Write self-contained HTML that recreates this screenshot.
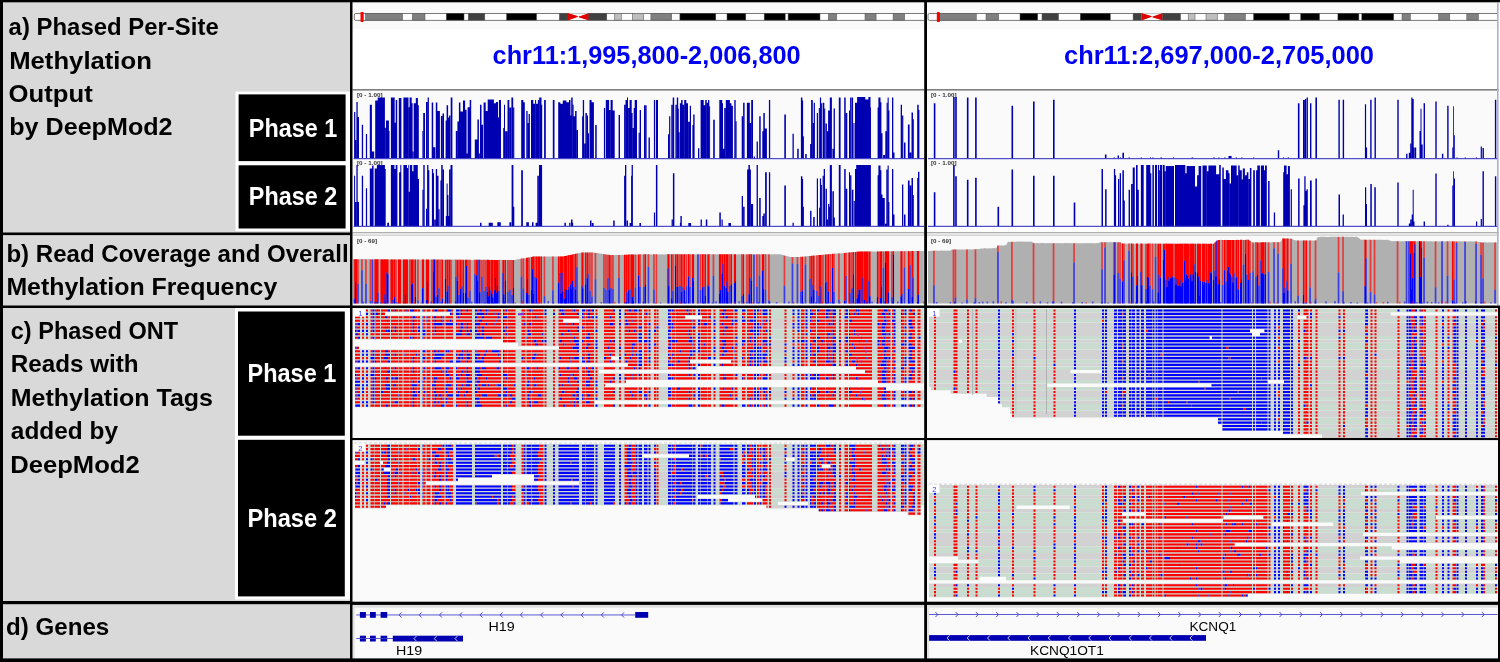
<!DOCTYPE html>
<html><head><meta charset="utf-8"><title>IGV phased methylation</title>
<style>html,body{margin:0;padding:0;background:#fff;}svg{display:block;will-change:transform}text{font-family:"Liberation Sans",sans-serif}</style></head>
<body><svg width="1500" height="662" viewBox="0 0 1500 662">
<defs>
<clipPath id="cpP1"><rect x="352.5" y="0" width="571.7" height="662"/></clipPath>
<clipPath id="cpP2"><rect x="927" y="0" width="571" height="662"/></clipPath>
<clipPath id="cp21"><rect x="927" y="308" width="573" height="130"/></clipPath>
</defs>
<rect x="0.00" y="0.00" width="1500.00" height="662.00" fill="#ffffff"/><rect x="0.00" y="0.00" width="351.00" height="662.00" fill="#d9d9d9"/><rect x="352.50" y="0.00" width="571.70" height="29.00" fill="#fafafa"/><rect x="352.50" y="29.00" width="571.70" height="60.00" fill="#ffffff"/><rect x="352.50" y="90.00" width="571.70" height="137.00" fill="#fafafa"/><rect x="352.50" y="227.00" width="571.70" height="5.50" fill="#ffffff"/><rect x="352.50" y="232.30" width="571.70" height="0.90" fill="#8c8c8c"/><rect x="352.50" y="233.20" width="571.70" height="2.30" fill="#e4e4e4"/><rect x="352.50" y="235.50" width="571.70" height="0.60" fill="#bdbdbd"/><rect x="352.50" y="236.00" width="571.70" height="70.00" fill="#fafafa"/><rect x="352.50" y="308.00" width="571.70" height="294.00" fill="#fafafa"/><rect x="352.50" y="604.00" width="571.70" height="56.00" fill="#fafafa"/><rect x="352.50" y="89.00" width="571.70" height="1.60" fill="#808080"/><rect x="927.00" y="0.00" width="571.60" height="29.00" fill="#fafafa"/><rect x="927.00" y="29.00" width="571.60" height="60.00" fill="#ffffff"/><rect x="927.00" y="90.00" width="571.60" height="137.00" fill="#fafafa"/><rect x="927.00" y="227.00" width="571.60" height="5.50" fill="#ffffff"/><rect x="927.00" y="232.30" width="571.60" height="0.90" fill="#8c8c8c"/><rect x="927.00" y="233.20" width="571.60" height="2.30" fill="#e4e4e4"/><rect x="927.00" y="235.50" width="571.60" height="0.60" fill="#bdbdbd"/><rect x="927.00" y="236.00" width="571.60" height="70.00" fill="#fafafa"/><rect x="927.00" y="308.00" width="571.60" height="294.00" fill="#fafafa"/><rect x="927.00" y="604.00" width="571.60" height="56.00" fill="#fafafa"/><rect x="927.00" y="89.00" width="571.60" height="1.60" fill="#808080"/><!--TRACKS--><path d="M354.1 158.6v-46.7h1.2v46.7zM355.3 158.6v-18.5h1v18.5zM356.4 158.6v-56.5h1.3v56.5zM357.7 158.6v-41.6h1.3v41.6zM361.8 158.6v-33.9h1.3v33.9zM365.9 158.6v-24.6h1.2v24.6zM369.8 158.6v-53.9h2.1v53.9zM371.9 158.6v-7.2h2.3v7.2zM375.2 158.6v-58h2.6v58zM377.7 158.6v-61.1h7.2v61.1zM384.9 158.6v-30.8h1v30.8zM386 158.6v-38h2.9v38zM388.8 158.6v-27.7h0.7v27.7zM390.9 158.6v-61.1h3.8v61.1zM394.7 158.6v-35.9h1v35.9zM395.7 158.6v-58.5h1.5v58.5zM398.8 158.6v-60.6h2.6v60.6zM403.4 158.6v-61.1h5.1v61.1zM408.6 158.6v-51.3h1v51.3zM409.6 158.6v-61.1h2.1v61.1zM411.6 158.6v-55.4h1v55.4zM412.7 158.6v-7.2h0.8v7.2zM413.7 158.6v-55.4h2.1v55.4zM415.8 158.6v-60.6h2.1v60.6zM417.8 158.6v-53.4h1v53.4zM422.4 158.6v-27.7h0.7v27.7zM423.2 158.6v-45.7h1.8v45.7zM426 158.6v-56.5h1.5v56.5zM427.6 158.6v-61.1h1.3v61.1zM431.7 158.6v-56h1.5v56zM433.2 158.6v-11.3h2.1v11.3zM435.8 158.6v-56h1.5v56zM437.3 158.6v-47.7h2.6v47.7zM440.9 158.6v-42.6h1.5v42.6zM442.5 158.6v-45.2h1.5v45.2zM445.6 158.6v-38h1v38zM446.6 158.6v-53.4h1.5v53.4zM448.1 158.6v-41.1h1v41.1zM449.1 158.6v-43.1h1.3v43.1zM450.7 158.6v-61.1h1.7v61.1zM455.8 158.6v-27.7h1.5v27.7zM457.4 158.6v-37h1.5v37zM458.9 158.6v-56h1.5v56zM460.4 158.6v-47.2h2.6v47.2zM463 158.6v-58h2.1v58zM465.1 158.6v-48.8h1.5v48.8zM466.6 158.6v-5.1h1v5.1zM467.6 158.6v-51.3h2.1v51.3zM469.7 158.6v-58.5h1.5v58.5zM474.8 158.6v-19h2.6v19zM477.4 158.6v-39h1.5v39zM478.9 158.6v-5.1h1v5.1zM480 158.6v-53.9h1.5v53.9zM481.5 158.6v-33.9h1.5v33.9zM483.6 158.6v-56h2.1v56zM485.6 158.6v-47.7h2.1v47.7zM487.7 158.6v-59h6.2v59zM493.8 158.6v-55.4h2.1v55.4zM495.9 158.6v-56.5h2.1v56.5zM498 158.6v-41.1h1v41.1zM499 158.6v-58.5h1v58.5zM495 158.6v-55.4h2.1v55.4zM497.1 158.6v-40.9h1.8v40.9zM498.9 158.6v-58.5h2.1v58.5zM503.2 158.6v-30.5h0.8v30.5zM504 158.6v-53.8h1v53.8zM505.1 158.6v-27.4h2.3v27.4zM507.5 158.6v-58.5h1.8v58.5zM509.4 158.6v-51.2h1.8v51.2zM511.4 158.6v-61.1h1.8v61.1zM513.3 158.6v-51.2h1v51.2zM521.2 158.6v-58.5h2.1v58.5zM523.3 158.6v-56.4h1.5v56.4zM526.3 158.6v-47.6h1.3v47.6zM527.7 158.6v-35.7h0.9v35.7zM528.6 158.6v-44.5h1.3v44.5zM531 158.6v-58.5h2.3v58.5zM533.2 158.6v-54.9h1.8v54.9zM535.1 158.6v-58.5h1v58.5zM536.1 158.6v-54.9h1.8v54.9zM537.9 158.6v-58.5h1.2v58.5zM539.2 158.6v-61.1h2.3v61.1zM541.4 158.6v-53.8h0.8v53.8zM544.1 158.6v-58.5h1.7v58.5zM552.8 158.6v-58.5h1.7v58.5zM558.2 158.6v-56.4h2.1v56.4zM560.2 158.6v-54.9h2.6v54.9zM562.8 158.6v-58h3.6v58zM566.4 158.6v-56.4h2.6v56.4zM569 158.6v-58.5h1.5v58.5zM570.5 158.6v-43h0.7v43zM571.2 158.6v-61.1h1.5v61.1zM572.8 158.6v-53.8h0.8v53.8zM573.6 158.6v-42.4h1.5v42.4zM575.1 158.6v-47.6h1.5v47.6zM576.7 158.6v-28.5h1.3v28.5zM582.1 158.6v-42.4h0.7v42.4zM582.8 158.6v-58.5h1.3v58.5zM584.2 158.6v-15h1.2v15zM585.4 158.6v-45.6h1.5v45.6zM587 158.6v-43h1v43zM588 158.6v-25.4h1v25.4zM589.5 158.6v-58.5h2.1v58.5zM591.6 158.6v-56.4h2.3v56.4zM595.2 158.6v-33.6h1.5v33.6zM603.9 158.6v-50.7h1.2v50.7zM605.8 158.6v-58.5h3.3v58.5zM609 158.6v-48.7h1.5v48.7zM610.6 158.6v-58.5h2.1v58.5zM612.6 158.6v-48.1h2.1v48.1zM618.6 158.6v-43.5h1.4v43.5zM624.1 158.6v-53.8h1.3v53.8zM625.5 158.6v-58.5h1.5v58.5zM627 158.6v-61.1h1v61.1zM628.1 158.6v-50.7h1.5v50.7zM629.6 158.6v-58.5h2.1v58.5zM631.6 158.6v-45.6h1v45.6zM632.7 158.6v-30.5h1v30.5zM633.7 158.6v-50.7h1v50.7zM634.7 158.6v-58.5h2.3v58.5zM638.6 158.6v-25.9h1v25.9zM639.7 158.6v-48.7h1.2v48.7zM644 158.6v-53.3h1v53.3zM640 158.6v-48.7h1v48.7zM645.1 158.6v-53.3h1.5v53.3zM648.5 158.6v-21.2h1.4v21.2zM653.9 158.6v-58.5h1.2v58.5zM655.9 158.6v-58.5h2.1v58.5zM668 158.6v-24.3h1v24.3zM669.1 158.6v-42.4h1.2v42.4zM671.3 158.6v-53.8h1.3v53.8zM672.7 158.6v-61.1h1.5v61.1zM675.4 158.6v-53.8h1.3v53.8zM676.8 158.6v-61.1h1.4v61.1zM678.2 158.6v-50.2h0.6v50.2zM678.8 158.6v-26.4h0.8v26.4zM679.9 158.6v-55.4h1.2v55.4zM681.1 158.6v-58.5h1.5v58.5zM682.6 158.6v-53.8h1.5v53.8zM684.2 158.6v-58.5h2.1v58.5zM686.2 158.6v-55.4h1.8v55.4zM688.1 158.6v-36.8h1.7v36.8zM689.8 158.6v-52.8h1.2v52.8zM692.4 158.6v-33.6h0.8v33.6zM693.2 158.6v-44h1.4v44zM698 158.6v-10.4h1.3v10.4zM700.6 158.6v-58.5h3.1v58.5zM703.7 158.6v-53.3h1.5v53.3zM705.2 158.6v-58.5h1.5v58.5zM706.8 158.6v-55.9h1.2v55.9zM708 158.6v-58.5h1.3v58.5zM709.4 158.6v-52.3h0.7v52.3zM713.2 158.6v-38.8h1.6v38.8zM719.3 158.6v-58.5h2.9v58.5zM722.2 158.6v-55.4h0.8v55.4zM723 158.6v-9.8h1.2v9.8zM724.2 158.6v-50.7h1.5v50.7zM725.8 158.6v-58.5h4.1v58.5zM729.9 158.6v-55.4h1.5v55.4zM731.4 158.6v-52.8h1.5v52.8zM734.3 158.6v-58.5h1.4v58.5zM735.8 158.6v-37.3h0.8v37.3zM741.7 158.6v-42.4h1.3v42.4zM743.1 158.6v-55.9h1.5v55.9zM746.9 158.6v-55.9h2.9v55.9zM749.7 158.6v-35.7h1.4v35.7zM751.2 158.6v-58.5h1.8v58.5zM753.8 158.6v-2.1h1.2v2.1zM756.6 158.6v-17.1h1.3v17.1zM759.2 158.6v-42.4h1.5v42.4zM762.3 158.6v-27.4h1v27.4zM763.3 158.6v-45.6h1.5v45.6zM764.8 158.6v-30h2.1v30zM768.9 158.6v-58.5h1.3v58.5zM784.4 158.6v-44h1.5v44zM784.3 158.6v-44h1.5v44zM792.5 158.6v-24.8h1.3v24.8zM797.2 158.6v-9.8h1.5v9.8zM800.9 158.6v-61.1h1.5v61.1zM802.4 158.6v-58h0.7v58zM803.1 158.6v-22.3h0.8v22.3zM805.2 158.6v-4.7h1.5v4.7zM810.1 158.6v-14.5h1v14.5zM811.1 158.6v-58.5h1.7v58.5zM812.9 158.6v-35.7h0.8v35.7zM813.7 158.6v-55.9h1.2v55.9zM816.8 158.6v-45.6h1.2v45.6zM818.8 158.6v-50.7h1v50.7zM819.9 158.6v-61.1h1.2v61.1zM821.1 158.6v-55.4h0.8v55.4zM822.6 158.6v-55.9h1.7v55.9zM824.4 158.6v-50.2h0.8v50.2zM825.5 158.6v-35.2h1.4v35.2zM827 158.6v-27.4h1.1v27.4zM828.1 158.6v-48.1h1.7v48.1zM829.8 158.6v-61.1h2.1v61.1zM832.4 158.6v-9.8h1.2v9.8zM833.6 158.6v-50.2h1.3v50.2zM838.8 158.6v-61.1h1.8v61.1zM844.2 158.6v-61.1h1.5v61.1zM845.8 158.6v-45.6h1.5v45.6zM849 158.6v-48.1h1v48.1zM850.1 158.6v-61.1h1.3v61.1zM851.7 158.6v-61.1h1.4v61.1zM853.5 158.6v-35.7h1v35.7zM855 158.6v-55.9h2.1v55.9zM857.1 158.6v-61.6h8.2v61.6zM865.3 158.6v-59h3.1v59zM868.4 158.6v-61.6h2.1v61.6zM870.4 158.6v-51.2h0.6v51.2zM877.6 158.6v-51.2h0.8v51.2zM878.4 158.6v-61.1h2.1v61.1zM880.5 158.6v-56.4h0.9v56.4zM881.4 158.6v-25.4h1.1v25.4zM883.1 158.6v-3.6h2v3.6zM885.3 158.6v-27.4h1.3v27.4zM886.6 158.6v-55.9h0.9v55.9zM887.6 158.6v-61.1h1.1v61.1zM888.7 158.6v-48.1h0.7v48.1zM892 158.6v-61.1h1.3v61.1zM893.3 158.6v-6.2h1.2v6.2zM900.7 158.6v-53.8h1.3v53.8zM902.1 158.6v-43h1.2v43zM904 158.6v-16h1.5v16zM907.9 158.6v-34.2h1.7v34.2zM909.7 158.6v-6.2h1.6v6.2zM911.5 158.6v-46.1h1.5v46.1zM913.1 158.6v-39.3h0.8v39.3zM917.2 158.6v-53.8h1.5v53.8zM918.7 158.6v-48.7h0.7v48.7z" fill="#0000b2"/><path d="M354.1 226.3v-50.5h1v50.5zM355.1 226.3v-24.2h1.2v24.2zM356.4 226.3v-61.3h1.3v61.3zM357.7 226.3v-24.2h1.3v24.2zM361.8 226.3v-50.5h1.3v50.5zM365.9 226.3v-38.1h1.2v38.1zM369.8 226.3v-57.7h2.3v57.7zM372.1 226.3v-60.8h1.5v60.8zM374.7 226.3v-57.7h2.3v57.7zM376.9 226.3v-61.3h8v61.3zM384.9 226.3v-57.2h0.8v57.2zM387.2 226.3v-3.6h1.8v3.6zM390.9 226.3v-61.3h3.5v61.3zM394.4 226.3v-57.2h1.3v57.2zM395.7 226.3v-61.3h1.7v61.3zM399.1 226.3v-54.1h1.2v54.1zM400.3 226.3v-61.3h1v61.3zM403.4 226.3v-61.3h3.6v61.3zM407 226.3v-58.2h1v58.2zM408 226.3v-61.3h0.7v61.3zM408.8 226.3v-34.5h1v34.5zM409.8 226.3v-61.3h2.4v61.3zM412.2 226.3v-55.1h1.3v55.1zM413.5 226.3v-61.3h4.3v61.3zM417.8 226.3v-47.4h1.2v47.4zM422.4 226.3v-36.6h0.8v36.6zM423.3 226.3v-61.3h1.4v61.3zM426 226.3v-17.5h1v17.5zM427.1 226.3v-61.3h1.3v61.3zM428.4 226.3v-56.1h0.9v56.1zM431.9 226.3v-57.2h1.3v57.2zM433.2 226.3v-53.1h0.8v53.1zM434.2 226.3v-6.7h1.5v6.7zM435.8 226.3v-57.2h1.3v57.2zM437.1 226.3v-50.5h1.4v50.5zM438.6 226.3v-17h1v17zM440.4 226.3v-45.8h0.8v45.8zM441.2 226.3v-61.3h1.5v61.3zM442.8 226.3v-56.7h1.2v56.7zM445.8 226.3v-10.3h0.8v10.3zM446.6 226.3v-42.8h1v42.8zM447.6 226.3v-31.4h0.8v31.4zM448.4 226.3v-10.3h0.7v10.3zM449.1 226.3v-56.7h1.3v56.7zM450.5 226.3v-61.3h2v61.3zM480 226.3v-3.6h1.5v3.6zM488.7 226.3v-3.6h4.1v3.6zM497.4 226.3v-4.1h2.6v4.1zM497.3 226.3v-4.1h1.3v4.1zM499.3 226.3v-4.1h1.5v4.1zM509.4 226.3v-4.1h1.8v4.1zM511.6 226.3v-61.3h1.8v61.3zM513.3 226.3v-19.6h1v19.6zM521.2 226.3v-56.1h1.7v56.1zM526.3 226.3v-4.1h2.6v4.1zM532 226.3v-4.1h1.5v4.1zM535.6 226.3v-3.6h1.7v3.6zM537.3 226.3v-50.5h1.6v50.5zM539 226.3v-61.3h3.1v61.3zM564.4 226.3v-3.6h1.5v3.6zM569.2 226.3v-3.6h1.3v3.6zM571 226.3v-6.7h1.5v6.7zM572.1 226.3v-3.6h1v3.6zM590 226.3v-5.7h1.5v5.7zM591.9 226.3v-3.4h1.7v3.4zM613.2 226.3v-5.7h1.5v5.7zM624.1 226.3v-50.5h1v50.5zM625 226.3v-61.3h1.3v61.3zM626.7 226.3v-5.7h1.3v5.7zM629.6 226.3v-3.4h1.5v3.4zM631.1 226.3v-50.5h0.8v50.5zM631.6 226.3v-61.3h1.3v61.3zM639.4 226.3v-3.4h1.5v3.4zM640 226.3v-3.4h1v3.4zM653.9 226.3v-13.9h1.2v13.9zM655.9 226.3v-61.3h1.5v61.3zM671.6 226.3v-6.7h1.2v6.7zM672.9 226.3v-53.1h1.5v53.1zM679.9 226.3v-3.6h0.7v3.6zM680.4 226.3v-10.3h1.4v10.3zM688.3 226.3v-3.4h2.8v3.4zM700.6 226.3v-6.7h1.3v6.7zM705.8 226.3v-6.7h1.5v6.7zM719.3 226.3v-13.9h1.5v13.9zM721.5 226.3v-6.7h1.2v6.7zM728.4 226.3v-3.4h2.6v3.4zM741.7 226.3v-30.4h1.3v30.4zM743.1 226.3v-19.6h1.5v19.6zM747.1 226.3v-56.7h1.3v56.7zM748.4 226.3v-61.3h1.5v61.3zM749.7 226.3v-56.7h1.2v56.7zM751 226.3v-22.2h2.1v22.2zM756.6 226.3v-61.3h1.3v61.3zM759.2 226.3v-28.3h1.5v28.3zM762.3 226.3v-10.3h1.3v10.3zM763.3 226.3v-12.9h1.5v12.9zM765.1 226.3v-54.1h1.7v54.1zM768.9 226.3v-54.1h1.3v54.1zM784.4 226.3v-40.7h1.5v40.7zM784.3 226.3v-40.7h1.5v40.7zM792.5 226.3v-3.6h1.3v3.6zM800.9 226.3v-50h1.5v50zM802.4 226.3v-47.4h0.7v47.4zM803.1 226.3v-19.6h0.8v19.6zM810.1 226.3v-15.5h1.4v15.5zM813.2 226.3v-9.3h1.5v9.3zM816.8 226.3v-47.9h1.2v47.9zM819 226.3v-18.5h0.8v18.5zM819.9 226.3v-47.9h1.2v47.9zM821.1 226.3v-41.2h0.8v41.2zM822.6 226.3v-50.5h1v50.5zM823.7 226.3v-57.2h1.3v57.2zM825.5 226.3v-37.6h1.4v37.6zM826.7 226.3v-6.7h1.3v6.7zM828.1 226.3v-22.2h1.2v22.2zM829.1 226.3v-19.6h0.7v19.6zM829.8 226.3v-61.3h2.1v61.3zM832.4 226.3v-35h1.5v35zM833.6 226.3v-8.8h1.3v8.8zM838.8 226.3v-61.3h1.8v61.3zM844.2 226.3v-57.2h1.5v57.2zM845.8 226.3v-37.6h1.5v37.6zM849 226.3v-54.1h1v54.1zM850.1 226.3v-51h1.3v51zM851.9 226.3v-36.6h1.5v36.6zM853.8 226.3v-25.2h1v25.2zM855 226.3v-57.2h1.2v57.2zM856.2 226.3v-61.3h14.7v61.3zM877.6 226.3v-51h0.8v51zM878.4 226.3v-60.8h2.1v60.8zM880.5 226.3v-56.1h0.9v56.1zM881.2 226.3v-31.9h1.3v31.9zM882.5 226.3v-28.3h2.3v28.3zM885 226.3v-2.6h1.3v2.6zM886.3 226.3v-56.7h1.2v56.7zM887.6 226.3v-60.8h1.1v60.8zM888.7 226.3v-24.2h0.7v24.2zM892 226.3v-57.2h1.3v57.2zM893 226.3v-11.8h1.5v11.8zM902 226.3v-41.7h1.3v41.7zM904 226.3v-11.8h1.5v11.8zM907.9 226.3v-45.8h1.7v45.8zM909.7 226.3v-40.7h1.6v40.7zM911.5 226.3v-48.4h1.5v48.4zM913.1 226.3v-31.4h0.8v31.4zM917.2 226.3v-48.4h1v48.4zM918 226.3v-54.6h1.4v54.6z" fill="#0000b2"/><path d="M933.8 158.6v-55.4h1.6v55.4zM953.1 158.6v-61.6h1.6v61.6zM955.2 158.6v-61.6h1.6v61.6zM966.9 158.6v-61h1.6v61zM975.1 158.6v-61h1.6v61zM1011.5 158.6v-52.9h1.6v52.9zM1033 158.6v-57.1h1.6v57.1zM1053 158.6v-58.9h1.6v58.9zM1104.9 158.6v-4.1h1.6v4.1zM1113.7 158.6v-1h1.2v1zM1117.6 158.6v-3.1h1.4v3.1zM1119.9 158.6v-1h1.2v1zM1122.4 158.6v-5.8h1.6v5.8zM1128.5 158.6v-1h1.4v1zM1140.7 158.6v-1h1.2v1zM1149.9 158.6v-1h1.2v1zM1152.4 158.6v-1h1.2v1zM1160.4 158.6v-1.2h1.6v1.2zM1172.9 158.6v-1h1.2v1zM1191.6 158.6v-1h1.6v1zM1213.1 158.6v-1h1.6v1zM1213.1 158.6v-1h1.4v1zM1218.2 158.6v-1h1.2v1zM1224.2 158.6v-1h1.2v1zM1228.5 158.6v-2.5h3.1v2.5zM1235.7 158.6v-1h1.2v1zM1241.2 158.6v-1h1.2v1zM1253.1 158.6v-1.2h1.2v1.2zM1277.8 158.6v-8.3h1.4v8.3zM1282.9 158.6v-1h1.2v1zM1287.8 158.6v-1h1.2v1zM1297.9 158.6v-55.4h1.6v55.4zM1303 158.6v-58.5h1.8v58.5zM1304.9 158.6v-59.5h1.2v59.5zM1306.5 158.6v-61h1.4v61zM1310 158.6v-55.4h1.4v55.4zM1315.4 158.6v-61h1.6v61zM1338.4 158.6v-58.9h1.4v58.9zM1342.7 158.6v-58.9h1.4v58.9zM1364.9 158.6v-54.4h1.2v54.4zM1366.1 158.6v-11h1v11zM1370.2 158.6v-58.9h1.4v58.9zM1374.5 158.6v-61h1.4v61zM1397.3 158.6v-58.9h1.4v58.9zM1406.1 158.6v-4.8h1.4v4.8zM1408.8 158.6v-5.8h1.4v5.8zM1410.2 158.6v-15.1h1v15.1zM1411.3 158.6v-61h1.2v61zM1412.5 158.6v-59.5h1.2v59.5zM1413.7 158.6v-11h1v11zM1415 158.6v-11h1.2v11zM1419.5 158.6v-27.5h1v27.5zM1420.5 158.6v-49.8h1v49.8zM1421.5 158.6v-14.1h1.2v14.1zM1423.6 158.6v-55.4h1.4v55.4zM1435.3 158.6v-57.1h1.4v57.1zM1441.9 158.6v-4.8h1.4v4.8zM1447.2 158.6v-52.9h1.4v52.9zM1452.3 158.6v-11h0.8v11zM1453.2 158.6v-52.3h0.8v52.3zM1454 158.6v-23.4h0.8v23.4zM1456.5 158.6v-1h1.2v1zM1464.7 158.6v-1h1.2v1zM1475.8 158.6v-1h1.2v1zM1480.7 158.6v-12h1.2v12zM1482.5 158.6v-10.5h1.4v10.5zM1494.9 158.6v-58.9h1.4v58.9z" fill="#0000b2"/><path d="M933.8 226.3v-34.1h1.6v34.1zM953.1 226.3v-61.3h1.6v61.3zM955.2 226.3v-50h1.6v50zM966.9 226.3v-46.5h1.6v46.5zM975.1 226.3v-48.5h1.6v48.5zM997.5 226.3v-19.5h1.6v19.5zM1011.5 226.3v-56.8h1.6v56.8zM1033 226.3v-50.6h1.6v50.6zM1053 226.3v-50.6h1.6v50.6zM1073.7 226.3v-23.9h1.6v23.9zM1101.5 226.3v-57.2h1.5v57.2zM1105.1 226.3v-37.1h1.5v37.1zM1113.9 226.3v-57.2h1.3v57.2zM1115.2 226.3v-51h0.9v51zM1118 226.3v-47.4h1.2v47.4zM1119.7 226.3v-53.1h1.3v53.1zM1122.4 226.3v-56.1h1.5v56.1zM1123.9 226.3v-25.8h0.9v25.8zM1128.6 226.3v-36.6h1.4v36.6zM1131.1 226.3v-42.2h1.5v42.2zM1132.7 226.3v-58.7h2.1v58.7zM1136 226.3v-61.3h1.6v61.3zM1137.6 226.3v-36.6h1.2v36.6zM1140.9 226.3v-61.3h2.8v61.3zM1146.2 226.3v-61.3h4.1v61.3zM1150.3 226.3v-53.1h1v53.1zM1152.4 226.3v-61.3h1.5v61.3zM1155 226.3v-61.3h2.1v61.3zM1158 226.3v-61.3h1v61.3zM1159.1 226.3v-56.1h0.8v56.1zM1159.9 226.3v-61.3h2.3v61.3zM1162.9 226.3v-61.3h1.8v61.3zM1164.7 226.3v-55.1h1v55.1zM1165.8 226.3v-60.3h8.2v60.3zM1175 226.3v-61.3h10.3v61.3zM1185.3 226.3v-53.1h1.3v53.1zM1186.6 226.3v-60.3h8.4v60.3zM1195 226.3v-39.7h2.1v39.7zM1197.1 226.3v-51h1.5v51zM1198.6 226.3v-60.3h2.6v60.3zM1202.5 226.3v-60.8h4.3v60.8zM1206.9 226.3v-55.1h1.5v55.1zM1208.4 226.3v-60.8h7.7v60.8zM1216.1 226.3v-52h3.1v52zM1219.2 226.3v-61.3h1.6v61.3zM1222.3 226.3v-58.7h1.5v58.7zM1223.8 226.3v-47.4h2.1v47.4zM1225.9 226.3v-56.1h2.6v56.1zM1228.4 226.3v-53.1h1.2v53.1zM1229.7 226.3v-42.8h1.3v42.8zM1231 226.3v-60.8h5.7v60.8zM1236.6 226.3v-51h1.5v51zM1238.2 226.3v-60.8h1.5v60.8zM1239.7 226.3v-56.1h2.1v56.1zM1241.8 226.3v-46.9h1v46.9zM1242.8 226.3v-57.7h2.1v57.7zM1244.9 226.3v-48.9h2.1v48.9zM1246.9 226.3v-54.1h1.5v54.1zM1248.5 226.3v-47.4h1.5v47.4zM1245 226.3v-51h1.8v51zM1246.8 226.3v-54.1h1.2v54.1zM1248.9 226.3v-47.4h1v47.4zM1249.9 226.3v-58.2h1.5v58.2zM1253.2 226.3v-56.1h1.7v56.1zM1256.1 226.3v-56.1h1.2v56.1zM1257.3 226.3v-60.8h2.6v60.8zM1260.9 226.3v-60.8h3.1v60.8zM1264 226.3v-56.1h1v56.1zM1265 226.3v-60.8h1.8v60.8zM1268.1 226.3v-45.3h1.5v45.3zM1273.8 226.3v-13.9h1.3v13.9zM1283.2 226.3v-54.1h0.8v54.1zM1284 226.3v-60.8h2.6v60.8zM1286.6 226.3v-52h1.3v52zM1287.9 226.3v-60.3h2v60.3zM1290.7 226.3v-37.1h1.2v37.1zM1298.1 226.3v-47.9h1.5v47.9zM1303.4 226.3v-21.1h0.9v21.1zM1304.3 226.3v-50h1.3v50zM1305.6 226.3v-35.5h1v35.5zM1306.6 226.3v-37.1h1.2v37.1zM1310 226.3v-45.8h1.7v45.8zM1315.4 226.3v-47.9h1.5v47.9zM1338.5 226.3v-31.9h1.5v31.9zM1342.6 226.3v-11.8h1.3v11.8zM1365 226.3v-39.1h1.2v39.1zM1366.2 226.3v-22.2h0.8v22.2zM1370.3 226.3v-42.2h1.5v42.2zM1374.3 226.3v-39.1h1.5v39.1zM1397.3 226.3v-43.8h1.4v43.8zM1408.8 226.3v-2.7h1.4v2.7zM1410.2 226.3v-6.8h1.4v6.8zM1411.7 226.3v-11.9h1v11.9zM1412.7 226.3v-36.6h1v36.6zM1413.7 226.3v-4.7h0.8v4.7zM1423.6 226.3v-4.7h1.4v4.7zM1435.3 226.3v-52.7h1.4v52.7zM1447.2 226.3v-1.6h1.4v1.6zM1452.3 226.3v-40.7h0.8v40.7zM1453.2 226.3v-55.1h0.8v55.1zM1454 226.3v-47.9h1v47.9zM1476 226.3v-4.7h1.2v4.7zM1480.7 226.3v-7.2h1.2v7.2zM1482.5 226.3v-55.1h1.4v55.1zM1494.9 226.3v-50h1.4v50z" fill="#0000b2"/><rect x="353.60" y="158.10" width="570.60" height="1.10" fill="#3b3bc8"/><rect x="353.60" y="225.80" width="570.60" height="1.10" fill="#3b3bc8"/><rect x="928.00" y="158.10" width="569.50" height="1.10" fill="#3b3bc8"/><rect x="928.00" y="225.80" width="569.50" height="1.10" fill="#3b3bc8"/><path d="M353.6 303.6L353.6 259.2L354.6 259.1L355.6 259.3L356.6 259.1L357.6 259.2L358.6 259.2L359.6 259.1L360.6 259.2L361.6 259.1L362.6 259.2L363.6 259.1L364.6 259.1L365.6 259.2L366.6 259.4L367.6 259.2L368.6 259.2L369.6 259.3L370.6 259.4L371.6 259.3L372.6 259.3L373.6 259.4L374.6 259.2L375.6 259.4L376.6 259.3L377.6 259.2L378.6 259.2L379.6 259.3L380.6 259.4L381.6 259.2L382.6 259.4L383.6 259.4L384.6 259.3L385.6 259.4L386.6 259.2L387.6 259.2L388.6 259.3L389.6 259.4L390.6 259.4L391.6 259.3L392.6 259.4L393.6 259.4L394.6 259.3L395.6 259.5L396.6 259.5L397.6 259.3L398.6 259.4L399.6 259.4L400.6 259.5L401.6 259.5L402.6 259.4L403.6 259.6L404.6 259.3L405.6 259.4L406.6 259.5L407.6 259.4L408.6 259.5L409.6 259.3L410.6 259.5L411.6 259.6L412.6 259.5L413.6 259.6L414.6 259.5L415.6 259.6L416.6 259.5L417.6 259.5L418.6 259.5L419.6 259.6L420.6 259.7L421.6 259.5L422.6 259.6L423.6 259.4L424.6 259.6L425.6 259.6L426.6 259.7L427.6 259.7L428.6 259.5L429.6 259.5L430.6 259.6L431.6 259.4L432.6 259.6L433.6 259.5L434.6 259.5L435.6 259.5L436.6 259.7L437.6 259.5L438.6 259.5L439.6 259.6L440.6 259.7L441.6 259.5L442.6 259.6L443.6 259.7L444.6 259.8L445.6 259.8L446.6 259.8L447.6 259.6L448.6 259.6L449.6 259.6L450.6 259.8L451.6 259.8L452.6 259.6L453.6 259.6L454.6 259.6L455.6 259.6L456.6 259.7L457.6 259.7L458.6 259.7L459.6 259.6L460.6 259.7L461.6 259.7L462.6 259.8L463.6 259.9L464.6 259.8L465.6 259.8L466.6 259.8L467.6 259.8L468.6 259.6L469.6 259.9L470.6 259.9L471.6 259.9L472.6 259.9L473.6 259.8L474.6 259.8L475.6 259.7L476.6 259.9L477.6 259.7L478.6 259.7L479.6 259.7L480.6 259.7L481.6 259.8L482.6 259.7L483.6 259.7L484.6 259.7L485.6 259.7L486.6 259.8L487.6 259.7L488.6 260L489.6 259.9L490.6 259.8L491.6 259.8L492.6 259.8L493.6 259.9L494.6 259.8L495.6 260L496.6 260.1L497.6 259.9L498.6 259.9L499.6 259.8L500.6 259.8L501.6 259.9L502.6 259.9L503.6 260L504.6 259.9L505.6 259.8L506.6 260.1L507.6 260L508.6 259.9L509.6 260L510.6 259.8L511.6 260L512.6 260.1L513.6 260.1L514.6 260L515.6 259.7L516.6 259.5L517.6 259.3L518.6 259.3L519.6 259.1L520.6 259L521.6 258.7L522.6 258.5L523.6 258.5L524.6 258.4L525.6 258.2L526.6 258L527.6 257.8L528.6 257.6L529.6 257.3L530.6 257.2L531.6 257L532.6 256.8L533.6 256.6L534.6 256.5L535.6 256.4L536.6 256.6L537.6 256.6L538.6 256.5L539.6 256.6L540.6 256.6L541.6 256.6L542.6 256.5L543.6 256.4L544.6 256.4L545.6 256.4L546.6 256.4L547.6 256.5L548.6 256.6L549.6 256.6L550.6 256.5L551.6 256.5L552.6 256.6L553.6 256.4L554.6 256.5L555.6 256.6L556.6 256.6L557.6 256.6L558.6 256.5L559.6 256.4L560.6 256.6L561.6 256.4L562.6 256.6L563.6 256.5L564.6 256.1L565.6 255.9L566.6 255.9L567.6 255.6L568.6 255.3L569.6 255L570.6 254.8L571.6 254.9L572.6 254.6L573.6 254.2L574.6 254.2L575.6 254.1L576.6 253.8L577.6 253.5L578.6 253.3L579.6 253L580.6 252.7L581.6 252.8L582.6 252.6L583.6 252.6L584.6 252.7L585.6 252.6L586.6 252.7L587.6 252.7L588.6 252.5L589.6 252.5L590.6 252.5L591.6 252.5L592.6 252.6L593.6 252.5L594.6 252.7L595.6 252.7L596.6 253.1L597.6 253.1L598.6 253.3L599.6 253.5L600.6 253.7L601.6 253.7L602.6 254L603.6 254.1L604.6 254.2L605.6 254.4L606.6 254.4L607.6 254.7L608.6 254.7L609.6 254.8L610.6 255.2L611.6 255.1L612.6 255.1L613.6 255.2L614.6 255.1L615.6 255L616.6 255L617.6 255L618.6 255L619.6 254.8L620.6 254.9L621.6 254.8L622.6 254.8L623.6 254.9L624.6 254.8L625.6 254.8L626.6 254.8L627.6 254.8L628.6 254.6L629.6 254.7L630.6 254.6L631.6 254.6L632.6 254.6L633.6 254.5L634.6 254.5L635.6 254.4L636.6 254.5L637.6 254.4L638.6 254.5L639.6 254.4L640.6 254.2L641.6 254.3L642.6 254.4L643.6 254.4L644.6 254.2L645.6 254.2L646.6 254.3L647.6 254.2L648.6 254.2L649.6 254.2L650.6 254.4L651.6 254.4L652.6 254.4L653.6 254.2L654.6 254.4L655.6 254.3L656.6 254.2L657.6 254.4L658.6 254.4L659.6 254.2L660.6 254.4L661.6 254.3L662.6 254.3L663.6 254.4L664.6 254.4L665.6 254.2L666.6 254.3L667.6 254.3L668.6 254.3L669.6 254.2L670.6 254.2L671.6 254.4L672.6 254.2L673.6 254.3L674.6 254.3L675.6 254.2L676.6 254.2L677.6 254.3L678.6 254.3L679.6 254.2L680.6 254.4L681.6 254.4L682.6 254.4L683.6 254.2L684.6 254.2L685.6 254.2L686.6 254.4L687.6 254.2L688.6 254.2L689.6 254.3L690.6 254.4L691.6 254.4L692.6 254.2L693.6 254.2L694.6 254.4L695.6 254.3L696.6 254.4L697.6 254.2L698.6 254.2L699.6 254.4L700.6 254.3L701.6 254.2L702.6 254.4L703.6 254.3L704.6 254.4L705.6 254.2L706.6 254.4L707.6 254.2L708.6 254.4L709.6 254.3L710.6 254.3L711.6 254.3L712.6 254.4L713.6 254.2L714.6 254.2L715.6 254.3L716.6 254.2L717.6 254.2L718.6 254.2L719.6 254.2L720.6 254.2L721.6 254.2L722.6 254.2L723.6 254.4L724.6 254.2L725.6 254.3L726.6 254.2L727.6 254.3L728.6 254.2L729.6 254.2L730.6 254.2L731.6 254.4L732.6 254.3L733.6 254.2L734.6 254.3L735.6 254.4L736.6 254.2L737.6 254.4L738.6 254.3L739.6 254.3L740.6 254.4L741.6 254.3L742.6 254.3L743.6 254.4L744.6 254.4L745.6 254.3L746.6 254.4L747.6 254.4L748.6 254.3L749.6 254.3L750.6 254.3L751.6 254.2L752.6 254.2L753.6 254.2L754.6 254.4L755.6 254.2L756.6 254.2L757.6 254.2L758.6 254.4L759.6 254.4L760.6 254.4L761.6 254.2L762.6 254.2L763.6 254.2L764.6 254.3L765.6 254.2L766.6 254.3L767.6 254.2L768.6 254.4L769.6 254.4L770.6 254.3L771.6 254.2L772.6 254.4L773.6 254.2L774.6 254.3L775.6 254.2L776.6 254.3L777.6 254.3L778.6 254.3L779.6 254.2L780.6 254.5L781.6 254.6L782.6 254.9L783.6 255.1L784.6 255.5L785.6 255.7L786.6 255.9L787.6 256.3L788.6 256.5L789.6 256.9L790.6 257L791.6 257.1L792.6 257L793.6 257.1L794.6 257.1L795.6 257L796.6 256.9L797.6 257.1L798.6 256.9L799.6 257.1L800.6 257L801.6 256.7L802.6 256.8L803.6 256.8L804.6 256.6L805.6 256.5L806.6 256.4L807.6 256.1L808.6 256.1L809.6 256L810.6 256L811.6 255.9L812.6 255.8L813.6 255.7L814.6 255.7L815.6 255.5L816.6 255.4L817.6 255.2L818.6 255L819.6 254.9L820.6 254.9L821.6 254.7L822.6 254.9L823.6 254.7L824.6 254.6L825.6 254.6L826.6 254.5L827.6 254.4L828.6 254.1L829.6 254.3L830.6 254.2L831.6 254L832.6 253.9L833.6 253.9L834.6 253.6L835.6 253.7L836.6 253.5L837.6 253.4L838.6 253.3L839.6 253.4L840.6 253.2L841.6 253.2L842.6 253.2L843.6 253L844.6 252.9L845.6 252.8L846.6 252.8L847.6 252.7L848.6 252.6L849.6 252.5L850.6 252.3L851.6 252.2L852.6 252.2L853.6 252.2L854.6 252L855.6 252L856.6 251.7L857.6 251.7L858.6 251.6L859.6 251.7L860.6 251.7L861.6 251.6L862.6 251.5L863.6 251.6L864.6 251.5L865.6 251.5L866.6 251.4L867.6 251.6L868.6 251.4L869.6 251.7L870.6 251.6L871.6 251.3L872.6 251.5L873.6 251.6L874.6 251.6L875.6 251.4L876.6 251.4L877.6 251.3L878.6 251.6L879.6 251.3L880.6 251.4L881.6 251.3L882.6 251.4L883.6 251.5L884.6 251.3L885.6 251.5L886.6 251.4L887.6 251.5L888.6 251.4L889.6 251.2L890.6 251.4L891.6 251.3L892.6 251.2L893.6 251.1L894.6 251.3L895.6 251.3L896.6 251.2L897.6 251.1L898.6 251.2L899.6 251.2L900.6 251.3L901.6 251.1L902.6 251.3L903.6 251.3L904.6 251.1L905.6 251.3L906.6 251.2L907.6 251.3L908.6 251.1L909.6 251.1L910.6 251.1L911.6 251.3L912.6 251.1L913.6 251.1L914.6 251.1L915.6 251L916.6 250.9L917.6 250.9L918.6 251.2L919.6 251L920.6 251.2L921.6 250.9L922.6 250.9L923.6 251L923.8 251L923.8 303.6z" fill="#b0b0b0"/><path d="M353.6 298.8v-39.6h1.15v39.6zM354.9 282.2v-23h1.15v23zM355.9 303.6v-44.4h1.15v44.4zM357.4 284.1v-24.9h1.15v24.9zM374.4 303.6v-44.3h1.15v44.3zM375.4 303.6v-44.3h1.15v44.3zM376.4 301.9v-42.6h1.15v42.6zM377.4 292.6v-33.3h1.15v33.3zM380.4 301.9v-42.5h1.15v42.5zM381.4 303.6v-44.3h1.15v44.3zM382.4 303.6v-44.2h1.15v44.2zM383.4 303.6v-44.2h1.15v44.2zM384.4 294.8v-35.5h1.15v35.5zM385.4 303.6v-44.2h1.15v44.2zM386.4 272.6v-13.2h1.15v13.2zM387.4 274.3v-14.9h1.15v14.9zM390.4 303.2v-43.8h1.15v43.8zM391.4 303.6v-44.2h1.15v44.2zM392.4 300v-40.6h1.15v40.6zM393.9 297.2v-37.8h1.15v37.8zM395.4 302.1v-42.7h1.15v42.7zM397.9 303.4v-44h1.15v44zM398.9 303.6v-44.2h1.15v44.2zM399.9 303.6v-44.2h1.15v44.2zM402.9 303.6v-44.1h1.15v44.1zM403.9 303.6v-44.1h1.15v44.1zM404.9 294.2v-34.7h1.15v34.7zM405.9 303.6v-44.1h1.15v44.1zM406.9 303.6v-44.1h1.15v44.1zM409.4 303.6v-44.1h1.15v44.1zM410.9 285v-25.5h1.15v25.5zM411.9 283.5v-24h1.15v24zM413.4 303.6v-44.1h1.15v44.1zM414.9 296.4v-36.9h1.15v36.9zM421.9 288.2v-28.7h1.15v28.7zM422.9 303.6v-44h1.15v44zM425.9 300v-40.5h1.15v40.5zM426.9 281.7v-22.1h1.15v22.1zM427.9 303.6v-44h1.15v44zM431.4 303.6v-44h1.15v44zM432.9 271.3v-11.7h1.15v11.7zM435.4 296.8v-37.2h1.15v37.2zM436.9 294.4v-34.7h1.15v34.7zM438.4 288.2v-28.6h1.15v28.6zM440.4 301.6v-42h1.15v42zM441.9 298.4v-38.7h1.15v38.7zM444.9 279.1v-19.4h1.15v19.4zM446.4 291.6v-31.9h1.15v31.9zM447.4 285.8v-26.1h1.15v26.1zM448.9 303.6v-43.9h1.15v43.9zM450.4 303.6v-43.9h1.15v43.9zM455.4 276.6v-16.8h1.15v16.8zM456.9 280.4v-20.7h1.15v20.7zM458.4 295.1v-35.4h1.15v35.4zM459.9 289v-29.3h1.15v29.3zM461.4 286.3v-26.5h1.15v26.5zM462.9 292.4v-32.7h1.15v32.7zM464.9 292.9v-33.1h1.15v33.1zM465.9 265.9v-6.1h1.15v6.1zM467.4 297.4v-37.6h1.15v37.6zM474.4 274v-14.2h1.15v14.2zM475.9 275.6v-15.8h1.15v15.8zM476.9 280.3v-20.5h1.15v20.5zM479.4 292.3v-32.5h1.15v32.5zM485.4 287.1v-27.2h1.15v27.2zM486.9 291.9v-32.1h1.15v32.1zM487.9 296.2v-36.4h1.15v36.4zM488.9 287.2v-27.3h1.15v27.3zM490.4 290.3v-30.4h1.15v30.4zM491.4 293.7v-33.8h1.15v33.8zM492.4 297.2v-37.3h1.15v37.3zM493.9 290.3v-30.4h1.15v30.4zM494.9 277.7v-17.8h1.15v17.8zM495.9 292.7v-32.8h1.15v32.8zM496.9 285.9v-26h1.15v26zM498.4 290.9v-30.9h1.15v30.9zM502.4 273v-13.1h1.15v13.1zM503.4 294.2v-34.2h1.15v34.2zM504.9 280.2v-20.2h1.15v20.2zM511.4 295.1v-35.1h1.15v35.1zM512.9 287.9v-27.9h1.15v27.9zM525.9 292.9v-35.1h1.15v35.1zM526.9 278.8v-21.1h1.15v21.1zM528.4 294.8v-37.4h1.15v37.4zM530.9 289.8v-32.8h1.15v32.8zM531.9 269.3v-12.5h1.15v12.5zM532.9 294.1v-37.5h1.15v37.5zM534.4 276.9v-20.4h1.15v20.4zM535.9 278.2v-21.7h1.15v21.7zM537.4 302.5v-46h1.15v46zM538.4 303.4v-46.9h1.15v46.9zM539.4 303.6v-47.1h1.15v47.1zM540.9 303.6v-47.1h1.15v47.1zM557.9 282.7v-26.2h1.15v26.2zM559.4 273.1v-16.6h1.15v16.6zM560.4 293.4v-36.9h1.15v36.9zM561.4 272.9v-16.4h1.15v16.4zM562.4 291.6v-35.2h1.15v35.2zM563.9 298.8v-42.7h1.15v42.7zM564.9 288.8v-32.9h1.15v32.9zM565.9 289.9v-34.2h1.15v34.2zM567.4 290.1v-34.7h1.15v34.7zM568.4 286.9v-31.8h1.15v31.8zM569.9 284.5v-29.6h1.15v29.6zM570.9 288.4v-33.7h1.15v33.7zM571.9 281.1v-26.6h1.15v26.6zM573.4 286.9v-32.8h1.15v32.8zM574.9 289.2v-35.4h1.15v35.4zM576.4 267.3v-13.8h1.15v13.8zM581.4 285.4v-32.8h1.15v32.8zM582.4 288.3v-35.7h1.15v35.7zM584.9 284.3v-31.7h1.15v31.7zM586.4 278.2v-25.6h1.15v25.6zM587.4 274.1v-21.5h1.15v21.5zM607.4 278.1v-23.3h1.15v23.3zM608.9 290v-34.9h1.15v34.9zM610.4 288v-32.8h1.15v32.8zM623.9 303.3v-48.6h1.15v48.6zM625.4 302v-47.3h1.15v47.3zM626.4 292.3v-37.6h1.15v37.6zM627.9 290.3v-35.7h1.15v35.7zM629.4 289.5v-34.9h1.15v34.9zM630.9 303.6v-49.1h1.15v49.1zM631.9 296.9v-42.4h1.15v42.4zM632.9 300.7v-46.2h1.15v46.2zM637.9 275.5v-21.1h1.15v21.1zM639.4 286.9v-32.6h1.15v32.6zM643.4 287.1v-32.8h1.15v32.8zM644.9 285v-30.7h1.15v30.7zM667.4 268.3v-14h1.15v14zM668.4 286.1v-31.8h1.15v31.8zM670.9 298.3v-44h1.15v44zM672.4 290.7v-36.4h1.15v36.4zM674.9 265.4v-11.1h1.15v11.1zM676.4 286.9v-32.6h1.15v32.6zM677.4 286.7v-32.4h1.15v32.4zM679.4 286.1v-31.8h1.15v31.8zM680.9 291.9v-37.6h1.15v37.6zM682.4 287.2v-32.9h1.15v32.9zM683.9 290.3v-36h1.15v36zM687.9 276.4v-22.1h1.15v22.1zM689.4 287v-32.7h1.15v32.7zM691.9 277.9v-23.6h1.15v23.6zM692.9 280.6v-26.3h1.15v26.3zM701.9 287.2v-32.9h1.15v32.9zM703.4 286.4v-32.1h1.15v32.1zM704.9 295.6v-41.3h1.15v41.3zM707.4 285.2v-30.9h1.15v30.9zM708.4 286.5v-32.2h1.15v32.2zM718.9 293.8v-39.5h1.15v39.5zM719.9 290v-35.7h1.15v35.7zM721.4 273.8v-19.5h1.15v19.5zM722.4 263.4v-9.1h1.15v9.1zM723.9 286v-31.7h1.15v31.7zM725.4 287.9v-33.6h1.15v33.6zM726.4 281.6v-27.3h1.15v27.3zM727.4 291.7v-37.4h1.15v37.4zM729.4 285.6v-31.3h1.15v31.3zM730.9 284.3v-30h1.15v30zM733.9 282.9v-28.6h1.15v28.6zM734.9 280.9v-26.6h1.15v26.6zM741.4 296v-41.7h1.15v41.7zM742.9 293.7v-39.4h1.15v39.4zM748.4 294.3v-40h1.15v40zM749.4 278.1v-23.8h1.15v23.8zM750.9 280.9v-26.6h1.15v26.6zM761.9 270.8v-16.5h1.15v16.5zM762.9 288.6v-34.3h1.15v34.3zM800.4 291.9v-35.1h1.15v35.1zM801.9 290.6v-33.9h1.15v33.9zM809.4 279.1v-23.1h1.15v23.1zM810.9 296.3v-40.5h1.15v40.5zM812.4 284.9v-29.2h1.15v29.2zM813.4 290v-34.5h1.15v34.5zM818.4 296v-40.9h1.15v40.9zM819.4 303.6v-48.6h1.15v48.6zM820.4 286.5v-31.6h1.15v31.6zM824.9 283v-28.5h1.15v28.5zM826.4 281.7v-27.4h1.15v27.4zM827.9 291.7v-37.5h1.15v37.5zM831.9 268.1v-14.3h1.15v14.3zM833.4 292.1v-38.4h1.15v38.4zM843.9 300.7v-47.8h1.15v47.8zM845.4 276v-23.3h1.15v23.3zM848.4 303.6v-51.1h1.15v51.1zM849.4 293v-40.6h1.15v40.6zM851.4 288.3v-36.1h1.15v36.1zM852.9 274.3v-22.2h1.15v22.2zM854.9 302.2v-50.2h1.15v50.2zM856.4 298.5v-46.7h1.15v46.7zM857.4 294.6v-42.9h1.15v42.9zM858.4 289.7v-38.1h1.15v38.1zM859.4 289.4v-37.8h1.15v37.8zM860.4 303.6v-52h1.15v52zM861.4 303.6v-52h1.15v52zM862.4 277.4v-25.8h1.15v25.8zM863.9 299.9v-48.3h1.15v48.3zM864.9 303.6v-52.1h1.15v52.1zM865.9 303.6v-52.1h1.15v52.1zM866.9 303.6v-52.1h1.15v52.1zM868.4 281.1v-29.5h1.15v29.5zM869.4 296.3v-44.8h1.15v44.8zM876.9 296.5v-45h1.15v45zM878.4 303.6v-52.2h1.15v52.2zM879.9 298.1v-46.7h1.15v46.7zM880.9 286.4v-35.1h1.15v35.1zM884.9 262.6v-11.3h1.15v11.3zM885.9 303.6v-52.3h1.15v52.3zM886.9 303.6v-52.3h1.15v52.3zM887.9 292.4v-41.1h1.15v41.1zM891.4 297.3v-46h1.15v46zM892.9 254.5v-3.2h1.15v3.2zM900.4 296.5v-45.2h1.15v45.2zM901.4 293.9v-42.7h1.15v42.7zM907.9 289.1v-37.9h1.15v37.9zM909.4 265.2v-14h1.15v14zM911.4 297.1v-46h1.15v46zM912.4 277.4v-26.3h1.15v26.3zM916.9 301.9v-50.9h1.15v50.9zM917.9 294.8v-43.8h1.15v43.8z" fill="#ff0000"/><path d="M353.6 303.6v-4.8h1.15v4.8zM354.9 303.6v-21.4h1.15v21.4zM357.4 303.6v-19.5h1.15v19.5zM376.4 303.6v-1.7h1.15v1.7zM377.4 303.6v-11h1.15v11zM380.4 303.6v-1.7h1.15v1.7zM384.4 303.6v-8.8h1.15v8.8zM386.4 303.6v-31h1.15v31zM387.4 303.6v-29.3h1.15v29.3zM390.4 303.6v-0.4h1.15v0.4zM392.4 303.6v-3.6h1.15v3.6zM393.9 303.6v-6.4h1.15v6.4zM395.4 303.6v-1.5h1.15v1.5zM404.9 303.6v-9.4h1.15v9.4zM410.9 303.6v-18.6h1.15v18.6zM411.9 303.6v-20.1h1.15v20.1zM414.9 303.6v-7.2h1.15v7.2zM421.9 303.6v-15.4h1.15v15.4zM425.9 303.6v-3.6h1.15v3.6zM426.9 303.6v-21.9h1.15v21.9zM432.9 303.6v-32.3h1.15v32.3zM433.9 303.6v-44h1.15v44zM435.4 303.6v-6.8h1.15v6.8zM436.9 303.6v-9.2h1.15v9.2zM438.4 303.6v-15.4h1.15v15.4zM440.4 303.6v-2h1.15v2zM441.9 303.6v-5.2h1.15v5.2zM444.9 303.6v-24.5h1.15v24.5zM446.4 303.6v-12h1.15v12zM447.4 303.6v-17.8h1.15v17.8zM455.4 303.6v-27h1.15v27zM456.9 303.6v-23.2h1.15v23.2zM458.4 303.6v-8.5h1.15v8.5zM459.9 303.6v-14.6h1.15v14.6zM461.4 303.6v-17.3h1.15v17.3zM462.9 303.6v-11.2h1.15v11.2zM464.9 303.6v-10.7h1.15v10.7zM465.9 303.6v-37.7h1.15v37.7zM467.4 303.6v-6.2h1.15v6.2zM474.4 303.6v-29.6h1.15v29.6zM475.9 303.6v-28h1.15v28zM476.9 303.6v-23.3h1.15v23.3zM478.4 303.6v-43.8h1.15v43.8zM479.4 303.6v-11.3h1.15v11.3zM485.4 303.6v-16.5h1.15v16.5zM486.9 303.6v-11.7h1.15v11.7zM487.9 303.6v-7.4h1.15v7.4zM488.9 303.6v-16.4h1.15v16.4zM490.4 303.6v-13.3h1.15v13.3zM491.4 303.6v-9.9h1.15v9.9zM492.4 303.6v-6.4h1.15v6.4zM493.9 303.6v-13.3h1.15v13.3zM494.9 303.6v-25.9h1.15v25.9zM495.9 303.6v-10.9h1.15v10.9zM496.9 303.6v-17.7h1.15v17.7zM498.4 303.6v-12.7h1.15v12.7zM502.4 303.6v-30.6h1.15v30.6zM503.4 303.6v-9.4h1.15v9.4zM504.9 303.6v-23.4h1.15v23.4zM511.4 303.6v-8.5h1.15v8.5zM512.9 303.6v-15.7h1.15v15.7zM525.9 303.6v-10.7h1.15v10.7zM526.9 303.6v-24.8h1.15v24.8zM528.4 303.6v-8.8h1.15v8.8zM530.9 303.6v-13.8h1.15v13.8zM531.9 303.6v-34.3h1.15v34.3zM532.9 303.6v-9.5h1.15v9.5zM534.4 303.6v-26.7h1.15v26.7zM535.9 303.6v-25.4h1.15v25.4zM537.4 303.6v-1.1h1.15v1.1zM557.9 303.6v-20.9h1.15v20.9zM559.4 303.6v-30.5h1.15v30.5zM560.4 303.6v-10.2h1.15v10.2zM561.4 303.6v-30.7h1.15v30.7zM562.4 303.6v-12h1.15v12zM563.9 303.6v-4.8h1.15v4.8zM564.9 303.6v-14.8h1.15v14.8zM565.9 303.6v-13.7h1.15v13.7zM567.4 303.6v-13.5h1.15v13.5zM568.4 303.6v-16.7h1.15v16.7zM569.9 303.6v-19.1h1.15v19.1zM570.9 303.6v-15.2h1.15v15.2zM571.9 303.6v-22.5h1.15v22.5zM573.4 303.6v-16.7h1.15v16.7zM574.9 303.6v-14.4h1.15v14.4zM576.4 303.6v-36.3h1.15v36.3zM581.4 303.6v-18.2h1.15v18.2zM582.4 303.6v-15.3h1.15v15.3zM584.9 303.6v-19.3h1.15v19.3zM586.4 303.6v-25.4h1.15v25.4zM587.4 303.6v-29.5h1.15v29.5zM607.4 303.6v-25.5h1.15v25.5zM608.9 303.6v-13.6h1.15v13.6zM610.4 303.6v-15.6h1.15v15.6zM625.4 303.6v-1.6h1.15v1.6zM626.4 303.6v-11.3h1.15v11.3zM627.9 303.6v-13.3h1.15v13.3zM629.4 303.6v-14.1h1.15v14.1zM631.9 303.6v-6.7h1.15v6.7zM632.9 303.6v-2.9h1.15v2.9zM637.9 303.6v-28.1h1.15v28.1zM639.4 303.6v-16.7h1.15v16.7zM643.4 303.6v-16.5h1.15v16.5zM644.9 303.6v-18.6h1.15v18.6zM667.4 303.6v-35.3h1.15v35.3zM668.4 303.6v-17.5h1.15v17.5zM670.9 303.6v-5.3h1.15v5.3zM672.4 303.6v-12.9h1.15v12.9zM674.9 303.6v-38.2h1.15v38.2zM676.4 303.6v-16.7h1.15v16.7zM677.4 303.6v-16.9h1.15v16.9zM679.4 303.6v-17.5h1.15v17.5zM680.9 303.6v-11.7h1.15v11.7zM682.4 303.6v-16.4h1.15v16.4zM683.9 303.6v-13.3h1.15v13.3zM687.9 303.6v-27.2h1.15v27.2zM689.4 303.6v-16.6h1.15v16.6zM691.9 303.6v-25.7h1.15v25.7zM692.9 303.6v-23h1.15v23zM701.9 303.6v-16.4h1.15v16.4zM703.4 303.6v-17.2h1.15v17.2zM704.9 303.6v-8h1.15v8zM707.4 303.6v-18.4h1.15v18.4zM708.4 303.6v-17.1h1.15v17.1zM718.9 303.6v-9.8h1.15v9.8zM719.9 303.6v-13.6h1.15v13.6zM721.4 303.6v-29.8h1.15v29.8zM722.4 303.6v-40.2h1.15v40.2zM723.9 303.6v-17.6h1.15v17.6zM725.4 303.6v-15.7h1.15v15.7zM726.4 303.6v-22h1.15v22zM727.4 303.6v-11.9h1.15v11.9zM729.4 303.6v-18h1.15v18zM730.9 303.6v-19.3h1.15v19.3zM733.9 303.6v-20.7h1.15v20.7zM734.9 303.6v-22.7h1.15v22.7zM741.4 303.6v-7.6h1.15v7.6zM742.9 303.6v-9.9h1.15v9.9zM748.4 303.6v-9.3h1.15v9.3zM749.4 303.6v-25.5h1.15v25.5zM750.9 303.6v-22.7h1.15v22.7zM761.9 303.6v-32.8h1.15v32.8zM762.9 303.6v-15h1.15v15zM800.4 303.6v-11.7h1.15v11.7zM801.9 303.6v-13h1.15v13zM809.4 303.6v-24.5h1.15v24.5zM810.9 303.6v-7.3h1.15v7.3zM812.4 303.6v-18.7h1.15v18.7zM813.4 303.6v-13.6h1.15v13.6zM818.4 303.6v-7.6h1.15v7.6zM820.4 303.6v-17.1h1.15v17.1zM824.9 303.6v-20.6h1.15v20.6zM826.4 303.6v-21.9h1.15v21.9zM827.9 303.6v-11.9h1.15v11.9zM831.9 303.6v-35.5h1.15v35.5zM833.4 303.6v-11.5h1.15v11.5zM843.9 303.6v-2.9h1.15v2.9zM845.4 303.6v-27.6h1.15v27.6zM849.4 303.6v-10.6h1.15v10.6zM851.4 303.6v-15.3h1.15v15.3zM852.9 303.6v-29.3h1.15v29.3zM854.9 303.6v-1.4h1.15v1.4zM856.4 303.6v-5.1h1.15v5.1zM857.4 303.6v-9h1.15v9zM858.4 303.6v-13.9h1.15v13.9zM859.4 303.6v-14.2h1.15v14.2zM862.4 303.6v-26.2h1.15v26.2zM863.9 303.6v-3.7h1.15v3.7zM868.4 303.6v-22.5h1.15v22.5zM869.4 303.6v-7.3h1.15v7.3zM876.9 303.6v-7.1h1.15v7.1zM879.9 303.6v-5.5h1.15v5.5zM880.9 303.6v-17.2h1.15v17.2zM884.9 303.6v-41h1.15v41zM887.9 303.6v-11.2h1.15v11.2zM891.4 303.6v-6.3h1.15v6.3zM892.9 303.6v-49.1h1.15v49.1zM900.4 303.6v-7.1h1.15v7.1zM901.4 303.6v-9.7h1.15v9.7zM907.9 303.6v-14.5h1.15v14.5zM909.4 303.6v-38.4h1.15v38.4zM911.4 303.6v-6.5h1.15v6.5zM912.4 303.6v-26.2h1.15v26.2zM916.9 303.6v-1.7h1.15v1.7zM917.9 303.6v-8.8h1.15v8.8z" fill="#0000ff"/><path d="M361.1 270.3v-11.1h1.7v11.1zM365.1 283.8v-24.5h1.7v24.5zM369.6 301.1v-41.8h1.7v41.8zM417.1 300.7v-41.2h1.7v41.2zM469.1 290.7v-30.9h1.7v30.9zM481.1 277.1v-17.2h1.7v17.2zM483.1 291v-31.2h1.7v31.2zM507.1 291.8v-31.8h1.7v31.8zM509.1 289.8v-29.8h1.7v29.8zM520.6 276.4v-17.8h1.7v17.8zM522.6 288.7v-30.4h1.7v30.4zM543.6 296.3v-39.8h1.7v39.8zM552.1 290.2v-33.7h1.7v33.7zM589.1 290.8v-38.2h1.7v38.2zM591.1 296.5v-43.9h1.7v43.9zM594.6 279.3v-26.4h1.7v26.4zM603.1 288v-33.8h1.7v33.8zM605.1 289.8v-35.3h1.7v35.3zM612.1 288.9v-33.8h1.7v33.8zM618.1 278.1v-23.1h1.7v23.1zM634.6 287.6v-33.2h1.7v33.2zM647.6 267.1v-12.8h1.7v12.8zM653.1 289.4v-35.1h1.7v35.1zM655.6 303.6v-49.3h1.7v49.3zM685.6 286.2v-31.9h1.7v31.9zM699.6 289.9v-35.6h1.7v35.6zM712.6 275.8v-21.5h1.7v21.5zM746.1 301.8v-47.5h1.7v47.5zM756.1 286.9v-32.6h1.7v32.6zM758.6 275.4v-21.1h1.7v21.1zM764.6 290.1v-35.8h1.7v35.8zM768.1 300.5v-46.2h1.7v46.2zM783.6 285.7v-30h1.7v30zM791.6 263.4v-6.4h1.7v6.4zM796.6 264v-7h1.7v7zM804.6 264.5v-8.1h1.7v8.1zM816.1 291.1v-35.8h1.7v35.8zM822.1 303.6v-48.9h1.7v48.9zM829.6 302v-48h1.7v48zM838.1 299.7v-46.3h1.7v46.3zM882.6 268v-16.6h1.7v16.6zM903.6 267.6v-16.4h1.7v16.4z" fill="#ff0000" fill-opacity="0.66"/><path d="M361.1 303.6v-33.3h1.7v33.3zM365.1 303.6v-19.8h1.7v19.8zM369.6 303.6v-2.5h1.7v2.5zM371.6 303.6v-44.2h1.7v44.2zM417.1 303.6v-2.9h1.7v2.9zM469.1 303.6v-12.9h1.7v12.9zM481.1 303.6v-26.5h1.7v26.5zM483.1 303.6v-12.6h1.7v12.6zM507.1 303.6v-11.8h1.7v11.8zM509.1 303.6v-13.8h1.7v13.8zM520.6 303.6v-27.2h1.7v27.2zM522.6 303.6v-14.9h1.7v14.9zM543.6 303.6v-7.3h1.7v7.3zM552.1 303.6v-13.4h1.7v13.4zM589.1 303.6v-12.8h1.7v12.8zM591.1 303.6v-7.1h1.7v7.1zM594.6 303.6v-24.3h1.7v24.3zM603.1 303.6v-15.6h1.7v15.6zM605.1 303.6v-13.8h1.7v13.8zM612.1 303.6v-14.7h1.7v14.7zM618.1 303.6v-25.5h1.7v25.5zM634.6 303.6v-16h1.7v16zM647.6 303.6v-36.5h1.7v36.5zM653.1 303.6v-14.2h1.7v14.2zM685.6 303.6v-17.4h1.7v17.4zM697.1 303.6v-49.3h1.7v49.3zM699.6 303.6v-13.7h1.7v13.7zM712.6 303.6v-27.8h1.7v27.8zM746.1 303.6v-1.8h1.7v1.8zM753.1 303.6v-49.1h1.7v49.1zM756.1 303.6v-16.7h1.7v16.7zM758.6 303.6v-28.2h1.7v28.2zM764.6 303.6v-13.5h1.7v13.5zM768.1 303.6v-3.1h1.7v3.1zM783.6 303.6v-17.9h1.7v17.9zM791.6 303.6v-40.2h1.7v40.2zM796.6 303.6v-39.6h1.7v39.6zM804.6 303.6v-39.1h1.7v39.1zM816.1 303.6v-12.5h1.7v12.5zM829.6 303.6v-1.6h1.7v1.6zM838.1 303.6v-3.9h1.7v3.9zM882.6 303.6v-35.6h1.7v35.6zM903.6 303.6v-36h1.7v36z" fill="#0000ff" fill-opacity="0.66"/><path d="M362.5 303.6v-1.9h1.6v1.9zM374.2 303.6v-1.8h1.6v1.8zM384.3 303.6v-2.5h1.6v2.5zM396.9 303.6v-1h1.6v1zM430.3 303.6v-2.1h1.6v2.1zM454.7 303.6v-2.4h1.6v2.4zM465.7 303.6v-1.9h1.6v1.9zM471 303.6v-2h1.6v2zM484.1 303.6v-1.2h1.6v1.2zM488.2 303.6v-2.5h1.6v2.5zM492.8 303.6v-1h1.6v1zM503.4 303.6v-2h1.6v2zM514.5 303.6v-1.1h1.6v1.1zM547.4 303.6v-2.5h1.6v2.5zM552.6 303.6v-1.2h1.6v1.2zM565 303.6v-2.3h1.6v2.3zM577 303.6v-2h1.6v2zM586.4 303.6v-1.5h1.6v1.5zM589.6 303.6v-1.4h1.6v1.4zM600.5 303.6v-1.6h1.6v1.6zM623.9 303.6v-1h1.6v1zM631.7 303.6v-2.2h1.6v2.2zM642.5 303.6v-1.9h1.6v1.9zM659.8 303.6v-1h1.6v1zM671.2 303.6v-2.6h1.6v2.6zM684.6 303.6v-1.8h1.6v1.8zM702.9 303.6v-1.3h1.6v1.3zM711.4 303.6v-1.2h1.6v1.2zM715.3 303.6v-2.3h1.6v2.3zM726.9 303.6v-2h1.6v2zM738.3 303.6v-2.4h1.6v2.4zM757.6 303.6v-1.7h1.6v1.7zM768.9 303.6v-2.2h1.6v2.2zM775.8 303.6v-1.5h1.6v1.5zM788 303.6v-2.1h1.6v2.1zM802.3 303.6v-1.2h1.6v1.2zM815 303.6v-1.4h1.6v1.4zM826 303.6v-1.2h1.6v1.2zM832.6 303.6v-1.8h1.6v1.8zM866.1 303.6v-2.2h1.6v2.2zM871.3 303.6v-2h1.6v2zM876.5 303.6v-1.6h1.6v1.6zM883.9 303.6v-2.3h1.6v2.3zM892.4 303.6v-2h1.6v2zM897 303.6v-2h1.6v2zM908.1 303.6v-2.5h1.6v2.5zM917.5 303.6v-2.2h1.6v2.2z" fill="#0000ff" fill-opacity="0.55"/><path d="M402.5 303.6v-2.2h1.6v2.2zM413.7 303.6v-1.5h1.6v1.5zM420.4 303.6v-1.4h1.6v1.4zM444.1 303.6v-1.8h1.6v1.8zM521.5 303.6v-2.3h1.6v2.3zM534.3 303.6v-1.1h1.6v1.1zM581.1 303.6v-1.2h1.6v1.2zM614.1 303.6v-1.8h1.6v1.8zM654.9 303.6v-1.1h1.6v1.1zM679.6 303.6v-1.8h1.6v1.8zM696.8 303.6v-1.4h1.6v1.4zM734.3 303.6v-1.6h1.6v1.6zM743.6 303.6v-1.4h1.6v1.4zM752.1 303.6v-1.6h1.6v1.6zM792.9 303.6v-1.7h1.6v1.7zM821.3 303.6v-2.1h1.6v2.1zM839.2 303.6v-1.3h1.6v1.3zM850.3 303.6v-1.2h1.6v1.2zM854.4 303.6v-1.6h1.6v1.6zM923 303.6v-2.2h1.6v2.2z" fill="#ff0000" fill-opacity="0.55"/><path d="M928 303.6L928 250.9L929 250.9L930 250.9L931 250.8L932 250.8L933 250.7L934 250.7L935 250.8L936 250.6L937 250.7L938 250.8L939 250.8L940 250.7L941 250.6L942 250.6L943 250.7L944 250.7L945 250.6L946 250.7L947 250.8L948 250.5L949 250.7L950 250.7L951 250.1L952 249.6L953 249.7L954 249.4L955 249.6L956 249.4L957 249.6L958 249.6L959 249.5L960 249.4L961 249.5L962 249.5L963 249.5L964 249.4L965 249.4L966 249.5L967 249.4L968 249.3L969 249.5L970 249.2L971 249.4L972 249.3L973 249.4L974 249.2L975 249.4L976 249.2L977 249.1L978 249.1L979 249.2L980 248.7L981 248.4L982 248.4L983 248.4L984 248.3L985 248.3L986 248.3L987 248.4L988 248.4L989 248.3L990 248.2L991 248.4L992 248.2L993 248.2L994 248.1L995 248.3L996 248.3L997 246.9L998 245.6L999 245.6L1000 245.4L1001 245.6L1002 245.4L1003 245.4L1004 245.4L1005 245.3L1006 245.2L1007 243.4L1008 241.8L1009 241.7L1010 241.9L1011 241.7L1012 241.9L1013 241.7L1014 241.7L1015 241.7L1016 241.7L1017 241.6L1018 241.6L1019 241.8L1020 241.6L1021 241.6L1022 241.6L1023 241.7L1024 241.6L1025 241.7L1026 241.7L1027 241.6L1028 241.8L1029 241.7L1030 241.5L1031 241.7L1032 241.7L1033 242.5L1034 243.1L1035 243.3L1036 243.2L1037 243.1L1038 243.1L1039 243.3L1040 243.2L1041 243.1L1042 243.1L1043 243.1L1044 243.1L1045 243.3L1046 243.2L1047 243.1L1048 243.3L1049 243.3L1050 243.1L1051 243.3L1052 243.2L1053 243.3L1054 243.3L1055 243.3L1056 243.3L1057 243.3L1058 243.1L1059 243.3L1060 243.2L1061 243.3L1062 243.2L1063 243.3L1064 243.2L1065 243.1L1066 243.1L1067 243.1L1068 243.2L1069 243.1L1070 243.2L1071 243.1L1072 243.2L1073 243.2L1074 243.2L1075 243.3L1076 243.1L1077 243.3L1078 243.2L1079 243.2L1080 243.2L1081 243.3L1082 243.2L1083 243.2L1084 243.3L1085 243.1L1086 243.2L1087 243.2L1088 243.1L1089 243.2L1090 243.3L1091 243.3L1092 243.1L1093 243.3L1094 243.2L1095 243.2L1096 243.3L1097 243.1L1098 243.3L1099 242.7L1100 242.2L1101 242.3L1102 242.2L1103 242.2L1104 242.2L1105 242.3L1106 242.1L1107 242.2L1108 242.2L1109 242.2L1110 242.3L1111 242.1L1112 242.3L1113 242.2L1114 242.2L1115 242.1L1116 242.2L1117 242.3L1118 242.2L1119 242.3L1120 242.1L1121 242.8L1122 243.5L1123 243.6L1124 243.6L1125 243.7L1126 243.5L1127 243.7L1128 243.7L1129 243.6L1130 243.5L1131 243.6L1132 243.5L1133 243.5L1134 243.8L1135 243.7L1136 243.7L1137 243.7L1138 243.8L1139 243.7L1140 243.7L1141 243.7L1142 243.7L1143 243.7L1144 243.7L1145 243.6L1146 243.7L1147 243.6L1148 243.7L1149 243.5L1150 243.6L1151 243.5L1152 243.7L1153 243.8L1154 243.7L1155 243.6L1156 243.8L1157 243.8L1158 243.7L1159 243.6L1160 243.6L1161 243.7L1162 243.6L1163 243.7L1164 243.7L1165 243.8L1166 243.6L1167 243.7L1168 243.6L1169 243.6L1170 243.8L1171 243.7L1172 243.8L1173 243.7L1174 243.6L1175 243.7L1176 243.7L1177 243.9L1178 243.9L1179 243.7L1180 243.7L1181 243.6L1182 243.8L1183 243.6L1184 243.6L1185 243.6L1186 243.6L1187 243.8L1188 243.6L1189 243.9L1190 243.6L1191 243.9L1192 243.6L1193 243.6L1194 243.8L1195 243.7L1196 243.8L1197 243.7L1198 243.6L1199 243.8L1200 243.8L1201 243.9L1202 243.8L1203 243.7L1204 243.8L1205 243.8L1206 243.8L1207 243.9L1208 243.7L1209 243.9L1210 243.9L1211 243.6L1212 243.7L1213 243.8L1214 243.9L1215 242.7L1216 241.8L1217 241L1218 239.9L1219 240.1L1220 240L1221 239.8L1222 239.9L1223 240L1224 239.9L1225 240L1226 239.8L1227 240L1228 239.9L1229 240L1230 240L1231 239.9L1232 239.9L1233 240L1234 240L1235 240L1236 239.9L1237 239.8L1238 239.7L1239 240L1240 239.9L1241 239.9L1242 239.8L1243 239.9L1244 240L1245 239.9L1246 239.8L1247 239.8L1248 239.8L1249 239.9L1250 240.6L1251 241.6L1252 242.4L1253 242.5L1254 242.5L1255 242.3L1256 242.2L1257 242.3L1258 242.3L1259 242.4L1260 242.4L1261 242.5L1262 242.2L1263 242.4L1264 242.4L1265 242.4L1266 242.3L1267 242.2L1268 242.4L1269 242.4L1270 242.3L1271 242.4L1272 242.2L1273 242.1L1274 242.3L1275 242.3L1276 242.1L1277 242.3L1278 242.3L1279 242.1L1280 242.2L1281 241.1L1282 239.8L1283 238.5L1284 238.5L1285 238.7L1286 238.7L1287 238.6L1288 238.5L1289 238.7L1290 238.7L1291 238.5L1292 239L1293 239.5L1294 239.9L1295 240.1L1296 240.5L1297 240.5L1298 240.4L1299 240.4L1300 240.4L1301 240.6L1302 240.5L1303 240.5L1304 240.5L1305 240.5L1306 240.4L1307 240.4L1308 240.6L1309 240.5L1310 240.4L1311 240.5L1312 240.6L1313 240.4L1314 240.5L1315 240.5L1316 240.5L1317 238.5L1318 236.7L1319 236.9L1320 236.9L1321 236.8L1322 236.8L1323 236.7L1324 236.9L1325 236.8L1326 236.9L1327 236.9L1328 236.9L1329 236.9L1330 236.7L1331 236.7L1332 236.7L1333 236.7L1334 236.7L1335 236.7L1336 236.8L1337 236.9L1338 236.8L1339 236.9L1340 236.9L1341 236.7L1342 236.8L1343 236.8L1344 236.7L1345 236.9L1346 236.7L1347 236.8L1348 236.8L1349 236.9L1350 236.9L1351 236.8L1352 236.8L1353 236.7L1354 236.9L1355 236.9L1356 236.7L1357 236.7L1358 237.5L1359 238.2L1360 239.1L1361 239.8L1362 239.8L1363 239.6L1364 239.8L1365 239.8L1366 239.8L1367 239.9L1368 239.6L1369 239.7L1370 239.8L1371 239.9L1372 239.8L1373 239.7L1374 239.8L1375 239.9L1376 239.7L1377 239.8L1378 239.8L1379 239.7L1380 239.8L1381 239.7L1382 239.8L1383 239.8L1384 239.9L1385 239.7L1386 240L1387 239.8L1388 239.8L1389 240.4L1390 240.5L1391 241L1392 241.3L1393 241.3L1394 241.1L1395 241.2L1396 241.1L1397 241.3L1398 241.3L1399 241.3L1400 241.2L1401 241.2L1402 241.3L1403 241.2L1404 241.3L1405 241.1L1406 241.1L1407 241.1L1408 241.3L1409 241.3L1410 241.1L1411 241.4L1412 241.2L1413 241.2L1414 241.1L1415 241.2L1416 241.4L1417 241.2L1418 241.2L1419 241.3L1420 241.2L1421 241.4L1422 241.2L1423 241.4L1424 241.1L1425 241.4L1426 241.3L1427 241.2L1428 241.3L1429 241.2L1430 241.2L1431 241.2L1432 241.3L1433 241.4L1434 241.4L1435 241.4L1436 241.2L1437 241.2L1438 241.4L1439 241.2L1440 241.4L1441 241.3L1442 241.5L1443 241.2L1444 241.4L1445 241.3L1446 241.2L1447 241.2L1448 241.4L1449 241.3L1450 241.2L1451 241.3L1452 241.5L1453 241.3L1454 241.4L1455 241.2L1456 241.3L1457 241.4L1458 241.4L1459 241.3L1460 241.2L1461 241.2L1462 241.4L1463 241.4L1464 241.3L1465 241.3L1466 241.4L1467 241.4L1468 241.5L1469 241.4L1470 241.3L1471 241.3L1472 241.5L1473 241.4L1474 241.5L1475 241.3L1476 241.5L1477 241.4L1478 241.8L1479 242L1480 242.1L1481 242.3L1482 242.5L1483 242.4L1484 242.5L1485 242.3L1486 242.3L1487 242.5L1488 242.4L1489 242.3L1490 242.4L1491 242.4L1492 242.3L1493 242.4L1494 242.4L1495 242.4L1496 242.3L1497 242.5L1497 242.4L1497 303.6z" fill="#b0b0b0"/><path d="M1113.4 274.8v-32.6h1.15v32.6zM1121.9 281.4v-37.8h1.15v37.8zM1123.4 260.2v-16.6h1.15v16.6zM1130.9 272.3v-28.7h1.15v28.7zM1132.4 276.8v-33.1h1.15v33.1zM1135.9 285.5v-41.9h1.15v41.9zM1136.9 275.8v-32.2h1.15v32.2zM1140.4 271.8v-28.2h1.15v28.2zM1141.4 285.3v-41.7h1.15v41.7zM1145.4 289.1v-45.4h1.15v45.4zM1146.9 277v-33.3h1.15v33.3zM1147.9 277.4v-33.8h1.15v33.8zM1149.4 285.8v-42.2h1.15v42.2zM1157.4 292.5v-48.8h1.15v48.8zM1158.4 274.5v-30.8h1.15v30.8zM1159.9 277.5v-33.8h1.15v33.8zM1162.9 259.8v-16.1h1.15v16.1zM1163.9 249.8v-6.1h1.15v6.1zM1165.4 279.8v-36.2h1.15v36.2zM1166.4 286.9v-43.2h1.15v43.2zM1167.4 276.9v-33.2h1.15v33.2zM1168.4 281v-37.2h1.15v37.2zM1169.4 278.9v-35.2h1.15v35.2zM1170.4 278v-34.3h1.15v34.3zM1171.4 276v-32.3h1.15v32.3zM1172.4 277.4v-33.7h1.15v33.7zM1174.4 277.6v-33.9h1.15v33.9zM1175.4 284.6v-40.9h1.15v40.9zM1176.4 279v-35.3h1.15v35.3zM1177.4 285.7v-41.9h1.15v41.9zM1178.4 285.4v-41.6h1.15v41.6zM1179.4 279.7v-36h1.15v36zM1180.4 286.4v-42.7h1.15v42.7zM1181.4 282.4v-38.7h1.15v38.7zM1182.4 282.4v-38.7h1.15v38.7zM1183.9 260.7v-16.9h1.15v16.9zM1184.9 280.2v-36.4h1.15v36.4zM1185.9 274.5v-30.8h1.15v30.8zM1186.9 275.4v-31.7h1.15v31.7zM1187.9 278.4v-34.7h1.15v34.7zM1189.4 274.1v-30.4h1.15v30.4zM1190.4 275.3v-31.6h1.15v31.6zM1191.4 281.3v-37.6h1.15v37.6zM1192.4 274.6v-30.9h1.15v30.9zM1193.4 264.2v-20.4h1.15v20.4zM1194.9 271.6v-27.8h1.15v27.8zM1196.9 272.2v-28.4h1.15v28.4zM1197.9 276.4v-32.7h1.15v32.7zM1198.9 295.5v-51.7h1.15v51.7zM1199.9 281v-37.2h1.15v37.2zM1201.9 281.8v-38.1h1.15v38.1zM1202.9 285.1v-41.3h1.15v41.3zM1203.9 282.2v-38.4h1.15v38.4zM1205.4 283.1v-39.4h1.15v39.4zM1206.4 279.8v-36h1.15v36zM1207.9 282.9v-39.1h1.15v39.1zM1208.9 284.2v-40.4h1.15v40.4zM1209.9 272.4v-28.6h1.15v28.6zM1210.9 273.2v-29.4h1.15v29.4zM1212.9 280.1v-36.3h1.15v36.3zM1214.4 270.6v-28.2h1.15v28.2zM1215.4 276.6v-35.1h1.15v35.1zM1217.9 284.3v-44.3h1.15v44.3zM1218.9 279.2v-39.2h1.15v39.2zM1223.9 270.2v-30.2h1.15v30.2zM1225.4 281.7v-41.7h1.15v41.7zM1226.9 270.6v-30.7h1.15v30.7zM1227.9 267v-27.1h1.15v27.1zM1228.9 272.5v-32.6h1.15v32.6zM1229.9 274.6v-34.7h1.15v34.7zM1231.4 276.7v-36.8h1.15v36.8zM1232.4 282.6v-42.7h1.15v42.7zM1233.4 273.2v-33.3h1.15v33.3zM1235.4 278.1v-38.2h1.15v38.2zM1236.4 276.4v-36.5h1.15v36.5zM1237.9 289.6v-49.7h1.15v49.7zM1239.9 282.9v-43.1h1.15v43.1zM1240.9 279.2v-39.4h1.15v39.4zM1244.9 253.7v-13.8h1.15v13.8zM1246.4 274.6v-34.8h1.15v34.8zM1247.9 280v-40.2h1.15v40.2zM1249.4 273.1v-32h1.15v32zM1255.4 276.5v-34.2h1.15v34.2zM1256.9 275v-32.6h1.15v32.6zM1258.4 285.4v-43h1.15v43zM1260.4 260.5v-18.2h1.15v18.2zM1261.4 273.6v-31.2h1.15v31.2zM1262.4 272.9v-30.6h1.15v30.6zM1263.4 274.5v-32.2h1.15v32.2zM1264.9 273.7v-31.4h1.15v31.4zM1282.4 268.3v-29.7h1.15v29.7zM1283.4 292.9v-54.3h1.15v54.3zM1284.4 287.7v-49.1h1.15v49.1zM1286.4 281.3v-42.7h1.15v42.7zM1287.4 290.6v-52h1.15v52zM1302.9 294.4v-53.9h1.15v53.9zM1304.4 302.8v-62.3h1.15v62.3zM1305.9 302.7v-62.2h1.15v62.2zM1364.4 286.2v-46.5h1.15v46.5zM1365.4 258.2v-18.5h1.15v18.5zM1409.9 253.8v-12.5h1.15v12.5zM1410.9 288.4v-47.1h1.15v47.1zM1411.9 278.3v-37h1.15v37zM1413.4 253v-11.7h1.15v11.7zM1414.4 244.2v-2.9h1.15v2.9zM1419.9 277.1v-35.8h1.15v35.8zM1420.9 247.6v-6.4h1.15v6.4zM1451.9 300.5v-59.2h1.15v59.2zM1453.4 279.6v-38.2h1.15v38.2z" fill="#ff0000"/><path d="M1113.4 303.6v-28.8h1.15v28.8zM1114.4 303.6v-61.4h1.15v61.4zM1121.9 303.6v-22.2h1.15v22.2zM1123.4 303.6v-43.4h1.15v43.4zM1130.9 303.6v-31.3h1.15v31.3zM1132.4 303.6v-26.8h1.15v26.8zM1135.9 303.6v-18.1h1.15v18.1zM1136.9 303.6v-27.8h1.15v27.8zM1140.4 303.6v-31.8h1.15v31.8zM1141.4 303.6v-18.3h1.15v18.3zM1145.4 303.6v-14.5h1.15v14.5zM1146.9 303.6v-26.6h1.15v26.6zM1147.9 303.6v-26.2h1.15v26.2zM1149.4 303.6v-17.8h1.15v17.8zM1157.4 303.6v-11.1h1.15v11.1zM1158.4 303.6v-29.1h1.15v29.1zM1159.9 303.6v-26.1h1.15v26.1zM1162.9 303.6v-43.8h1.15v43.8zM1163.9 303.6v-53.8h1.15v53.8zM1165.4 303.6v-23.8h1.15v23.8zM1166.4 303.6v-16.7h1.15v16.7zM1167.4 303.6v-26.7h1.15v26.7zM1168.4 303.6v-22.6h1.15v22.6zM1169.4 303.6v-24.7h1.15v24.7zM1170.4 303.6v-25.6h1.15v25.6zM1171.4 303.6v-27.6h1.15v27.6zM1172.4 303.6v-26.2h1.15v26.2zM1174.4 303.6v-26h1.15v26zM1175.4 303.6v-19h1.15v19zM1176.4 303.6v-24.6h1.15v24.6zM1177.4 303.6v-17.9h1.15v17.9zM1178.4 303.6v-18.2h1.15v18.2zM1179.4 303.6v-23.9h1.15v23.9zM1180.4 303.6v-17.2h1.15v17.2zM1181.4 303.6v-21.2h1.15v21.2zM1182.4 303.6v-21.2h1.15v21.2zM1183.9 303.6v-42.9h1.15v42.9zM1184.9 303.6v-23.4h1.15v23.4zM1185.9 303.6v-29.1h1.15v29.1zM1186.9 303.6v-28.2h1.15v28.2zM1187.9 303.6v-25.2h1.15v25.2zM1189.4 303.6v-29.5h1.15v29.5zM1190.4 303.6v-28.3h1.15v28.3zM1191.4 303.6v-22.3h1.15v22.3zM1192.4 303.6v-29h1.15v29zM1193.4 303.6v-39.4h1.15v39.4zM1194.9 303.6v-32h1.15v32zM1196.9 303.6v-31.4h1.15v31.4zM1197.9 303.6v-27.2h1.15v27.2zM1198.9 303.6v-8.1h1.15v8.1zM1199.9 303.6v-22.6h1.15v22.6zM1201.9 303.6v-21.8h1.15v21.8zM1202.9 303.6v-18.5h1.15v18.5zM1203.9 303.6v-21.4h1.15v21.4zM1205.4 303.6v-20.5h1.15v20.5zM1206.4 303.6v-23.8h1.15v23.8zM1207.9 303.6v-20.7h1.15v20.7zM1208.9 303.6v-19.4h1.15v19.4zM1209.9 303.6v-31.2h1.15v31.2zM1210.9 303.6v-30.4h1.15v30.4zM1212.9 303.6v-23.5h1.15v23.5zM1214.4 303.6v-33h1.15v33zM1215.4 303.6v-27h1.15v27zM1216.4 303.6v-63.1h1.15v63.1zM1217.9 303.6v-19.3h1.15v19.3zM1218.9 303.6v-24.4h1.15v24.4zM1223.9 303.6v-33.4h1.15v33.4zM1225.4 303.6v-21.9h1.15v21.9zM1226.9 303.6v-33h1.15v33zM1227.9 303.6v-36.6h1.15v36.6zM1228.9 303.6v-31.1h1.15v31.1zM1229.9 303.6v-29h1.15v29zM1231.4 303.6v-26.9h1.15v26.9zM1232.4 303.6v-21h1.15v21zM1233.4 303.6v-30.4h1.15v30.4zM1235.4 303.6v-25.5h1.15v25.5zM1236.4 303.6v-27.2h1.15v27.2zM1237.9 303.6v-14h1.15v14zM1239.9 303.6v-20.7h1.15v20.7zM1240.9 303.6v-24.4h1.15v24.4zM1244.9 303.6v-49.9h1.15v49.9zM1246.4 303.6v-29h1.15v29zM1247.9 303.6v-23.6h1.15v23.6zM1249.4 303.6v-30.5h1.15v30.5zM1255.4 303.6v-27.1h1.15v27.1zM1256.9 303.6v-28.6h1.15v28.6zM1258.4 303.6v-18.2h1.15v18.2zM1260.4 303.6v-43.1h1.15v43.1zM1261.4 303.6v-30h1.15v30zM1262.4 303.6v-30.7h1.15v30.7zM1263.4 303.6v-29.1h1.15v29.1zM1264.9 303.6v-29.9h1.15v29.9zM1282.4 303.6v-35.3h1.15v35.3zM1283.4 303.6v-10.7h1.15v10.7zM1284.4 303.6v-15.9h1.15v15.9zM1286.4 303.6v-22.3h1.15v22.3zM1287.4 303.6v-13h1.15v13zM1302.9 303.6v-9.2h1.15v9.2zM1304.4 303.6v-0.8h1.15v0.8zM1305.9 303.6v-0.9h1.15v0.9zM1364.4 303.6v-17.4h1.15v17.4zM1365.4 303.6v-45.4h1.15v45.4zM1408.4 303.6v-62.4h1.15v62.4zM1409.9 303.6v-49.8h1.15v49.8zM1410.9 303.6v-15.2h1.15v15.2zM1411.9 303.6v-25.3h1.15v25.3zM1413.4 303.6v-50.6h1.15v50.6zM1414.4 303.6v-59.4h1.15v59.4zM1418.9 303.6v-62.3h1.15v62.3zM1419.9 303.6v-26.5h1.15v26.5zM1420.9 303.6v-56h1.15v56zM1451.9 303.6v-3.1h1.15v3.1zM1453.4 303.6v-24h1.15v24z" fill="#0000ff"/><path d="M933.1 285.3v-34.5h1.7v34.5zM952.6 303.6v-54h1.7v54zM954.6 297.4v-47.9h1.7v47.9zM966.1 299.5v-50.1h1.7v50.1zM974.6 298.3v-49.1h1.7v49.1zM997.1 252.1v-6.5h1.7v6.5zM1011.1 299.8v-58.1h1.7v58.1zM1032.7 303.6v-60.4h1.7v60.4zM1052.7 301.5v-58.3h1.7v58.3zM1073.2 262.5v-19.3h1.7v19.3zM1101.2 269.2v-27h1.7v27zM1104.2 247.6v-5.4h1.7v5.4zM1117.2 272.9v-30.7h1.7v30.7zM1119.2 279v-36.4h1.7v36.4zM1128.2 250.8v-7.2h1.7v7.2zM1151.7 289.3v-45.7h1.7v45.7zM1154.7 256.9v-13.3h1.7v13.3zM1221.7 284.9v-44.9h1.7v44.9zM1242.7 264.7v-24.8h1.7v24.8zM1252.2 271.3v-28.9h1.7v28.9zM1267.7 271.9v-29.6h1.7v29.6zM1273.2 248.2v-6h1.7v6zM1277.2 253.7v-11.5h1.7v11.5zM1290.2 263.8v-25h1.7v25zM1297.2 295.7v-55.2h1.7v55.2zM1309.2 287.4v-46.9h1.7v46.9zM1314.7 298.9v-58.4h1.7v58.4zM1337.7 272.6v-35.8h1.7v35.8zM1342.2 291.2v-54.4h1.7v54.4zM1369.7 292.2v-52.4h1.7v52.4zM1373.7 294.6v-54.8h1.7v54.8zM1396.7 303.6v-62.4h1.7v62.4zM1423.2 257.7v-16.4h1.7v16.4zM1434.7 287.3v-46h1.7v46zM1446.7 275.8v-34.5h1.7v34.5zM1455.7 242.9v-1.5h1.7v1.5zM1464.2 242v-0.6h1.7v0.6zM1475.2 243.9v-2.5h1.7v2.5zM1480.2 254.8v-12.4h1.7v12.4zM1482.2 278.2v-35.8h1.7v35.8zM1494.2 289.7v-47.3h1.7v47.3z" fill="#ff0000" fill-opacity="0.66"/><path d="M933.1 303.6v-18.3h1.7v18.3zM954.6 303.6v-6.2h1.7v6.2zM966.1 303.6v-4.1h1.7v4.1zM974.6 303.6v-5.3h1.7v5.3zM997.1 303.6v-51.5h1.7v51.5zM1011.1 303.6v-3.8h1.7v3.8zM1052.7 303.6v-2.1h1.7v2.1zM1073.2 303.6v-41.1h1.7v41.1zM1101.2 303.6v-34.4h1.7v34.4zM1104.2 303.6v-56h1.7v56zM1117.2 303.6v-30.7h1.7v30.7zM1119.2 303.6v-24.6h1.7v24.6zM1128.2 303.6v-52.8h1.7v52.8zM1151.7 303.6v-14.3h1.7v14.3zM1154.7 303.6v-46.7h1.7v46.7zM1221.7 303.6v-18.7h1.7v18.7zM1242.7 303.6v-38.9h1.7v38.9zM1252.2 303.6v-32.3h1.7v32.3zM1267.7 303.6v-31.7h1.7v31.7zM1273.2 303.6v-55.4h1.7v55.4zM1277.2 303.6v-49.9h1.7v49.9zM1290.2 303.6v-39.8h1.7v39.8zM1297.2 303.6v-7.9h1.7v7.9zM1309.2 303.6v-16.2h1.7v16.2zM1314.7 303.6v-4.7h1.7v4.7zM1337.7 303.6v-31h1.7v31zM1342.2 303.6v-12.4h1.7v12.4zM1369.7 303.6v-11.4h1.7v11.4zM1373.7 303.6v-9h1.7v9zM1405.7 303.6v-62.4h1.7v62.4zM1423.2 303.6v-45.9h1.7v45.9zM1434.7 303.6v-16.3h1.7v16.3zM1441.2 303.6v-62.3h1.7v62.3zM1446.7 303.6v-27.8h1.7v27.8zM1455.7 303.6v-60.7h1.7v60.7zM1464.2 303.6v-61.6h1.7v61.6zM1475.2 303.6v-59.7h1.7v59.7zM1480.2 303.6v-48.8h1.7v48.8zM1482.2 303.6v-25.4h1.7v25.4zM1494.2 303.6v-13.9h1.7v13.9z" fill="#0000ff" fill-opacity="0.66"/><path d="M935.9 303.6v-1.6h1.6v1.6zM949.6 303.6v-1.5h1.6v1.5zM953.9 303.6v-1.9h1.6v1.9zM961.3 303.6v-1.1h1.6v1.1zM973.4 303.6v-1.6h1.6v1.6zM978.5 303.6v-1.5h1.6v1.5zM981.9 303.6v-2.1h1.6v2.1zM986.6 303.6v-2.1h1.6v2.1zM992.5 303.6v-2.3h1.6v2.3zM1005.2 303.6v-1.6h1.6v1.6zM1012.3 303.6v-2.5h1.6v2.5zM1025.8 303.6v-1.8h1.6v1.8zM1033.8 303.6v-1.2h1.6v1.2zM1039.6 303.6v-2.4h1.6v2.4zM1046.7 303.6v-1.4h1.6v1.4zM1052 303.6v-2.4h1.6v2.4zM1060.7 303.6v-1.9h1.6v1.9zM1072.1 303.6v-1.6h1.6v1.6zM1081.4 303.6v-1.5h1.6v1.5zM1091.9 303.6v-2.1h1.6v2.1zM1101.1 303.6v-1.6h1.6v1.6zM1107.3 303.6v-1.1h1.6v1.1zM1112.8 303.6v-1.2h1.6v1.2zM1134.9 303.6v-1.4h1.6v1.4zM1145.4 303.6v-2.1h1.6v2.1zM1152.9 303.6v-2.1h1.6v2.1zM1158.6 303.6v-2.4h1.6v2.4zM1168.6 303.6v-1.3h1.6v1.3zM1181.6 303.6v-2.2h1.6v2.2zM1185 303.6v-1.1h1.6v1.1zM1190.2 303.6v-1.5h1.6v1.5zM1193.7 303.6v-1.5h1.6v1.5zM1198.6 303.6v-2.3h1.6v2.3zM1209.5 303.6v-1.4h1.6v1.4zM1220 303.6v-1.6h1.6v1.6zM1232.2 303.6v-2.2h1.6v2.2zM1235.7 303.6v-2.4h1.6v2.4zM1239.2 303.6v-1.4h1.6v1.4zM1262.2 303.6v-1.1h1.6v1.1zM1283.2 303.6v-2.5h1.6v2.5zM1294.4 303.6v-2.3h1.6v2.3zM1302.4 303.6v-1.1h1.6v1.1zM1314.5 303.6v-2.2h1.6v2.2zM1325.2 303.6v-2.3h1.6v2.3zM1334.2 303.6v-2.6h1.6v2.6zM1343.2 303.6v-1.4h1.6v1.4zM1350.1 303.6v-1.7h1.6v1.7zM1356.5 303.6v-1.2h1.6v1.2zM1366.9 303.6v-1.4h1.6v1.4zM1387 303.6v-1.9h1.6v1.9zM1403.8 303.6v-2.1h1.6v2.1zM1416.2 303.6v-1.5h1.6v1.5zM1421.4 303.6v-1.1h1.6v1.1zM1426.6 303.6v-2.1h1.6v2.1zM1430.9 303.6v-1.5h1.6v1.5zM1437.9 303.6v-1.3h1.6v1.3zM1454.1 303.6v-1.2h1.6v1.2zM1461.9 303.6v-1.3h1.6v1.3zM1465 303.6v-2.5h1.6v2.5zM1474.9 303.6v-2.5h1.6v2.5zM1480.6 303.6v-1.4h1.6v1.4zM1490.2 303.6v-1.3h1.6v1.3zM1502.5 303.6v-2.5h1.6v2.5z" fill="#0000ff" fill-opacity="0.55"/><path d="M1000.4 303.6v-2.3h1.6v2.3zM1085.3 303.6v-1.3h1.6v1.3zM1118.9 303.6v-1.6h1.6v1.6zM1130.4 303.6v-2.4h1.6v2.4zM1250.9 303.6v-1.3h1.6v1.3zM1269.5 303.6v-2.2h1.6v2.2zM1275.6 303.6v-1.1h1.6v1.1zM1310.1 303.6v-1.8h1.6v1.8zM1375.6 303.6v-1.7h1.6v1.7zM1382.5 303.6v-1.5h1.6v1.5zM1399 303.6v-1.9h1.6v1.9zM1411.9 303.6v-2.2h1.6v2.2zM1441 303.6v-2.6h1.6v2.6zM1444.9 303.6v-2.1h1.6v2.1zM1483.9 303.6v-2.2h1.6v2.2z" fill="#ff0000" fill-opacity="0.55"/><!--ROWC--><path d="M355 319h208v3.4h-208zM579 319h344.6v3.4h-344.6zM355 322.4h568.6v3.4h-568.6zM355 325.8h568.6v3.4h-568.6zM503 339.4h420.6v3.4h-420.6zM518 342.8h405.6v3.4h-405.6zM355 346.2h4v3.4h-4zM559 346.2h364.6v3.4h-364.6zM355 349.6h568.6v3.4h-568.6zM355 359.8h335v3.4h-335zM731 359.8h192.6v3.4h-192.6zM355 366.6h342v3.4h-342zM856 366.6h67.6v3.4h-67.6zM355 373.3h568.6v3.4h-568.6zM355 376.7h568.6v3.4h-568.6zM355 380.1h271v3.4h-271zM878 380.1h45.6v3.4h-45.6zM355 390.3h568.6v3.4h-568.6zM355 393.7h568.6v3.4h-568.6zM355 400.5h240v3.4h-240z" fill="#d2d2d2"/><path d="M355 308.8h568.6v3.4h-568.6zM355 312.2h30v3.4h-30zM450 312.2h473.6v3.4h-473.6zM355 315.6h330v3.4h-330zM702 315.6h221.6v3.4h-221.6zM355 329.2h568.6v3.4h-568.6zM355 332.6h568.6v3.4h-568.6zM355 336h568.6v3.4h-568.6zM355 353h568.6v3.4h-568.6zM355 356.4h256v3.4h-256zM619 356.4h304.6v3.4h-304.6zM628 363.2h295.6v3.4h-295.6zM355 369.9h244v3.4h-244zM865 369.9h58.6v3.4h-58.6zM355 383.5h250v3.4h-250zM355 386.9h531v3.4h-531zM355 397.1h568.6v3.4h-568.6zM355 403.9h568.6v3.4h-568.6z" fill="#c9dccf"/><path d="M355 310.5h0.5M366 310.5h2M370.5 310.5h2M375 310.5h2M378 310.5h2M381 310.5h7M391 310.5h3.5M396 310.5h2M398.5 310.5h4M403.5 310.5h2M406.5 310.5h3M414 310.5h3.5M418 310.5h2M423.5 310.5h2M426.5 310.5h4M432 310.5h2.5M437.5 310.5h7M445.5 310.5h1.5M451 310.5h2M459 310.5h1.5M462 310.5h4.5M468 310.5h4M477.5 310.5h2.5M482 310.5h4M487.5 310.5h1M489.5 310.5h11.5M504 310.5h1.5M508 310.5h7.5M521.5 310.5h4M526.5 310.5h2.5M532.5 310.5h11M553 310.5h2M558.5 310.5h1.5M561 310.5h1M563 310.5h1.5M565.5 310.5h6M572.5 310.5h1.5M575.5 310.5h3.5M585.5 310.5h2.5M590 310.5h2M595.5 310.5h2M604 310.5h9M624.5 310.5h4M631.5 310.5h2M640 310.5h2M644 310.5h3.5M648.5 310.5h2M654 310.5h2M656.5 310.5h2M673 310.5h2M675.5 310.5h11M688.5 310.5h3.5M692.5 310.5h3M700.5 310.5h7M708 310.5h3M713.5 310.5h2M719.5 310.5h3.5M726 310.5h7.5M747 310.5h6.5M759.5 310.5h2M769 310.5h2M784.5 310.5h2M801 310.5h3.5M811.5 310.5h4.5M819 310.5h6M830.5 310.5h2M839 310.5h2M844.5 310.5h1.5M849 310.5h6.5M857 310.5h1M859 310.5h10M870 310.5h2M877.5 310.5h6M887.5 310.5h3M892 310.5h1.5M901 310.5h3M908.5 310.5h1.5M912 310.5h3M917.5 310.5h3M355 313.9h0.5M356.5 313.9h1.5M362 313.9h2M370.5 313.9h2M375 313.9h1M378 313.9h2M381 313.9h4M451 313.9h2M459 313.9h1.5M462 313.9h10M475 313.9h1.5M484 313.9h2M487.5 313.9h7M495.5 313.9h2M499 313.9h2M504 313.9h3.5M508 313.9h7.5M523.5 313.9h2M526.5 313.9h4.5M531.5 313.9h12M558.5 313.9h2.5M564.5 313.9h12.5M583 313.9h2M585.5 313.9h2.5M590 313.9h4M595.5 313.9h2M604 313.9h11M626 313.9h11.5M638.5 313.9h3.5M644 313.9h1.5M648.5 313.9h2M654 313.9h2M656.5 313.9h2M669 313.9h2M671.5 313.9h3.5M675.5 313.9h1.5M678 313.9h10.5M690 313.9h2M692.5 313.9h3M700.5 313.9h7M708 313.9h3M713.5 313.9h2M719.5 313.9h2.5M724.5 313.9h9M734.5 313.9h3M742 313.9h3.5M747 313.9h6.5M757 313.9h2M759.5 313.9h2M769 313.9h2M784.5 313.9h2M801 313.9h3.5M813 313.9h3M817 313.9h8M828.5 313.9h4M839 313.9h2M844.5 313.9h1.5M850 313.9h3.5M855.5 313.9h2.5M859 313.9h13M877.5 313.9h4M885.5 313.9h3M892 313.9h1.5M902 313.9h2M908.5 313.9h4.5M917.5 313.9h3M355 317.3h5M362 317.3h2M366 317.3h2M370.5 317.3h2M375 317.3h2M378 317.3h2M381 317.3h4M387 317.3h3M391 317.3h7M398.5 317.3h4M403.5 317.3h6M410 317.3h2.5M415.5 317.3h2M418 317.3h2M423.5 317.3h2M427.5 317.3h3M432 317.3h1.5M436 317.3h5M442.5 317.3h2M445.5 317.3h7.5M456 317.3h1.5M459 317.3h13M477.5 317.3h4.5M484 317.3h13.5M499 317.3h2M508 317.3h7.5M521.5 317.3h4M526.5 317.3h4.5M531.5 317.3h3.5M536.5 317.3h7M544.5 317.3h2M553 317.3h2M558.5 317.3h20.5M583 317.3h2M585.5 317.3h2.5M590 317.3h2M604 317.3h5.5M611 317.3h4M624.5 317.3h13M638.5 317.3h3.5M644 317.3h3.5M648.5 317.3h2M654 317.3h2M656.5 317.3h2M671.5 317.3h3.5M675.5 317.3h9.5M702 317.3h5.5M708 317.3h1M713.5 317.3h2M719.5 317.3h3.5M724.5 317.3h1.5M728 317.3h5.5M734.5 317.3h3M743.5 317.3h2M747 317.3h6.5M757 317.3h2M759.5 317.3h2M762.5 317.3h5M769 317.3h2M784.5 317.3h2M792.5 317.3h2M801 317.3h3.5M811.5 317.3h4.5M817 317.3h8M828.5 317.3h4M834 317.3h2M839 317.3h2M849 317.3h23M877.5 317.3h6M885.5 317.3h5M892 317.3h1.5M901 317.3h3M904.5 317.3h2M908.5 317.3h6.5M917.5 317.3h3M355 320.7h5M362 320.7h2M366 320.7h2M370.5 320.7h2M375 320.7h5M381 320.7h6M388 320.7h2M391 320.7h7M398.5 320.7h4M403.5 320.7h6M410 320.7h2.5M414 320.7h3.5M418 320.7h2M423.5 320.7h2M427.5 320.7h3M432 320.7h2.5M436 320.7h5M442.5 320.7h2M445.5 320.7h4M451 320.7h2M456 320.7h16M476.5 320.7h2.5M482 320.7h13.5M496.5 320.7h4.5M504 320.7h3.5M508 320.7h7.5M521.5 320.7h4M526.5 320.7h4.5M531.5 320.7h12M544.5 320.7h2M553 320.7h2M558.5 320.7h4.5M582 320.7h3M585.5 320.7h8.5M595.5 320.7h2M604 320.7h11M619 320.7h2M624.5 320.7h1.5M627 320.7h4.5M632.5 320.7h5M638.5 320.7h3.5M644 320.7h3.5M648.5 320.7h2M654 320.7h2M656.5 320.7h2M671.5 320.7h3.5M675.5 320.7h16.5M693.5 320.7h2M700.5 320.7h7M708 320.7h3M719.5 320.7h12M747 320.7h3M757 320.7h2M759.5 320.7h2M763.5 320.7h2M769 320.7h2M784.5 320.7h2M792.5 320.7h2M801 320.7h3.5M811.5 320.7h4.5M819 320.7h6M825.5 320.7h7M834 320.7h2M839 320.7h2M844.5 320.7h3.5M849 320.7h1M852 320.7h20M877.5 320.7h6M886.5 320.7h4M902 320.7h2M904.5 320.7h2M912 320.7h3M917.5 320.7h3M355 324.1h0.5M356.5 324.1h1.5M362 324.1h2M370.5 324.1h2M375 324.1h5M381 324.1h9M391 324.1h7M398.5 324.1h4M403.5 324.1h6M410 324.1h2.5M414 324.1h3.5M418 324.1h2M423.5 324.1h2M426.5 324.1h4M432 324.1h1.5M442.5 324.1h2M457.5 324.1h3M463.5 324.1h3M468 324.1h4M480 324.1h6M487.5 324.1h7M495.5 324.1h5.5M504 324.1h3.5M508 324.1h7.5M521.5 324.1h2M526.5 324.1h2.5M531.5 324.1h12M544.5 324.1h2M553 324.1h2M558.5 324.1h7M566.5 324.1h6M574 324.1h5M582 324.1h3M585.5 324.1h1.5M588 324.1h6M595.5 324.1h2M604 324.1h5.5M613 324.1h2M624.5 324.1h1.5M628.5 324.1h9M638.5 324.1h3.5M644 324.1h3.5M654 324.1h2M656.5 324.1h2M673 324.1h2M675.5 324.1h16.5M692.5 324.1h3M700.5 324.1h3.5M708 324.1h3M719.5 324.1h2.5M723 324.1h8.5M734.5 324.1h3M742 324.1h3.5M747 324.1h6.5M759.5 324.1h2M763.5 324.1h4M769 324.1h2M784.5 324.1h2M801 324.1h3.5M810 324.1h3M814 324.1h2M817 324.1h8M825.5 324.1h3M830.5 324.1h2M834 324.1h2M839 324.1h2M844.5 324.1h3.5M849 324.1h23M879 324.1h2.5M886.5 324.1h4M892 324.1h1.5M901 324.1h3M904.5 324.1h2M912 324.1h3M917.5 324.1h3M355 327.5h0.5M356.5 327.5h3.5M362 327.5h2M366 327.5h2M370.5 327.5h2M375 327.5h5M381 327.5h4M386 327.5h1M388 327.5h2M391 327.5h3.5M396 327.5h2M398.5 327.5h4M403.5 327.5h6M410 327.5h2.5M414 327.5h3.5M423.5 327.5h2M426.5 327.5h4M432 327.5h2.5M436 327.5h8.5M445.5 327.5h7.5M456 327.5h4.5M463.5 327.5h3M468 327.5h4M476.5 327.5h2.5M480 327.5h2M484 327.5h17M504 327.5h1.5M508 327.5h7.5M521.5 327.5h4M526.5 327.5h4.5M531.5 327.5h12M544.5 327.5h2M553 327.5h2M558.5 327.5h18.5M583 327.5h2M585.5 327.5h8.5M595.5 327.5h2M604 327.5h11M619 327.5h2M624.5 327.5h13M644 327.5h3.5M648.5 327.5h2M654 327.5h2M668 327.5h1M673 327.5h2M675.5 327.5h16.5M698 327.5h2M700.5 327.5h7M708 327.5h3M713.5 327.5h2M719.5 327.5h5M728 327.5h5.5M734.5 327.5h3M742 327.5h3.5M747 327.5h6.5M762.5 327.5h5M769 327.5h2M784.5 327.5h2M801 327.5h3.5M810 327.5h6M817 327.5h8M825.5 327.5h10.5M839 327.5h2M844.5 327.5h3.5M849 327.5h23M877.5 327.5h4M885.5 327.5h5M892 327.5h1.5M901 327.5h3M908.5 327.5h1.5M913 327.5h2M917.5 327.5h3M356.5 330.9h1.5M370.5 330.9h2M375 330.9h5M381 330.9h5M387 330.9h1M392 330.9h2.5M396 330.9h2M398.5 330.9h4M403.5 330.9h6M410 330.9h2.5M414 330.9h3.5M426.5 330.9h4M432 330.9h2.5M436 330.9h8.5M445.5 330.9h7.5M456 330.9h3M462 330.9h4.5M468 330.9h2M477.5 330.9h4.5M484 330.9h17M505.5 330.9h2M508 330.9h7.5M521.5 330.9h4M526.5 330.9h1M529 330.9h2M531.5 330.9h12M544.5 330.9h2M553 330.9h2M558.5 330.9h9.5M569 330.9h8M582 330.9h3M585.5 330.9h8.5M604 330.9h11M619 330.9h2M624.5 330.9h4M630 330.9h3.5M635.5 330.9h2M638.5 330.9h3.5M644 330.9h3.5M656.5 330.9h2M671.5 330.9h3.5M675.5 330.9h13M690 330.9h2M692.5 330.9h3M698 330.9h2M700.5 330.9h7M708 330.9h3M719.5 330.9h3.5M724.5 330.9h9M734.5 330.9h3M742 330.9h3.5M747 330.9h3M759.5 330.9h2M762.5 330.9h3M769 330.9h2M784.5 330.9h2M792.5 330.9h2M801 330.9h3.5M805.5 330.9h2M811.5 330.9h4.5M817 330.9h8M825.5 330.9h7M834 330.9h2M839 330.9h2M844.5 330.9h3.5M849 330.9h4.5M855.5 330.9h16.5M877.5 330.9h4M885.5 330.9h5M892 330.9h1.5M901 330.9h3M904.5 330.9h2M908.5 330.9h6.5M917.5 330.9h3M355 334.3h0.5M358 334.3h2M362 334.3h2M370.5 334.3h4M375 334.3h5M381 334.3h9M391 334.3h7M398.5 334.3h4M403.5 334.3h6M410 334.3h7.5M418 334.3h2M426.5 334.3h4M432 334.3h1.5M434.5 334.3h10M445.5 334.3h7.5M462 334.3h4.5M470 334.3h2M475 334.3h1.5M480 334.3h2M484 334.3h17M503 334.3h2.5M508 334.3h7.5M521.5 334.3h4M526.5 334.3h1M531.5 334.3h10M544.5 334.3h2M553 334.3h2M558.5 334.3h2.5M563 334.3h7.5M571.5 334.3h7.5M582 334.3h3M585.5 334.3h2.5M590 334.3h4M595.5 334.3h2M604 334.3h11M619 334.3h2M624.5 334.3h13M644 334.3h3.5M654 334.3h2M656.5 334.3h2M669 334.3h2M671.5 334.3h3.5M675.5 334.3h13M690 334.3h2M692.5 334.3h3M700.5 334.3h7M708 334.3h3M713.5 334.3h2M719.5 334.3h3.5M724.5 334.3h9M734.5 334.3h3M742 334.3h3.5M747 334.3h6.5M759.5 334.3h2M762.5 334.3h5M769 334.3h2M784.5 334.3h2M792.5 334.3h2M797.5 334.3h2M801 334.3h3.5M810 334.3h6M817 334.3h8M825.5 334.3h1.5M830.5 334.3h2M834 334.3h2M839 334.3h2M844.5 334.3h3.5M850 334.3h3.5M855.5 334.3h16.5M877.5 334.3h4M886.5 334.3h2M892 334.3h1.5M901 334.3h3M908.5 334.3h1.5M912 334.3h3M917.5 334.3h3M355 337.7h3M362 337.7h2M366 337.7h2M370.5 337.7h2M375 337.7h5M381 337.7h9M391 337.7h7M398.5 337.7h4M403.5 337.7h6M411.5 337.7h1M414 337.7h3.5M418 337.7h2M423.5 337.7h2M426.5 337.7h4M432 337.7h12.5M445.5 337.7h7.5M456 337.7h16M484 337.7h2M492 337.7h9M504 337.7h3.5M508 337.7h7.5M521.5 337.7h4M527.5 337.7h3.5M531.5 337.7h12M544.5 337.7h2M553 337.7h2M558.5 337.7h15.5M575.5 337.7h3.5M582 337.7h3M590 337.7h4M595.5 337.7h2M604 337.7h11M619 337.7h2M624.5 337.7h13M644 337.7h3.5M654 337.7h2M656.5 337.7h2M671.5 337.7h3.5M675.5 337.7h14.5M692.5 337.7h3M700.5 337.7h7M708 337.7h3M719.5 337.7h14M734.5 337.7h1M742 337.7h3.5M747 337.7h3M751.5 337.7h2M757 337.7h2M759.5 337.7h2M762.5 337.7h5M784.5 337.7h2M792.5 337.7h2M797.5 337.7h2M801 337.7h3.5M805.5 337.7h2M810 337.7h3M814 337.7h2M820 337.7h5M825.5 337.7h1.5M828.5 337.7h4M839 337.7h2M844.5 337.7h1.5M850 337.7h11M862 337.7h10M877.5 337.7h6M885.5 337.7h5M892 337.7h1.5M901 337.7h3M904.5 337.7h2M912 337.7h3M917.5 337.7h1M503 341.1h4.5M508 341.1h7.5M521.5 341.1h4M526.5 341.1h4.5M531.5 341.1h2M536.5 341.1h5M553 341.1h2M558.5 341.1h1.5M562 341.1h8.5M571.5 341.1h2.5M583 341.1h2M585.5 341.1h8.5M604 341.1h5.5M611 341.1h2M619 341.1h2M624.5 341.1h13M654 341.1h2M656.5 341.1h2M668 341.1h1M677 341.1h11.5M693.5 341.1h2M700.5 341.1h7M708 341.1h3M713.5 341.1h2M719.5 341.1h2.5M726 341.1h7.5M734.5 341.1h3M747 341.1h3M751.5 341.1h2M757 341.1h2M759.5 341.1h2M769 341.1h2M784.5 341.1h2M810 341.1h3M817 341.1h4M823 341.1h2M825.5 341.1h7M834 341.1h2M844.5 341.1h1.5M849 341.1h10M860 341.1h6.5M867.5 341.1h4.5M879 341.1h2.5M885.5 341.1h2M888.5 341.1h2M892 341.1h1.5M901 341.1h3M908.5 341.1h6.5M917.5 341.1h3M521.5 344.5h4M526.5 344.5h4.5M531.5 344.5h3.5M538 344.5h5.5M544.5 344.5h2M553 344.5h2M558.5 344.5h4.5M564.5 344.5h11M582 344.5h3M585.5 344.5h1.5M590 344.5h4M604 344.5h11M619 344.5h2M624.5 344.5h7M635.5 344.5h2M638.5 344.5h3.5M644 344.5h3.5M656.5 344.5h2M668 344.5h1M671.5 344.5h3.5M675.5 344.5h16.5M693.5 344.5h2M700.5 344.5h3.5M705.5 344.5h2M708 344.5h3M713.5 344.5h2M719.5 344.5h3.5M726 344.5h7.5M734.5 344.5h1M743.5 344.5h2M747 344.5h6.5M757 344.5h2M759.5 344.5h2M763.5 344.5h2M792.5 344.5h2M797.5 344.5h2M801 344.5h3.5M811.5 344.5h4.5M817 344.5h8M825.5 344.5h1.5M828.5 344.5h4M839 344.5h2M844.5 344.5h3.5M850 344.5h2M853.5 344.5h18.5M879 344.5h2.5M885.5 344.5h5M892 344.5h1.5M912 344.5h3M917.5 344.5h3M355 347.9h0.5M356.5 347.9h2.5M559 347.9h13.5M582 347.9h3M588 347.9h6M604 347.9h4M609.5 347.9h5.5M624.5 347.9h7M633.5 347.9h4M638.5 347.9h3.5M644 347.9h3.5M654 347.9h2M656.5 347.9h2M671.5 347.9h3.5M675.5 347.9h16.5M692.5 347.9h3M700.5 347.9h7M708 347.9h3M719.5 347.9h2.5M724.5 347.9h7M734.5 347.9h3M742 347.9h3.5M747 347.9h6.5M762.5 347.9h5M769 347.9h2M784.5 347.9h2M797.5 347.9h2M801 347.9h3.5M811.5 347.9h4.5M819 347.9h6M825.5 347.9h1.5M830.5 347.9h2M839 347.9h2M844.5 347.9h3.5M849 347.9h4.5M855.5 347.9h16.5M877.5 347.9h6M888.5 347.9h2M892 347.9h3.5M901 347.9h3M904.5 347.9h2M917.5 347.9h3M355 351.3h5M370.5 351.3h2M375 351.3h5M381 351.3h4M388 351.3h2M391 351.3h7M398.5 351.3h4M403.5 351.3h6M410 351.3h7.5M418 351.3h2M426.5 351.3h4M432 351.3h1.5M436 351.3h1.5M439 351.3h5.5M447 351.3h1M449.5 351.3h3.5M456 351.3h6M463.5 351.3h3M468 351.3h4M475 351.3h1.5M477.5 351.3h8.5M487.5 351.3h4.5M499 351.3h2M504 351.3h3.5M508 351.3h7.5M521.5 351.3h4M526.5 351.3h4.5M531.5 351.3h12M544.5 351.3h2M553 351.3h2M558.5 351.3h18.5M582 351.3h3M585.5 351.3h8.5M595.5 351.3h2M604 351.3h11M619 351.3h2M624.5 351.3h7M632.5 351.3h5M644 351.3h3.5M654 351.3h2M656.5 351.3h2M668 351.3h3M671.5 351.3h3.5M675.5 351.3h4.5M681.5 351.3h8.5M700.5 351.3h7M708 351.3h3M719.5 351.3h3.5M727 351.3h6.5M735.5 351.3h2M742 351.3h3.5M747 351.3h3M762.5 351.3h3M769 351.3h2M801 351.3h3.5M811.5 351.3h1.5M814 351.3h2M819 351.3h6M825.5 351.3h1.5M828.5 351.3h4M839 351.3h2M844.5 351.3h1.5M849 351.3h23M877.5 351.3h6M886.5 351.3h4M892 351.3h1.5M901 351.3h3M904.5 351.3h2M908.5 351.3h1.5M912 351.3h3M917.5 351.3h3M355 354.7h5M370.5 354.7h2M375 354.7h2M378 354.7h2M381 354.7h4M391 354.7h3.5M396 354.7h2M398.5 354.7h4M403.5 354.7h1M405.5 354.7h4M410 354.7h5.5M418 354.7h2M423.5 354.7h2M426.5 354.7h4M432 354.7h2.5M445.5 354.7h7.5M457.5 354.7h1.5M463.5 354.7h3M470 354.7h2M480 354.7h4M486 354.7h11.5M499 354.7h2M504 354.7h3.5M508 354.7h7.5M521.5 354.7h4M526.5 354.7h4.5M531.5 354.7h2M536.5 354.7h7M544.5 354.7h2M553 354.7h2M558.5 354.7h20.5M582 354.7h3M585.5 354.7h2.5M590 354.7h4M595.5 354.7h2M604 354.7h5.5M611 354.7h4M619 354.7h2M626 354.7h5.5M633.5 354.7h2M644 354.7h3.5M648.5 354.7h2M654 354.7h2M656.5 354.7h2M669 354.7h2M673 354.7h2M675.5 354.7h14.5M693.5 354.7h2M698 354.7h2M700.5 354.7h7M708 354.7h3M713.5 354.7h2M719.5 354.7h2.5M724.5 354.7h9M734.5 354.7h3M742 354.7h3.5M747 354.7h3M751.5 354.7h2M769 354.7h2M784.5 354.7h2M801 354.7h3.5M811.5 354.7h1.5M817 354.7h8M825.5 354.7h1.5M828.5 354.7h4M834 354.7h2M839 354.7h2M844.5 354.7h3.5M852 354.7h20M877.5 354.7h6M885.5 354.7h5M892 354.7h3.5M901 354.7h3M904.5 354.7h2M908.5 354.7h1.5M912 354.7h3M917.5 354.7h3M355.5 358.1h4.5M362 358.1h2M366 358.1h2M375 358.1h5M381 358.1h3M388 358.1h2M391 358.1h7M398.5 358.1h4M403.5 358.1h6M410 358.1h2.5M414 358.1h3.5M418 358.1h2M426.5 358.1h4M432 358.1h1.5M441 358.1h3.5M445.5 358.1h7.5M456 358.1h1.5M460.5 358.1h1.5M463.5 358.1h3M470 358.1h2M477.5 358.1h1.5M480 358.1h2M484 358.1h17M504 358.1h3.5M508 358.1h7.5M523.5 358.1h2M526.5 358.1h4.5M535 358.1h8.5M544.5 358.1h2M553 358.1h2M558.5 358.1h1.5M561 358.1h8M570.5 358.1h3.5M583 358.1h2M585.5 358.1h2.5M590 358.1h4M595.5 358.1h2M606 358.1h5M624.5 358.1h5.5M631.5 358.1h6M644 358.1h3.5M654 358.1h2M656.5 358.1h2M668 358.1h1M671.5 358.1h3.5M675.5 358.1h13M690 358.1h2M692.5 358.1h3M698 358.1h2M700.5 358.1h7M719.5 358.1h14M735.5 358.1h2M743.5 358.1h2M747 358.1h3M765.5 358.1h2M769 358.1h2M801 358.1h3.5M810 358.1h6M817 358.1h2M820 358.1h5M825.5 358.1h1.5M828.5 358.1h4M834 358.1h2M839 358.1h2M844.5 358.1h3.5M849 358.1h17.5M867.5 358.1h4.5M877.5 358.1h6M887.5 358.1h1M892 358.1h3.5M901 358.1h3M912 358.1h3M917.5 358.1h3M355 361.5h0.5M356.5 361.5h1.5M370.5 361.5h2M376 361.5h4M381 361.5h7M391 361.5h7M398.5 361.5h4M403.5 361.5h6M410 361.5h2.5M414 361.5h3.5M418 361.5h2M423.5 361.5h2M426.5 361.5h4M432 361.5h2.5M436 361.5h8.5M445.5 361.5h4M460.5 361.5h6M468 361.5h4M484 361.5h15M503 361.5h4.5M508 361.5h7.5M521.5 361.5h4M526.5 361.5h4.5M531.5 361.5h12M544.5 361.5h2M553 361.5h2M558.5 361.5h12M571.5 361.5h7.5M585.5 361.5h1.5M590 361.5h4M595.5 361.5h2M604 361.5h5.5M611 361.5h4M619 361.5h2M624.5 361.5h1.5M627 361.5h10.5M644 361.5h3.5M654 361.5h2M656.5 361.5h2M669 361.5h2M671.5 361.5h3.5M675.5 361.5h2.5M680 361.5h8.5M731 361.5h2.5M734.5 361.5h3M742 361.5h3.5M747 361.5h3M751.5 361.5h2M762.5 361.5h1M769 361.5h2M792.5 361.5h2M801 361.5h3.5M805.5 361.5h2M810 361.5h3M817 361.5h8M830.5 361.5h2M834 361.5h2M839 361.5h2M844.5 361.5h1.5M849 361.5h3M855.5 361.5h1.5M858 361.5h14M877.5 361.5h4M886.5 361.5h4M892 361.5h1.5M901 361.5h3M908.5 361.5h1.5M917.5 361.5h3M628 364.9h9.5M644 364.9h3.5M648.5 364.9h2M654 364.9h2M656.5 364.9h2M673 364.9h2M675.5 364.9h13M690 364.9h2M692.5 364.9h3M700.5 364.9h7M708 364.9h3M719.5 364.9h2.5M723 364.9h10.5M734.5 364.9h3M742 364.9h3.5M747 364.9h3M751.5 364.9h2M759.5 364.9h2M762.5 364.9h5M769 364.9h2M784.5 364.9h2M801 364.9h3.5M805.5 364.9h2M810 364.9h6M817 364.9h2M820 364.9h5M825.5 364.9h7M839 364.9h2M844.5 364.9h1.5M849 364.9h6.5M857 364.9h15M877.5 364.9h3M886.5 364.9h4M892 364.9h3.5M901 364.9h3M908.5 364.9h6.5M917.5 364.9h3M355 368.2h0.5M356.5 368.2h1.5M362 368.2h2M370.5 368.2h2M375 368.2h5M381 368.2h4M386 368.2h4M391 368.2h3.5M396 368.2h2M398.5 368.2h4M403.5 368.2h6M410 368.2h2.5M414 368.2h3.5M418 368.2h2M422.5 368.2h1M426.5 368.2h4M432 368.2h2.5M441 368.2h3.5M449.5 368.2h3.5M457.5 368.2h9M468 368.2h4M480 368.2h2M486 368.2h10.5M499 368.2h2M503 368.2h4.5M508 368.2h7.5M521.5 368.2h4M529 368.2h2M531.5 368.2h5M538 368.2h5.5M544.5 368.2h2M553 368.2h2M560 368.2h6.5M569 368.2h8M582 368.2h3M587 368.2h5M595.5 368.2h2M604 368.2h11M619 368.2h2M624.5 368.2h9M635.5 368.2h2M640 368.2h2M644 368.2h3.5M648.5 368.2h2M654 368.2h2M656.5 368.2h2M668 368.2h3M671.5 368.2h3.5M675.5 368.2h13M690 368.2h2M856 368.2h16M877.5 368.2h6M886.5 368.2h4M892 368.2h1.5M904.5 368.2h2M908.5 368.2h1.5M917.5 368.2h3M355 371.6h5M362 371.6h2M366 371.6h2M370.5 371.6h2M375 371.6h5M381 371.6h6M391 371.6h7M398.5 371.6h4M403.5 371.6h6M410 371.6h2.5M414 371.6h3.5M418 371.6h2M423.5 371.6h2M426.5 371.6h4M432 371.6h9M442.5 371.6h2M447 371.6h6M456 371.6h6M463.5 371.6h3M468 371.6h4M480 371.6h21M504 371.6h3.5M508 371.6h7.5M521.5 371.6h4M526.5 371.6h4.5M531.5 371.6h12M544.5 371.6h2M553 371.6h2M558.5 371.6h20.5M582 371.6h3M585.5 371.6h2.5M590 371.6h4M595.5 371.6h2M865 371.6h7M877.5 371.6h4M886.5 371.6h4M892 371.6h3.5M901 371.6h3M904.5 371.6h2M908.5 371.6h3.5M913 371.6h2M917.5 371.6h3M356.5 375h3.5M362 375h2M375 375h5M381 375h9M391 375h7M398.5 375h4M403.5 375h6M410 375h7.5M418 375h2M422.5 375h3M426.5 375h4M432 375h12.5M449.5 375h3.5M457.5 375h3M462 375h3.5M470 375h2M475 375h1.5M482 375h19M508 375h7.5M521.5 375h4M527.5 375h3.5M531.5 375h12M544.5 375h2M553 375h2M558.5 375h1.5M561 375h9.5M571.5 375h1M574 375h5M582 375h3M585.5 375h2.5M590 375h4M595.5 375h2M604 375h11M624.5 375h8M633.5 375h4M640 375h2M644 375h3.5M648.5 375h2M654 375h2M656.5 375h2M669 375h2M671.5 375h3.5M675.5 375h13M690 375h2M692.5 375h1M700.5 375h7M708 375h3M713.5 375h2M719.5 375h3.5M724.5 375h9M734.5 375h1M742 375h3.5M747 375h6.5M759.5 375h2M762.5 375h3M769 375h2M784.5 375h2M792.5 375h2M801 375h3.5M811.5 375h1.5M819 375h6M825.5 375h7M834 375h2M839 375h2M844.5 375h3.5M849 375h23M877.5 375h4M885.5 375h5M892 375h1.5M901 375h3M904.5 375h2M908.5 375h1.5M912 375h3M917.5 375h3M355 378.4h0.5M356.5 378.4h3.5M366 378.4h2M370.5 378.4h2M376 378.4h4M381 378.4h5M388 378.4h2M391 378.4h1M393 378.4h1.5M398.5 378.4h4M403.5 378.4h6M410 378.4h7.5M418 378.4h2M422.5 378.4h1M426.5 378.4h4M432 378.4h1.5M437.5 378.4h7M445.5 378.4h4M451 378.4h2M459 378.4h7.5M468 378.4h4M477.5 378.4h1.5M480 378.4h6M487.5 378.4h13.5M503 378.4h2.5M508 378.4h7.5M521.5 378.4h4M526.5 378.4h4.5M531.5 378.4h2M535 378.4h8.5M544.5 378.4h2M553 378.4h2M558.5 378.4h9.5M569 378.4h5M577 378.4h2M582 378.4h3M585.5 378.4h4.5M592 378.4h2M595.5 378.4h2M604 378.4h9M626 378.4h6.5M633.5 378.4h4M638.5 378.4h3.5M644 378.4h3.5M648.5 378.4h2M654 378.4h2M656.5 378.4h2M673 378.4h2M675.5 378.4h16.5M692.5 378.4h3M700.5 378.4h7M708 378.4h3M713.5 378.4h2M719.5 378.4h3.5M726 378.4h7.5M734.5 378.4h3M743.5 378.4h2M747 378.4h6.5M757 378.4h2M759.5 378.4h2M769 378.4h2M784.5 378.4h2M792.5 378.4h2M801 378.4h3.5M819 378.4h6M828.5 378.4h4M834 378.4h2M839 378.4h2M844.5 378.4h3.5M849 378.4h6.5M858 378.4h14M877.5 378.4h4M886.5 378.4h4M892 378.4h1.5M901 378.4h3M912 378.4h3M917.5 378.4h3M362 381.8h2M370.5 381.8h2M375 381.8h5M381 381.8h6M388 381.8h2M391 381.8h7M398.5 381.8h4M403.5 381.8h6M410 381.8h2.5M414 381.8h3.5M423.5 381.8h2M426.5 381.8h4M432 381.8h1.5M436 381.8h8.5M445.5 381.8h1.5M448 381.8h5M456 381.8h10.5M475 381.8h1.5M480 381.8h21M504 381.8h3.5M508 381.8h7.5M521.5 381.8h4M526.5 381.8h1M529 381.8h2M531.5 381.8h12M544.5 381.8h2M553 381.8h2M558.5 381.8h9.5M569 381.8h8M582 381.8h3M590 381.8h4M604 381.8h5.5M611 381.8h4M619 381.8h2M624.5 381.8h1.5M878 381.8h3.5M886.5 381.8h4M892 381.8h1.5M901 381.8h3M908.5 381.8h6.5M917.5 381.8h3M370.5 385.2h2M375 385.2h5M381 385.2h4M391 385.2h2M396 385.2h2M398.5 385.2h4M403.5 385.2h6M410 385.2h1.5M418 385.2h2M423.5 385.2h2M426.5 385.2h4M436 385.2h8.5M451 385.2h2M457.5 385.2h4.5M463.5 385.2h2M470 385.2h2M477.5 385.2h1.5M480 385.2h2M486 385.2h1.5M489.5 385.2h6M496.5 385.2h1M504 385.2h3.5M508 385.2h5.5M521.5 385.2h4M529 385.2h2M531.5 385.2h2M536.5 385.2h7M544.5 385.2h2M553 385.2h2M560 385.2h2M563 385.2h7.5M571.5 385.2h7.5M582 385.2h3M590 385.2h4M604 385.2h1M355 388.6h0.5M356.5 388.6h3.5M366 388.6h2M370.5 388.6h2M375 388.6h5M381 388.6h5M391 388.6h7M398.5 388.6h4M403.5 388.6h6M410 388.6h2.5M414 388.6h3.5M418 388.6h2M423.5 388.6h2M426.5 388.6h4M432 388.6h2.5M436 388.6h8.5M447 388.6h6M457.5 388.6h3M462 388.6h10M476.5 388.6h1M480 388.6h21M508 388.6h7.5M521.5 388.6h4M526.5 388.6h4.5M531.5 388.6h12M544.5 388.6h2M553 388.6h2M558.5 388.6h18.5M582 388.6h3M585.5 388.6h8.5M595.5 388.6h2M604 388.6h11M619 388.6h2M624.5 388.6h13M638.5 388.6h3.5M644 388.6h3.5M648.5 388.6h2M654 388.6h2M656.5 388.6h2M671.5 388.6h3.5M675.5 388.6h1.5M680 388.6h12M692.5 388.6h3M700.5 388.6h7M708 388.6h3M719.5 388.6h3.5M724.5 388.6h7M734.5 388.6h3M742 388.6h3.5M747 388.6h6.5M757 388.6h2M769 388.6h2M784.5 388.6h2M801 388.6h3.5M811.5 388.6h1.5M814 388.6h2M817 388.6h8M825.5 388.6h10.5M839 388.6h2M844.5 388.6h3.5M850 388.6h22M877.5 388.6h6M355 392h0.5M356.5 392h3.5M366 392h2M370.5 392h2M375 392h2M378 392h2M383 392h2M386 392h1M388 392h2M391 392h7M398.5 392h4M403.5 392h6M410 392h2.5M415.5 392h2M422.5 392h1M426.5 392h4M432 392h1.5M436 392h8.5M447 392h6M456 392h1.5M459 392h6.5M468 392h4M477.5 392h23.5M503 392h2.5M508 392h7.5M521.5 392h4M526.5 392h2.5M532.5 392h11M544.5 392h2M553 392h2M558.5 392h3.5M564.5 392h11M582 392h3M585.5 392h8.5M604 392h9M619 392h2M624.5 392h5.5M631.5 392h6M644 392h3.5M654 392h2M656.5 392h2M671.5 392h3.5M675.5 392h13M690 392h2M692.5 392h3M700.5 392h7M708 392h3M713.5 392h2M719.5 392h14M734.5 392h3M742 392h3.5M747 392h6.5M759.5 392h2M762.5 392h1M765.5 392h2M792.5 392h2M801 392h3.5M810 392h3M814 392h2M820 392h5M828.5 392h5.5M839 392h2M844.5 392h3.5M852 392h20M877.5 392h6M886.5 392h4M892 392h1.5M901 392h3M912 392h1M917.5 392h3M355 395.4h0.5M356.5 395.4h1.5M362 395.4h2M366 395.4h2M370.5 395.4h2M375 395.4h5M381 395.4h9M391 395.4h7M399.5 395.4h3M403.5 395.4h6M410 395.4h2.5M418 395.4h2M422.5 395.4h3M427.5 395.4h3M432 395.4h2.5M437.5 395.4h1.5M441 395.4h3.5M445.5 395.4h1.5M459 395.4h4.5M465.5 395.4h6.5M475 395.4h4M480 395.4h2M487.5 395.4h10M508 395.4h2M512 395.4h3.5M521.5 395.4h4M526.5 395.4h1M529 395.4h2M531.5 395.4h6.5M541.5 395.4h2M544.5 395.4h2M553 395.4h2M558.5 395.4h2.5M562 395.4h10.5M575.5 395.4h1.5M583 395.4h2M585.5 395.4h1.5M590 395.4h4M595.5 395.4h2M604 395.4h11M619 395.4h2M624.5 395.4h7M633.5 395.4h4M638.5 395.4h3.5M648.5 395.4h2M654 395.4h2M656.5 395.4h2M671.5 395.4h3.5M675.5 395.4h16.5M692.5 395.4h1M700.5 395.4h7M708 395.4h3M713.5 395.4h2M719.5 395.4h10.5M731.5 395.4h2M734.5 395.4h3M742 395.4h3.5M747 395.4h6.5M759.5 395.4h2M762.5 395.4h3M769 395.4h2M784.5 395.4h2M792.5 395.4h2M801 395.4h3.5M811.5 395.4h1.5M817 395.4h8M825.5 395.4h7M834 395.4h2M839 395.4h2M844.5 395.4h3.5M849 395.4h6.5M857 395.4h15M877.5 395.4h4M885.5 395.4h5M892 395.4h1.5M901 395.4h3M904.5 395.4h2M908.5 395.4h6.5M917.5 395.4h3M355 398.8h0.5M356.5 398.8h3.5M362 398.8h2M366 398.8h2M370.5 398.8h2M375 398.8h5M381 398.8h9M391 398.8h7M398.5 398.8h4M403.5 398.8h6M410 398.8h2.5M414 398.8h3.5M418 398.8h2M423.5 398.8h2M426.5 398.8h4M432 398.8h2.5M436 398.8h5M442.5 398.8h2M447 398.8h6M456 398.8h16M479 398.8h22M503 398.8h4.5M508 398.8h4M521.5 398.8h4M526.5 398.8h1M529 398.8h2M531.5 398.8h12M544.5 398.8h2M553 398.8h2M558.5 398.8h1.5M562 398.8h13.5M583 398.8h2M585.5 398.8h8.5M604 398.8h11M619 398.8h2M624.5 398.8h13M638.5 398.8h3.5M644 398.8h1.5M648.5 398.8h2M654 398.8h2M656.5 398.8h2M668 398.8h3M671.5 398.8h3.5M675.5 398.8h13M690 398.8h2M692.5 398.8h3M700.5 398.8h7M708 398.8h3M713.5 398.8h2M719.5 398.8h14M734.5 398.8h1M742 398.8h3.5M747 398.8h3M751.5 398.8h2M759.5 398.8h2M762.5 398.8h3M769 398.8h2M801 398.8h3.5M813 398.8h1M817 398.8h2M820 398.8h5M825.5 398.8h10.5M839 398.8h2M844.5 398.8h3.5M849 398.8h13M863 398.8h9M877.5 398.8h4M886.5 398.8h4M892 398.8h1.5M901 398.8h1M908.5 398.8h1.5M912 398.8h1M917.5 398.8h3M355 402.2h5M370.5 402.2h2M375 402.2h5M381 402.2h9M391 402.2h3.5M398.5 402.2h4M403.5 402.2h6M410 402.2h2.5M414 402.2h3.5M418 402.2h2M423.5 402.2h2M426.5 402.2h4M432 402.2h1.5M436 402.2h1.5M439 402.2h5.5M447 402.2h6M456 402.2h10.5M468 402.2h4M475 402.2h1.5M480 402.2h21M504 402.2h3.5M508 402.2h2M512 402.2h3.5M521.5 402.2h4M526.5 402.2h2.5M531.5 402.2h2M538 402.2h5.5M544.5 402.2h2M553 402.2h2M558.5 402.2h12M571.5 402.2h2.5M575.5 402.2h1.5M582 402.2h3M590 402.2h4M355 405.6h0.5M362 405.6h2M370.5 405.6h4M375 405.6h5M381 405.6h5M388 405.6h2M391 405.6h7M398.5 405.6h4M403.5 405.6h6M410 405.6h2.5M414 405.6h3.5M418 405.6h2M422.5 405.6h3M426.5 405.6h4M432 405.6h1.5M434.5 405.6h6.5M445.5 405.6h7.5M457.5 405.6h9M468 405.6h4M482 405.6h19M503 405.6h2.5M508 405.6h7.5M521.5 405.6h4M526.5 405.6h2.5M531.5 405.6h12M544.5 405.6h2M553 405.6h2M558.5 405.6h4.5M565.5 405.6h8.5M575.5 405.6h3.5M582 405.6h3M585.5 405.6h8.5M604 405.6h9M619 405.6h2M624.5 405.6h13M638.5 405.6h3.5M644 405.6h3.5M654 405.6h2M656.5 405.6h2M671.5 405.6h3.5M675.5 405.6h13M693.5 405.6h2M700.5 405.6h7M708 405.6h3M713.5 405.6h2M719.5 405.6h2.5M724.5 405.6h9M734.5 405.6h3M747 405.6h3M751.5 405.6h2M759.5 405.6h2M763.5 405.6h2M769 405.6h2M784.5 405.6h2M801 405.6h3.5M810 405.6h6M819 405.6h6M825.5 405.6h3M834 405.6h2M839 405.6h2M844.5 405.6h3.5M849 405.6h23M877.5 405.6h6M886.5 405.6h4M892 405.6h1.5M901 405.6h1M908.5 405.6h1.5M912 405.6h1M917.5 405.6h3" stroke="#ff0000" stroke-width="2.1" fill="none"/><path d="M355.5 310.5h4.5M362 310.5h2M372.5 310.5h2M377 310.5h1M388 310.5h2M394.5 310.5h1.5M405.5 310.5h1M410 310.5h4M422.5 310.5h1M434.5 310.5h3M447 310.5h4M456 310.5h3M460.5 310.5h1.5M466.5 310.5h1.5M475 310.5h2.5M480 310.5h2M486 310.5h1.5M488.5 310.5h1M503 310.5h1M505.5 310.5h2M529 310.5h2M531.5 310.5h1M544.5 310.5h2M560 310.5h1M562 310.5h1M564.5 310.5h1M571.5 310.5h1M574 310.5h1.5M582 310.5h3M588 310.5h2M592 310.5h2M613 310.5h2M619 310.5h2M628.5 310.5h3M633.5 310.5h4M638.5 310.5h1.5M668 310.5h3M671.5 310.5h1.5M686.5 310.5h2M698 310.5h2M723 310.5h3M734.5 310.5h3M742 310.5h3.5M754 310.5h2M757 310.5h2M762.5 310.5h5M792.5 310.5h2M797.5 310.5h2M805.5 310.5h2M810 310.5h1.5M817 310.5h2M825.5 310.5h5M832.5 310.5h3.5M846 310.5h2M855.5 310.5h1.5M858 310.5h1M869 310.5h1M883.5 310.5h4M893.5 310.5h2M904.5 310.5h2M910 310.5h2M355.5 313.9h1M358 313.9h2M366 313.9h2M372.5 313.9h2M376 313.9h2M450 313.9h1M456 313.9h3M460.5 313.9h1.5M476.5 313.9h7.5M486 313.9h1.5M494.5 313.9h1M497.5 313.9h1.5M503 313.9h1M521.5 313.9h2M544.5 313.9h2M553 313.9h2M561 313.9h3.5M577 313.9h2M582 313.9h1M588 313.9h2M619 313.9h2M624.5 313.9h1.5M645.5 313.9h2M668 313.9h1M677 313.9h1M688.5 313.9h1.5M698 313.9h2M722 313.9h2.5M754 313.9h2M762.5 313.9h5M792.5 313.9h2M797.5 313.9h2M805.5 313.9h2M810 313.9h3M825.5 313.9h3M832.5 313.9h3.5M846 313.9h2M849 313.9h1M853.5 313.9h2M858 313.9h1M881.5 313.9h4M888.5 313.9h2M893.5 313.9h2M901 313.9h1M904.5 313.9h2M913 313.9h2M372.5 317.3h2M377 317.3h1M385 317.3h2M412.5 317.3h3M422.5 317.3h1M426.5 317.3h1M433.5 317.3h2.5M441 317.3h1.5M457.5 317.3h1.5M475 317.3h2.5M482 317.3h2M497.5 317.3h1.5M503 317.3h4.5M535 317.3h1.5M582 317.3h1M588 317.3h2M592 317.3h2M595.5 317.3h2M609.5 317.3h1.5M619 317.3h2M668 317.3h3M709 317.3h2M723 317.3h1.5M726 317.3h2M742 317.3h1.5M754 317.3h2M797.5 317.3h2M805.5 317.3h2M810 317.3h1.5M825.5 317.3h3M832.5 317.3h1.5M844.5 317.3h3.5M883.5 317.3h2M893.5 317.3h2M372.5 320.7h2M387 320.7h1M412.5 320.7h1.5M422.5 320.7h1M426.5 320.7h1M434.5 320.7h1.5M441 320.7h1.5M449.5 320.7h1.5M475 320.7h1.5M479 320.7h3M495.5 320.7h1M503 320.7h1M626 320.7h1M631.5 320.7h1M668 320.7h3M692.5 320.7h1M698 320.7h2M713.5 320.7h2M731.5 320.7h2M734.5 320.7h3M742 320.7h3.5M750 320.7h3.5M754 320.7h2M762.5 320.7h1M765.5 320.7h2M797.5 320.7h2M805.5 320.7h2M810 320.7h1.5M817 320.7h2M832.5 320.7h1.5M850 320.7h2M883.5 320.7h3M892 320.7h3.5M901 320.7h1M908.5 320.7h3.5M355.5 324.1h1M358 324.1h2M366 324.1h2M372.5 324.1h2M412.5 324.1h1.5M422.5 324.1h1M433.5 324.1h9M445.5 324.1h7.5M456 324.1h1.5M460.5 324.1h3M466.5 324.1h1.5M475 324.1h5M486 324.1h1.5M494.5 324.1h1M503 324.1h1M523.5 324.1h2M529 324.1h2M565.5 324.1h1M572.5 324.1h1.5M587 324.1h1M609.5 324.1h3.5M619 324.1h2M626 324.1h2.5M648.5 324.1h2M668 324.1h3M671.5 324.1h1.5M698 324.1h2M704 324.1h3.5M713.5 324.1h2M722 324.1h1M731.5 324.1h2M754 324.1h2M757 324.1h2M762.5 324.1h1M792.5 324.1h2M797.5 324.1h2M805.5 324.1h2M813 324.1h1M828.5 324.1h2M832.5 324.1h1.5M877.5 324.1h1.5M881.5 324.1h5M893.5 324.1h2M908.5 324.1h3.5M355.5 327.5h1M372.5 327.5h2M385 327.5h1M387 327.5h1M394.5 327.5h1.5M412.5 327.5h1.5M418 327.5h2M422.5 327.5h1M434.5 327.5h1.5M460.5 327.5h3M466.5 327.5h1.5M475 327.5h1.5M479 327.5h1M482 327.5h2M503 327.5h1M505.5 327.5h2M577 327.5h2M582 327.5h1M638.5 327.5h3.5M656.5 327.5h2M669 327.5h2M671.5 327.5h1.5M692.5 327.5h3M724.5 327.5h3.5M754 327.5h2M757 327.5h2M759.5 327.5h2M792.5 327.5h2M797.5 327.5h2M805.5 327.5h2M881.5 327.5h4M893.5 327.5h2M904.5 327.5h2M910 327.5h3M355 330.9h1.5M358 330.9h2M362 330.9h2M366 330.9h2M372.5 330.9h2M386 330.9h1M388 330.9h2M391 330.9h1M394.5 330.9h1.5M412.5 330.9h1.5M418 330.9h2M422.5 330.9h3M434.5 330.9h1.5M459 330.9h3M466.5 330.9h1.5M470 330.9h2M475 330.9h2.5M482 330.9h2M503 330.9h2.5M527.5 330.9h1.5M568 330.9h1M577 330.9h2M595.5 330.9h2M628.5 330.9h1.5M633.5 330.9h2M648.5 330.9h2M654 330.9h2M668 330.9h3M688.5 330.9h1.5M713.5 330.9h2M723 330.9h1.5M750 330.9h3.5M754 330.9h2M757 330.9h2M765.5 330.9h2M797.5 330.9h2M810 330.9h1.5M832.5 330.9h1.5M853.5 330.9h2M881.5 330.9h4M893.5 330.9h2M355.5 334.3h2.5M366 334.3h2M422.5 334.3h3M433.5 334.3h1M456 334.3h6M466.5 334.3h3.5M476.5 334.3h3.5M482 334.3h2M505.5 334.3h2M527.5 334.3h3.5M541.5 334.3h2M561 334.3h2M570.5 334.3h1M588 334.3h2M638.5 334.3h3.5M648.5 334.3h2M668 334.3h1M688.5 334.3h1.5M698 334.3h2M723 334.3h1.5M754 334.3h2M757 334.3h2M805.5 334.3h2M827 334.3h3.5M832.5 334.3h1.5M849 334.3h1M853.5 334.3h2M881.5 334.3h5M888.5 334.3h2M893.5 334.3h2M904.5 334.3h2M910 334.3h2M358 337.7h2M372.5 337.7h2M410 337.7h1.5M412.5 337.7h1.5M422.5 337.7h1M475 337.7h9M486 337.7h6M503 337.7h1M526.5 337.7h1M574 337.7h1.5M585.5 337.7h4.5M638.5 337.7h3.5M648.5 337.7h2M668 337.7h3M690 337.7h2M698 337.7h2M713.5 337.7h2M735.5 337.7h2M750 337.7h1.5M754 337.7h2M769 337.7h2M813 337.7h1M817 337.7h3M827 337.7h1.5M832.5 337.7h3.5M846 337.7h2M849 337.7h1M861 337.7h1M883.5 337.7h2M893.5 337.7h2M908.5 337.7h3.5M918.5 337.7h2M533.5 341.1h3M541.5 341.1h2M544.5 341.1h2M560 341.1h2M570.5 341.1h1M574 341.1h5M582 341.1h1M595.5 341.1h2M609.5 341.1h1.5M613 341.1h2M638.5 341.1h3.5M644 341.1h3.5M648.5 341.1h2M669 341.1h2M671.5 341.1h3.5M675.5 341.1h1.5M688.5 341.1h3.5M692.5 341.1h1M698 341.1h2M722 341.1h4M742 341.1h3.5M750 341.1h1.5M754 341.1h2M762.5 341.1h5M792.5 341.1h2M797.5 341.1h2M801 341.1h3.5M805.5 341.1h2M813 341.1h3M821 341.1h2M832.5 341.1h1.5M839 341.1h2M846 341.1h2M859 341.1h1M866.5 341.1h1M877.5 341.1h1.5M881.5 341.1h4M887.5 341.1h1M893.5 341.1h2M904.5 341.1h2M535 344.5h3M563 344.5h1.5M575.5 344.5h3.5M587 344.5h3M595.5 344.5h2M631.5 344.5h4M648.5 344.5h2M654 344.5h2M669 344.5h2M692.5 344.5h1M698 344.5h2M704 344.5h1.5M723 344.5h3M735.5 344.5h2M742 344.5h1.5M754 344.5h2M762.5 344.5h1M765.5 344.5h2M769 344.5h2M784.5 344.5h2M805.5 344.5h2M810 344.5h1.5M827 344.5h1.5M832.5 344.5h3.5M849 344.5h1M852 344.5h1.5M877.5 344.5h1.5M881.5 344.5h4M893.5 344.5h2M901 344.5h3M904.5 344.5h2M908.5 344.5h3.5M355.5 347.9h1M572.5 347.9h6.5M585.5 347.9h2.5M595.5 347.9h2M608 347.9h1.5M619 347.9h2M631.5 347.9h2M648.5 347.9h2M668 347.9h3M698 347.9h2M713.5 347.9h2M722 347.9h2.5M731.5 347.9h2M754 347.9h2M757 347.9h2M759.5 347.9h2M792.5 347.9h2M805.5 347.9h2M810 347.9h1.5M817 347.9h2M827 347.9h3.5M832.5 347.9h3.5M853.5 347.9h2M883.5 347.9h5M908.5 347.9h6.5M362 351.3h2M366 351.3h2M372.5 351.3h2M385 351.3h3M422.5 351.3h3M433.5 351.3h2.5M437.5 351.3h1.5M445.5 351.3h1.5M448 351.3h1.5M462 351.3h1.5M466.5 351.3h1.5M476.5 351.3h1M486 351.3h1.5M492 351.3h7M503 351.3h1M577 351.3h2M631.5 351.3h1M638.5 351.3h3.5M648.5 351.3h2M680 351.3h1.5M690 351.3h2M692.5 351.3h3M698 351.3h2M713.5 351.3h2M723 351.3h4M734.5 351.3h1M750 351.3h3.5M754 351.3h2M757 351.3h2M759.5 351.3h2M765.5 351.3h2M784.5 351.3h2M792.5 351.3h2M797.5 351.3h2M805.5 351.3h2M810 351.3h1.5M813 351.3h1M817 351.3h2M827 351.3h1.5M832.5 351.3h3.5M846 351.3h2M883.5 351.3h3M893.5 351.3h2M910 351.3h2M362 354.7h2M366 354.7h2M372.5 354.7h2M377 354.7h1M385 354.7h5M394.5 354.7h1.5M404.5 354.7h1M415.5 354.7h2M422.5 354.7h1M434.5 354.7h10M456 354.7h1.5M459 354.7h4.5M466.5 354.7h3.5M475 354.7h5M484 354.7h2M497.5 354.7h1.5M503 354.7h1M533.5 354.7h3M588 354.7h2M609.5 354.7h1.5M624.5 354.7h1.5M631.5 354.7h2M635.5 354.7h2M638.5 354.7h3.5M668 354.7h1M671.5 354.7h1.5M690 354.7h2M692.5 354.7h1M722 354.7h2.5M750 354.7h1.5M754 354.7h2M757 354.7h2M759.5 354.7h2M762.5 354.7h5M792.5 354.7h2M797.5 354.7h2M805.5 354.7h2M810 354.7h1.5M813 354.7h3M827 354.7h1.5M832.5 354.7h1.5M849 354.7h3M883.5 354.7h2M910 354.7h2M355 358.1h0.5M370.5 358.1h4M384 358.1h4M412.5 358.1h1.5M422.5 358.1h3M433.5 358.1h7.5M457.5 358.1h3M462 358.1h1.5M466.5 358.1h3.5M475 358.1h2.5M479 358.1h1M482 358.1h2M503 358.1h1M521.5 358.1h2M531.5 358.1h3.5M560 358.1h1M569 358.1h1.5M574 358.1h5M582 358.1h1M588 358.1h2M604 358.1h2M619 358.1h2M630 358.1h1.5M638.5 358.1h3.5M648.5 358.1h2M669 358.1h2M688.5 358.1h1.5M708 358.1h3M713.5 358.1h2M734.5 358.1h1M742 358.1h1.5M750 358.1h3.5M754 358.1h2M757 358.1h2M759.5 358.1h2M762.5 358.1h3M784.5 358.1h2M792.5 358.1h2M797.5 358.1h2M805.5 358.1h2M819 358.1h1M827 358.1h1.5M832.5 358.1h1.5M866.5 358.1h1M883.5 358.1h4M888.5 358.1h2M904.5 358.1h2M908.5 358.1h3.5M355.5 361.5h1M358 361.5h2M362 361.5h2M366 361.5h2M372.5 361.5h2M375 361.5h1M388 361.5h2M412.5 361.5h1.5M422.5 361.5h1M434.5 361.5h1.5M449.5 361.5h3.5M456 361.5h4.5M466.5 361.5h1.5M475 361.5h9M499 361.5h2M570.5 361.5h1M582 361.5h3M587 361.5h3M609.5 361.5h1.5M626 361.5h1M638.5 361.5h3.5M648.5 361.5h2M668 361.5h1M678 361.5h2M688.5 361.5h1.5M750 361.5h1.5M754 361.5h2M757 361.5h2M759.5 361.5h2M763.5 361.5h4M784.5 361.5h2M797.5 361.5h2M813 361.5h3M825.5 361.5h5M832.5 361.5h1.5M846 361.5h2M852 361.5h3.5M857 361.5h1M881.5 361.5h5M893.5 361.5h2M904.5 361.5h2M910 361.5h5M638.5 364.9h3.5M668 364.9h3M671.5 364.9h1.5M688.5 364.9h1.5M698 364.9h2M713.5 364.9h2M722 364.9h1M750 364.9h1.5M754 364.9h2M757 364.9h2M792.5 364.9h2M797.5 364.9h2M819 364.9h1M832.5 364.9h3.5M846 364.9h2M855.5 364.9h1.5M880.5 364.9h6M904.5 364.9h2M355.5 368.2h1M358 368.2h2M366 368.2h2M372.5 368.2h2M385 368.2h1M394.5 368.2h1.5M412.5 368.2h1.5M423.5 368.2h2M434.5 368.2h6.5M445.5 368.2h4M456 368.2h1.5M466.5 368.2h1.5M475 368.2h5M482 368.2h4M496.5 368.2h2.5M526.5 368.2h2.5M536.5 368.2h1.5M558.5 368.2h1.5M566.5 368.2h2.5M577 368.2h2M585.5 368.2h1.5M592 368.2h2M633.5 368.2h2M638.5 368.2h1.5M688.5 368.2h1.5M692.5 368.2h3M883.5 368.2h3M893.5 368.2h2M901 368.2h3M910 368.2h5M372.5 371.6h2M387 371.6h3M412.5 371.6h1.5M422.5 371.6h1M441 371.6h1.5M445.5 371.6h1.5M462 371.6h1.5M466.5 371.6h1.5M475 371.6h5M503 371.6h1M588 371.6h2M881.5 371.6h5M912 371.6h1M355 375h1.5M366 375h2M370.5 375h4M445.5 375h4M456 375h1.5M460.5 375h1.5M465.5 375h4.5M476.5 375h5.5M503 375h4.5M526.5 375h1M560 375h1M570.5 375h1M572.5 375h1.5M588 375h2M619 375h2M632.5 375h1M638.5 375h1.5M668 375h1M688.5 375h1.5M693.5 375h2M698 375h2M723 375h1.5M735.5 375h2M754 375h2M757 375h2M765.5 375h2M797.5 375h2M805.5 375h2M810 375h1.5M813 375h3M817 375h2M832.5 375h1.5M881.5 375h4M893.5 375h2M910 375h2M355.5 378.4h1M362 378.4h2M372.5 378.4h2M375 378.4h1M386 378.4h2M392 378.4h1M394.5 378.4h3.5M423.5 378.4h2M433.5 378.4h4M449.5 378.4h1.5M456 378.4h3M466.5 378.4h1.5M475 378.4h2.5M479 378.4h1M486 378.4h1.5M505.5 378.4h2M533.5 378.4h1.5M568 378.4h1M574 378.4h3M590 378.4h2M613 378.4h2M619 378.4h2M624.5 378.4h1.5M632.5 378.4h1M668 378.4h3M671.5 378.4h1.5M698 378.4h2M723 378.4h3M742 378.4h1.5M754 378.4h2M762.5 378.4h5M797.5 378.4h2M805.5 378.4h2M810 378.4h6M817 378.4h2M825.5 378.4h3M832.5 378.4h1.5M855.5 378.4h2.5M881.5 378.4h5M893.5 378.4h2M904.5 378.4h2M908.5 378.4h3.5M355 381.8h5M366 381.8h2M372.5 381.8h2M387 381.8h1M412.5 381.8h1.5M418 381.8h2M422.5 381.8h1M433.5 381.8h2.5M447 381.8h1M466.5 381.8h5.5M476.5 381.8h3.5M503 381.8h1M527.5 381.8h1.5M568 381.8h1M577 381.8h2M585.5 381.8h4.5M595.5 381.8h2M609.5 381.8h1.5M881.5 381.8h5M893.5 381.8h2M904.5 381.8h2M355 385.2h5M362 385.2h2M366 385.2h2M372.5 385.2h2M385 385.2h5M393 385.2h3M411.5 385.2h6M422.5 385.2h1M432 385.2h4M445.5 385.2h5.5M456 385.2h1.5M462 385.2h1.5M465.5 385.2h4.5M475 385.2h2.5M479 385.2h1M482 385.2h4M487.5 385.2h2M495.5 385.2h1M497.5 385.2h3.5M503 385.2h1M513.5 385.2h2M526.5 385.2h2.5M533.5 385.2h3M558.5 385.2h1.5M562 385.2h1M570.5 385.2h1M585.5 385.2h4.5M595.5 385.2h2M355.5 388.6h1M362 388.6h2M372.5 388.6h2M386 388.6h4M412.5 388.6h1.5M422.5 388.6h1M434.5 388.6h1.5M445.5 388.6h1.5M456 388.6h1.5M460.5 388.6h1.5M475 388.6h1.5M477.5 388.6h2.5M503 388.6h4.5M577 388.6h2M668 388.6h3M677 388.6h3M698 388.6h2M713.5 388.6h2M723 388.6h1.5M731.5 388.6h2M754 388.6h2M759.5 388.6h2M762.5 388.6h5M792.5 388.6h2M797.5 388.6h2M805.5 388.6h2M810 388.6h1.5M813 388.6h1M849 388.6h1M883.5 388.6h2.5M355.5 392h1M362 392h2M372.5 392h2M377 392h1M381 392h2M385 392h1M387 392h1M412.5 392h3M418 392h2M423.5 392h2M433.5 392h2.5M445.5 392h1.5M457.5 392h1.5M465.5 392h2.5M475 392h2.5M505.5 392h2M529 392h2M531.5 392h1M562 392h2.5M575.5 392h3.5M595.5 392h2M613 392h2M630 392h1.5M638.5 392h3.5M648.5 392h2M668 392h3M688.5 392h1.5M698 392h2M754 392h2M757 392h2M763.5 392h2M769 392h2M784.5 392h2M797.5 392h2M805.5 392h2M813 392h1M817 392h3M825.5 392h3M834 392h2M849 392h3M883.5 392h3M893.5 392h2M904.5 392h2M908.5 392h3.5M913 392h2M355.5 395.4h1M358 395.4h2M372.5 395.4h2M398.5 395.4h1M412.5 395.4h5M426.5 395.4h1M434.5 395.4h3M439 395.4h2M447 395.4h6M456 395.4h3M463.5 395.4h2M479 395.4h1M482 395.4h5.5M497.5 395.4h3.5M503 395.4h4.5M510 395.4h2M527.5 395.4h1.5M538 395.4h3.5M561 395.4h1M572.5 395.4h3M577 395.4h2M582 395.4h1M587 395.4h3M631.5 395.4h2M644 395.4h3.5M668 395.4h3M693.5 395.4h2M698 395.4h2M730 395.4h1.5M754 395.4h2M757 395.4h2M765.5 395.4h2M797.5 395.4h2M805.5 395.4h2M810 395.4h1.5M813 395.4h3M832.5 395.4h1.5M855.5 395.4h1.5M881.5 395.4h4M893.5 395.4h2M355.5 398.8h1M372.5 398.8h2M412.5 398.8h1.5M422.5 398.8h1M434.5 398.8h1.5M441 398.8h1.5M445.5 398.8h1.5M475 398.8h4M512 398.8h3.5M527.5 398.8h1.5M560 398.8h2M575.5 398.8h3.5M582 398.8h1M595.5 398.8h2M645.5 398.8h2M688.5 398.8h1.5M698 398.8h2M735.5 398.8h2M750 398.8h1.5M754 398.8h2M757 398.8h2M765.5 398.8h2M784.5 398.8h2M792.5 398.8h2M797.5 398.8h2M805.5 398.8h2M810 398.8h3M814 398.8h2M819 398.8h1M862 398.8h1M881.5 398.8h5M893.5 398.8h2M902 398.8h2M904.5 398.8h2M910 398.8h2M913 398.8h2M362 402.2h2M366 402.2h2M372.5 402.2h2M394.5 402.2h3.5M412.5 402.2h1.5M422.5 402.2h1M433.5 402.2h2.5M437.5 402.2h1.5M445.5 402.2h1.5M466.5 402.2h1.5M476.5 402.2h3.5M503 402.2h1M510 402.2h2M529 402.2h2M533.5 402.2h4.5M570.5 402.2h1M574 402.2h1.5M577 402.2h2M585.5 402.2h4.5M355.5 405.6h4.5M366 405.6h2M386 405.6h2M412.5 405.6h1.5M433.5 405.6h1M441 405.6h3.5M456 405.6h1.5M466.5 405.6h1.5M475 405.6h7M505.5 405.6h2M529 405.6h2M563 405.6h2.5M574 405.6h1.5M595.5 405.6h2M613 405.6h2M648.5 405.6h2M668 405.6h3M688.5 405.6h3.5M692.5 405.6h1M698 405.6h2M722 405.6h2.5M742 405.6h3.5M750 405.6h1.5M754 405.6h2M757 405.6h2M762.5 405.6h1M765.5 405.6h2M792.5 405.6h2M797.5 405.6h2M805.5 405.6h2M817 405.6h2M828.5 405.6h5.5M883.5 405.6h3M893.5 405.6h2M902 405.6h2M904.5 405.6h2M910 405.6h2M913 405.6h2" stroke="#0000ff" stroke-width="2.1" fill="none"/><path d="M355 450.8h568.6v3.4h-568.6zM355 454.2h287v3.4h-287zM689 454.2h234.6v3.4h-234.6zM355 464.4h466.6v3.4h-466.6zM830.3 464.4h93.3v3.4h-93.3zM355 471.2h568.6v3.4h-568.6zM355 474.6h137v3.4h-137zM534 474.6h389.6v3.4h-389.6zM355 478h103v3.4h-103zM534 478h389.6v3.4h-389.6zM355 481.4h71v3.4h-71zM579 481.4h344.6v3.4h-344.6zM355 484.8h568.6v3.4h-568.6zM355 495h342v3.4h-342zM755 495h168.6v3.4h-168.6zM355 505.1h31v3.4h-31zM766.5 505.1h154.5v3.4h-154.5zM818.7 508.5h102.3v3.4h-102.3zM907.6 511.9h13.4v3.4h-13.4z" fill="#d2d2d2"/><path d="M355 444h568.6v3.4h-568.6zM355 447.4h568.6v3.4h-568.6zM355 457.6h431v3.4h-431zM794.5 457.6h129.1v3.4h-129.1zM364.5 461h15.5v3.4h-15.5zM383 461h540.6v3.4h-540.6zM355 467.8h29v3.4h-29zM390.6 467.8h533v3.4h-533zM355 488.2h568.6v3.4h-568.6zM355 491.6h568.6v3.4h-568.6zM355 498.4h373v3.4h-373zM762.6 498.4h161v3.4h-161zM355 501.8h423v3.4h-423zM808 501.8h115.6v3.4h-115.6z" fill="#c9dccf"/><path d="M355 445.7h3M362 445.7h2M366 445.7h2M370.5 445.7h4M375 445.7h5M381 445.7h6M391 445.7h7M398.5 445.7h4M403.5 445.7h6M410 445.7h7.5M418 445.7h2M423.5 445.7h2M426.5 445.7h4M432 445.7h10.5M447 445.7h1M451 445.7h2M512 445.7h1.5M521.5 445.7h2M539 445.7h4.5M624.5 445.7h4M631.5 445.7h4M656.5 445.7h2M673 445.7h2M700.5 445.7h2M749 445.7h2.5M757 445.7h2M759.5 445.7h2M762.5 445.7h5M769 445.7h2M784.5 445.7h2M801 445.7h1.5M817 445.7h2M820 445.7h5M830.5 445.7h3.5M839 445.7h2M844.5 445.7h3.5M849 445.7h1M855.5 445.7h16.5M877.5 445.7h1.5M880.5 445.7h5M886.5 445.7h4M892 445.7h1.5M908.5 445.7h1.5M913 445.7h2M917.5 445.7h3M355 449.1h0.5M356.5 449.1h1.5M366 449.1h2M370.5 449.1h4M375 449.1h5M381 449.1h4M386 449.1h1M391 449.1h7M398.5 449.1h4M403.5 449.1h3M407.5 449.1h2M410 449.1h7.5M422.5 449.1h3M426.5 449.1h4M432 449.1h5.5M441 449.1h3.5M512 449.1h1.5M521.5 449.1h2M539 449.1h4.5M624.5 449.1h2.5M631.5 449.1h4M654 449.1h2M656.5 449.1h2M673 449.1h2M730 449.1h3.5M749 449.1h4.5M757 449.1h2M765.5 449.1h2M769 449.1h2M801 449.1h3.5M810 449.1h6M817 449.1h2M821 449.1h4M825.5 449.1h8.5M844.5 449.1h3.5M849 449.1h3M855.5 449.1h16.5M877.5 449.1h4M883.5 449.1h2M886.5 449.1h2M908.5 449.1h1.5M912 449.1h3M917.5 449.1h1M355 452.5h0.5M356.5 452.5h3.5M362 452.5h2M370.5 452.5h4M375 452.5h5M381 452.5h1M383 452.5h1M386 452.5h1M391 452.5h7M399.5 452.5h3M403.5 452.5h6M410 452.5h7.5M418 452.5h2M423.5 452.5h2M426.5 452.5h4M436 452.5h8.5M449.5 452.5h3.5M512 452.5h1.5M521.5 452.5h2M538 452.5h5.5M624.5 452.5h2.5M631.5 452.5h4M656.5 452.5h2M743.5 452.5h2M749 452.5h2.5M757 452.5h2M762.5 452.5h1M765.5 452.5h2M769 452.5h2M784.5 452.5h2M801 452.5h1.5M821 452.5h4M825.5 452.5h8.5M839 452.5h2M844.5 452.5h3.5M849 452.5h3M853.5 452.5h11M865.5 452.5h6.5M877.5 452.5h8M886.5 452.5h2M892 452.5h1.5M910 452.5h5M355 455.9h5M362 455.9h2M366 455.9h2M370.5 455.9h4M375 455.9h5M381 455.9h6M391 455.9h7M398.5 455.9h4M403.5 455.9h6M410 455.9h7.5M418 455.9h2M422.5 455.9h3M426.5 455.9h4M432 455.9h2.5M439 455.9h5.5M445.5 455.9h2.5M449.5 455.9h3.5M494.5 455.9h2M497.5 455.9h1.5M510 455.9h5.5M521.5 455.9h2M538 455.9h5.5M624.5 455.9h2.5M631.5 455.9h4M700.5 455.9h2M705.5 455.9h2M742 455.9h1.5M747 455.9h6.5M757 455.9h2M759.5 455.9h2M765.5 455.9h2M769 455.9h2M801 455.9h3.5M813 455.9h1M819 455.9h6M825.5 455.9h1.5M828.5 455.9h7.5M839 455.9h2M844.5 455.9h3.5M849 455.9h3M855.5 455.9h16.5M877.5 455.9h4M883.5 455.9h2M887.5 455.9h1M892 455.9h1.5M901 455.9h3M908.5 455.9h1.5M912 455.9h3M917.5 455.9h3M355 459.3h3M362 459.3h2M372.5 459.3h2M375 459.3h5M381 459.3h7M391 459.3h3.5M396 459.3h2M398.5 459.3h4M403.5 459.3h6M410 459.3h2.5M415.5 459.3h2M418 459.3h2M422.5 459.3h3M426.5 459.3h2M432 459.3h2.5M436 459.3h8.5M447 459.3h1M451 459.3h2M512 459.3h1.5M521.5 459.3h2M539 459.3h1M541.5 459.3h2M624.5 459.3h2.5M631.5 459.3h4M654 459.3h2M656.5 459.3h2M673 459.3h2M719.5 459.3h1M742 459.3h3.5M747 459.3h4.5M757 459.3h2M759.5 459.3h2M762.5 459.3h1M765.5 459.3h2M784.5 459.3h1.5M801 459.3h3.5M817 459.3h2M823 459.3h2M825.5 459.3h10.5M839 459.3h2M844.5 459.3h3.5M849 459.3h4.5M855.5 459.3h16.5M877.5 459.3h4M886.5 459.3h4M892 459.3h3.5M901 459.3h3M908.5 459.3h1.5M917.5 459.3h3M370.5 462.7h4M375 462.7h5M383 462.7h4M391 462.7h7M399.5 462.7h3M403.5 462.7h6M410 462.7h7.5M418 462.7h2M422.5 462.7h3M426.5 462.7h4M432 462.7h2.5M437.5 462.7h1.5M441 462.7h3.5M447 462.7h1M512 462.7h3.5M521.5 462.7h2M539 462.7h4.5M570.5 462.7h1M624.5 462.7h2.5M632.5 462.7h3M656.5 462.7h2M742 462.7h1.5M747 462.7h4.5M757 462.7h2M769 462.7h2M801 462.7h3.5M810 462.7h1.5M817 462.7h2M820 462.7h1M823 462.7h2M825.5 462.7h1.5M830.5 462.7h5.5M839 462.7h2M844.5 462.7h3.5M849 462.7h1M855.5 462.7h16.5M877.5 462.7h4M887.5 462.7h3M901 462.7h1M908.5 462.7h3.5M917.5 462.7h3M355 466.1h3M362 466.1h2M366 466.1h2M370.5 466.1h4M375 466.1h5M381 466.1h4M391 466.1h7M398.5 466.1h4M403.5 466.1h6M410 466.1h7.5M418 466.1h2M422.5 466.1h3M426.5 466.1h4M432 466.1h7M441 466.1h3.5M447 466.1h6M510 466.1h3.5M521.5 466.1h2M538 466.1h5.5M631.5 466.1h4M654 466.1h2M656.5 466.1h2M673 466.1h2M747 466.1h4.5M757 466.1h2M759.5 466.1h2M762.5 466.1h1M765.5 466.1h2M769 466.1h2M784.5 466.1h2M801 466.1h1.5M819 466.1h2.6M830.5 466.1h2M839 466.1h2M844.5 466.1h3.5M849 466.1h3M855.5 466.1h16.5M877.5 466.1h8M886.5 466.1h4M892 466.1h1.5M901 466.1h3M908.5 466.1h1.5M912 466.1h3M917.5 466.1h3M355 469.5h0.5M362 469.5h2M372.5 469.5h2M375 469.5h5M381 469.5h1M383 469.5h1M391 469.5h5M398.5 469.5h4M403.5 469.5h6M410 469.5h5.5M418 469.5h2M423.5 469.5h2M426.5 469.5h1M428.5 469.5h2M432 469.5h5.5M441 469.5h3.5M449.5 469.5h3.5M521.5 469.5h2M538 469.5h5.5M624.5 469.5h2.5M631.5 469.5h4M656.5 469.5h2M673 469.5h2M681.5 469.5h1.5M749 469.5h4.5M757 469.5h2M769 469.5h2M784.5 469.5h2M802.5 469.5h2M819 469.5h1M823 469.5h2M825.5 469.5h3M830.5 469.5h2M839 469.5h2M844.5 469.5h3.5M849 469.5h3M853.5 469.5h5.5M861 469.5h11M877.5 469.5h8M887.5 469.5h1M892 469.5h1.5M901 469.5h3M917.5 469.5h3M355 472.9h0.5M362 472.9h2M366 472.9h2M370.5 472.9h4M375 472.9h5M381 472.9h2M391 472.9h3.5M398.5 472.9h1M400.5 472.9h2M403.5 472.9h6M410 472.9h1.5M412.5 472.9h5M423.5 472.9h2M426.5 472.9h4M432 472.9h2.5M436 472.9h8.5M447 472.9h6M512 472.9h3.5M521.5 472.9h2M538 472.9h1M540 472.9h3.5M624.5 472.9h2.5M631.5 472.9h1M656.5 472.9h2M671.5 472.9h3.5M719.5 472.9h3.5M747 472.9h4.5M757 472.9h2M759.5 472.9h2M763.5 472.9h4M769 472.9h2M801 472.9h3.5M813 472.9h1M817 472.9h2M820 472.9h5M825.5 472.9h7M839 472.9h2M844.5 472.9h3.5M849 472.9h3M855.5 472.9h16.5M877.5 472.9h4M886.5 472.9h4M892 472.9h1.5M901 472.9h3M908.5 472.9h4.5M917.5 472.9h3M355 476.3h0.5M356.5 476.3h1.5M362 476.3h2M366 476.3h2M370.5 476.3h4M375 476.3h5M381 476.3h7M391 476.3h3.5M396 476.3h2M398.5 476.3h4M403.5 476.3h6M410 476.3h7.5M418 476.3h2M423.5 476.3h2M426.5 476.3h4M432 476.3h1.5M436 476.3h3M441 476.3h3.5M448 476.3h5M539 476.3h4.5M624.5 476.3h2.5M632.5 476.3h3M656.5 476.3h2M705.5 476.3h2M722 476.3h1M747 476.3h6.5M757 476.3h2M765.5 476.3h2M769 476.3h2M801 476.3h1.5M817 476.3h8M825.5 476.3h1.5M828.5 476.3h5.5M844.5 476.3h3.5M849 476.3h4.5M855.5 476.3h16.5M877.5 476.3h8M886.5 476.3h4M892 476.3h3.5M912 476.3h3M917.5 476.3h3M355 479.7h3M362 479.7h2M370.5 479.7h4M377 479.7h3M381 479.7h6M391 479.7h7M398.5 479.7h4M403.5 479.7h6M410 479.7h7.5M418 479.7h2M423.5 479.7h2M426.5 479.7h4M432 479.7h7M441 479.7h3.5M447 479.7h6M538 479.7h5.5M571.5 479.7h1M624.5 479.7h4M631.5 479.7h4M656.5 479.7h2M724.5 479.7h1.5M742 479.7h3.5M747 479.7h3M757 479.7h2M762.5 479.7h5M769 479.7h2M784.5 479.7h2M801 479.7h3.5M813 479.7h3M817 479.7h8M825.5 479.7h10.5M839 479.7h2M844.5 479.7h3.5M850 479.7h2M855.5 479.7h16.5M877.5 479.7h8M886.5 479.7h4M901 479.7h1M910 479.7h5M917.5 479.7h3M356.5 483.1h1.5M362 483.1h2M366 483.1h2M370.5 483.1h4M375 483.1h5M381 483.1h6M391 483.1h7M399.5 483.1h3M403.5 483.1h6M410 483.1h7.5M423.5 483.1h2M624.5 483.1h4M631.5 483.1h4M656.5 483.1h2M673 483.1h2M680 483.1h1.5M719.5 483.1h5M747 483.1h4.5M757 483.1h2M759.5 483.1h2M769 483.1h2M784.5 483.1h2M801 483.1h1.5M817 483.1h2M823 483.1h2M830.5 483.1h3.5M839 483.1h2M844.5 483.1h1.5M849 483.1h23M877.5 483.1h8M886.5 483.1h2M892 483.1h3.5M901 483.1h3M908.5 483.1h6.5M917.5 483.1h3M355 486.5h0.5M362 486.5h2M370.5 486.5h4M375 486.5h5M381 486.5h6M391 486.5h7M398.5 486.5h4M403.5 486.5h6M410 486.5h7.5M418 486.5h2M423.5 486.5h2M426.5 486.5h4M432 486.5h2.5M436 486.5h3M441 486.5h3.5M447 486.5h1M449.5 486.5h3.5M512 486.5h3.5M521.5 486.5h2M538 486.5h5.5M572.5 486.5h1.5M624.5 486.5h4M632.5 486.5h3M656.5 486.5h2M723 486.5h3M742 486.5h3.5M747 486.5h4.5M757 486.5h2M765.5 486.5h2M769 486.5h2M784.5 486.5h2M801 486.5h3.5M817 486.5h2M821 486.5h4M825.5 486.5h3M830.5 486.5h3.5M839 486.5h2M844.5 486.5h3.5M850 486.5h3.5M855.5 486.5h16.5M877.5 486.5h6M887.5 486.5h1M892 486.5h1.5M901 486.5h3M904.5 486.5h2M913 486.5h2M917.5 486.5h3M355.5 489.9h4.5M362 489.9h2M366 489.9h2M370.5 489.9h4M375 489.9h5M381 489.9h6M391 489.9h3.5M396 489.9h2M398.5 489.9h4M403.5 489.9h4M410 489.9h5.5M422.5 489.9h3M426.5 489.9h4M432 489.9h7M441 489.9h3.5M447 489.9h1M449.5 489.9h3.5M512 489.9h3.5M538 489.9h5.5M624.5 489.9h2.5M631.5 489.9h4M656.5 489.9h2M673 489.9h2M681.5 489.9h1.5M722 489.9h1M749 489.9h4.5M757 489.9h2M765.5 489.9h2M769 489.9h2M784.5 489.9h2M801 489.9h1.5M813 489.9h3M817 489.9h8M825.5 489.9h1.5M830.5 489.9h5.5M839 489.9h2M844.5 489.9h3.5M850 489.9h2M853.5 489.9h13M867.5 489.9h4.5M877.5 489.9h6M886.5 489.9h4M902 489.9h2M912 489.9h3M917.5 489.9h3M356.5 493.3h3.5M362 493.3h2M370.5 493.3h4M375 493.3h5M381 493.3h6M391 493.3h3.5M396 493.3h2M398.5 493.3h4M403.5 493.3h1M405.5 493.3h4M410 493.3h7.5M423.5 493.3h2M426.5 493.3h4M432 493.3h2.5M439 493.3h5.5M451 493.3h2M521.5 493.3h2M539 493.3h4.5M624.5 493.3h2.5M631.5 493.3h4M656.5 493.3h2M680 493.3h1.5M719.5 493.3h2.5M749 493.3h2.5M757 493.3h2M765.5 493.3h2M769 493.3h2M784.5 493.3h2M802.5 493.3h2M817 493.3h2M821 493.3h2M825.5 493.3h1.5M830.5 493.3h3.5M839 493.3h2M844.5 493.3h1.5M849 493.3h4.5M855.5 493.3h16.5M877.5 493.3h8M887.5 493.3h3M892 493.3h3.5M902 493.3h2M908.5 493.3h4.5M917.5 493.3h3M356.5 496.7h3.5M362 496.7h2M366 496.7h2M370.5 496.7h4M375 496.7h5M381 496.7h4M386 496.7h1M391 496.7h7M398.5 496.7h4M403.5 496.7h6M411.5 496.7h6M418 496.7h2M423.5 496.7h2M426.5 496.7h4M432 496.7h2.5M441 496.7h3.5M447 496.7h1M451 496.7h2M492 496.7h1M512 496.7h1.5M521.5 496.7h2M539 496.7h4.5M624.5 496.7h4M631.5 496.7h4M656.5 496.7h2M673 496.7h2M757 496.7h2M765.5 496.7h2M769 496.7h2M784.5 496.7h2M811.5 496.7h1.5M817 496.7h2M820 496.7h5M825.5 496.7h8.5M839 496.7h2M844.5 496.7h1.5M849 496.7h4.5M857 496.7h12M870 496.7h2M877.5 496.7h3M881.5 496.7h4M886.5 496.7h4M892 496.7h1.5M901 496.7h3M908.5 496.7h4.5M917.5 496.7h3M355 500.1h5M362 500.1h2M370.5 500.1h4M375 500.1h5M381 500.1h9M391 500.1h7M398.5 500.1h4M403.5 500.1h6M410 500.1h7.5M418 500.1h2M422.5 500.1h3M426.5 500.1h4M432 500.1h2.5M437.5 500.1h7M445.5 500.1h4M451 500.1h2M497.5 500.1h1.5M512 500.1h3.5M521.5 500.1h2M531.5 500.1h1M538 500.1h5.5M624.5 500.1h5.5M632.5 500.1h3M656.5 500.1h2M692.5 500.1h1M719.5 500.1h2.5M762.6 500.1h4.9M769 500.1h2M784.5 500.1h2M801 500.1h3.5M811.5 500.1h4.5M817 500.1h8M825.5 500.1h1.5M828.5 500.1h4M839 500.1h2M844.5 500.1h3.5M849 500.1h4.5M855.5 500.1h16.5M877.5 500.1h4M883.5 500.1h2M886.5 500.1h2M892 500.1h3.5M901 500.1h3M908.5 500.1h4.5M917.5 500.1h3M355 503.4h5M362 503.4h2M366 503.4h2M370.5 503.4h4M375 503.4h5M381 503.4h3M385 503.4h2M391 503.4h7M398.5 503.4h4M403.5 503.4h6M410 503.4h7.5M418 503.4h2M422.5 503.4h3M426.5 503.4h4M432 503.4h2.5M436 503.4h3M441 503.4h3.5M447 503.4h6M475 503.4h1.5M497.5 503.4h1.5M510 503.4h3.5M521.5 503.4h2M526.5 503.4h2.5M539 503.4h4.5M570.5 503.4h1M590 503.4h2M613 503.4h2M626 503.4h2.5M631.5 503.4h4M656.5 503.4h2M673 503.4h2M719.5 503.4h1M747 503.4h6.5M757 503.4h2M762.5 503.4h5M769 503.4h2M811.5 503.4h2.5M817 503.4h2M820 503.4h1M823 503.4h2M825.5 503.4h1.5M830.5 503.4h5.5M839 503.4h2M844.5 503.4h1.5M849 503.4h4.5M855.5 503.4h16.5M877.5 503.4h8M887.5 503.4h3M892 503.4h1.5M902 503.4h2M908.5 503.4h4.5M917.5 503.4h3M355 506.8h5M362 506.8h2M366 506.8h2M370.5 506.8h4M375 506.8h5M381 506.8h5M766.5 506.8h1M769 506.8h2M813 506.8h1M817 506.8h2M820 506.8h5M825.5 506.8h1.5M828.5 506.8h5.5M839 506.8h2M844.5 506.8h3.5M849 506.8h1M855.5 506.8h16.5M877.5 506.8h8M886.5 506.8h2M892 506.8h3.5M904.5 506.8h2M908.5 506.8h3.5M917.5 506.8h3M820 510.2h1M823 510.2h2M830.5 510.2h3.5M839 510.2h2M844.5 510.2h3.5M850 510.2h15.5M866.5 510.2h5.5M877.5 510.2h6M887.5 510.2h3M892 510.2h1.5M902 510.2h2M904.5 510.2h2M913 510.2h2M917.5 510.2h3M908.5 513.6h6.5M917.5 513.6h3" stroke="#ff0000" stroke-width="2.1" fill="none"/><path d="M358 445.7h2M387 445.7h3M422.5 445.7h1M442.5 445.7h2M445.5 445.7h1.5M448 445.7h3M456 445.7h16M475 445.7h26M503 445.7h4.5M508 445.7h4M513.5 445.7h2M523.5 445.7h2M526.5 445.7h4.5M531.5 445.7h7.5M544.5 445.7h2M553 445.7h2M558.5 445.7h20.5M582 445.7h3M585.5 445.7h8.5M595.5 445.7h2M604 445.7h11M619 445.7h2M628.5 445.7h3M635.5 445.7h2M638.5 445.7h3.5M644 445.7h3.5M648.5 445.7h2M654 445.7h2M668 445.7h3M671.5 445.7h1.5M675.5 445.7h16.5M692.5 445.7h3M698 445.7h2M702.5 445.7h5M708 445.7h3M713.5 445.7h2M719.5 445.7h14M734.5 445.7h3M742 445.7h3.5M747 445.7h2M751.5 445.7h2M754 445.7h2M792.5 445.7h2M797.5 445.7h2M802.5 445.7h2M805.5 445.7h2M810 445.7h6M819 445.7h1M825.5 445.7h5M834 445.7h2M850 445.7h5.5M879 445.7h1.5M885.5 445.7h1M893.5 445.7h2M901 445.7h3M904.5 445.7h2M910 445.7h3M355.5 449.1h1M358 449.1h2M362 449.1h2M385 449.1h1M387 449.1h3M406.5 449.1h1M418 449.1h2M437.5 449.1h3.5M445.5 449.1h7.5M456 449.1h16M475 449.1h26M503 449.1h4.5M508 449.1h4M513.5 449.1h2M523.5 449.1h2M526.5 449.1h4.5M531.5 449.1h7.5M544.5 449.1h2M553 449.1h2M558.5 449.1h20.5M582 449.1h3M585.5 449.1h8.5M595.5 449.1h2M604 449.1h11M619 449.1h2M627 449.1h4.5M635.5 449.1h2M638.5 449.1h3.5M644 449.1h3.5M648.5 449.1h2M668 449.1h3M671.5 449.1h1.5M675.5 449.1h16.5M692.5 449.1h3M698 449.1h2M700.5 449.1h7M708 449.1h3M713.5 449.1h2M719.5 449.1h10.5M734.5 449.1h3M742 449.1h3.5M747 449.1h2M754 449.1h2M759.5 449.1h2M762.5 449.1h3M784.5 449.1h2M792.5 449.1h2M797.5 449.1h2M805.5 449.1h2M819 449.1h2M834 449.1h2M839 449.1h2M852 449.1h3.5M881.5 449.1h2M885.5 449.1h1M888.5 449.1h2M892 449.1h3.5M901 449.1h3M904.5 449.1h2M910 449.1h2M918.5 449.1h2M355.5 452.5h1M366 452.5h2M382 452.5h1M384 452.5h2M387 452.5h3M398.5 452.5h1M422.5 452.5h1M432 452.5h4M445.5 452.5h4M456 452.5h16M475 452.5h26M503 452.5h4.5M508 452.5h4M513.5 452.5h2M523.5 452.5h2M526.5 452.5h4.5M531.5 452.5h6.5M544.5 452.5h2M553 452.5h2M558.5 452.5h20.5M582 452.5h3M585.5 452.5h8.5M595.5 452.5h2M604 452.5h11M619 452.5h2M627 452.5h4.5M635.5 452.5h2M638.5 452.5h3.5M644 452.5h3.5M648.5 452.5h2M654 452.5h2M668 452.5h3M671.5 452.5h3.5M675.5 452.5h16.5M692.5 452.5h3M698 452.5h2M700.5 452.5h7M708 452.5h3M713.5 452.5h2M719.5 452.5h14M734.5 452.5h3M742 452.5h1.5M747 452.5h2M751.5 452.5h2M754 452.5h2M759.5 452.5h2M763.5 452.5h2M792.5 452.5h2M797.5 452.5h2M802.5 452.5h2M805.5 452.5h2M810 452.5h6M817 452.5h4M834 452.5h2M852 452.5h1.5M864.5 452.5h1M885.5 452.5h1M888.5 452.5h2M893.5 452.5h2M901 452.5h3M904.5 452.5h2M908.5 452.5h1.5M917.5 452.5h3M387 455.9h3M434.5 455.9h4.5M448 455.9h1.5M456 455.9h16M475 455.9h19.5M496.5 455.9h1M499 455.9h2M503 455.9h4.5M508 455.9h2M523.5 455.9h2M526.5 455.9h4.5M531.5 455.9h6.5M544.5 455.9h2M553 455.9h2M558.5 455.9h20.5M582 455.9h3M585.5 455.9h8.5M595.5 455.9h2M604 455.9h11M619 455.9h2M627 455.9h4.5M635.5 455.9h2M638.5 455.9h3.5M689 455.9h3M692.5 455.9h3M698 455.9h2M702.5 455.9h3M708 455.9h3M713.5 455.9h2M719.5 455.9h14M734.5 455.9h3M743.5 455.9h2M754 455.9h2M762.5 455.9h3M784.5 455.9h2M792.5 455.9h2M797.5 455.9h2M805.5 455.9h2M810 455.9h3M814 455.9h2M817 455.9h2M827 455.9h1.5M852 455.9h3.5M881.5 455.9h2M885.5 455.9h2M888.5 455.9h2M893.5 455.9h2M904.5 455.9h2M910 455.9h2M358 459.3h2M366 459.3h2M370.5 459.3h2M388 459.3h2M394.5 459.3h1.5M412.5 459.3h3M428.5 459.3h2M434.5 459.3h1.5M445.5 459.3h1.5M448 459.3h3M456 459.3h16M475 459.3h26M503 459.3h4.5M508 459.3h4M513.5 459.3h2M523.5 459.3h2M526.5 459.3h4.5M531.5 459.3h7.5M540 459.3h1.5M544.5 459.3h2M553 459.3h2M558.5 459.3h20.5M582 459.3h3M585.5 459.3h8.5M595.5 459.3h2M604 459.3h11M619 459.3h2M627 459.3h4.5M635.5 459.3h2M638.5 459.3h3.5M644 459.3h3.5M648.5 459.3h2M668 459.3h3M671.5 459.3h1.5M675.5 459.3h16.5M692.5 459.3h3M698 459.3h2M700.5 459.3h7M708 459.3h3M713.5 459.3h2M720.5 459.3h13M734.5 459.3h3M751.5 459.3h2M754 459.3h2M763.5 459.3h2M769 459.3h2M797.5 459.3h2M805.5 459.3h2M810 459.3h6M819 459.3h4M853.5 459.3h2M881.5 459.3h5M904.5 459.3h2M910 459.3h5M366 462.7h2M387 462.7h3M398.5 462.7h1M434.5 462.7h3M439 462.7h2M445.5 462.7h1.5M448 462.7h5M456 462.7h16M475 462.7h26M503 462.7h4.5M508 462.7h4M523.5 462.7h2M526.5 462.7h4.5M531.5 462.7h7.5M544.5 462.7h2M553 462.7h2M558.5 462.7h12M571.5 462.7h7.5M582 462.7h3M585.5 462.7h8.5M595.5 462.7h2M604 462.7h11M619 462.7h2M627 462.7h5.5M635.5 462.7h2M638.5 462.7h3.5M644 462.7h3.5M648.5 462.7h2M654 462.7h2M668 462.7h3M671.5 462.7h3.5M675.5 462.7h16.5M692.5 462.7h3M698 462.7h2M700.5 462.7h7M708 462.7h3M713.5 462.7h2M719.5 462.7h14M734.5 462.7h3M743.5 462.7h2M751.5 462.7h2M754 462.7h2M759.5 462.7h2M762.5 462.7h5M784.5 462.7h2M792.5 462.7h2M797.5 462.7h2M805.5 462.7h2M811.5 462.7h4.5M819 462.7h1M821 462.7h2M827 462.7h3.5M850 462.7h5.5M881.5 462.7h6M892 462.7h3.5M902 462.7h2M904.5 462.7h2M912 462.7h3M358 466.1h2M385 466.1h5M439 466.1h2M445.5 466.1h1.5M456 466.1h16M475 466.1h26M503 466.1h4.5M508 466.1h2M513.5 466.1h2M523.5 466.1h2M526.5 466.1h4.5M531.5 466.1h6.5M544.5 466.1h2M553 466.1h2M558.5 466.1h20.5M582 466.1h3M585.5 466.1h8.5M595.5 466.1h2M604 466.1h11M619 466.1h2M624.5 466.1h7M635.5 466.1h2M638.5 466.1h3.5M644 466.1h3.5M648.5 466.1h2M668 466.1h3M671.5 466.1h1.5M675.5 466.1h16.5M692.5 466.1h3M698 466.1h2M700.5 466.1h7M708 466.1h3M713.5 466.1h2M719.5 466.1h14M734.5 466.1h3M742 466.1h3.5M751.5 466.1h2M754 466.1h2M763.5 466.1h2M792.5 466.1h2M797.5 466.1h2M802.5 466.1h2M805.5 466.1h2M810 466.1h6M817 466.1h2M832.5 466.1h3.5M852 466.1h3.5M885.5 466.1h1M893.5 466.1h2M904.5 466.1h2M910 466.1h2M355.5 469.5h4.5M366 469.5h2M370.5 469.5h2M382 469.5h1M396 469.5h2M415.5 469.5h2M422.5 469.5h1M427.5 469.5h1M437.5 469.5h3.5M445.5 469.5h4M456 469.5h16M475 469.5h26M503 469.5h4.5M508 469.5h7.5M523.5 469.5h2M526.5 469.5h4.5M531.5 469.5h6.5M544.5 469.5h2M553 469.5h2M558.5 469.5h20.5M582 469.5h3M585.5 469.5h8.5M595.5 469.5h2M604 469.5h11M619 469.5h2M627 469.5h4.5M635.5 469.5h2M638.5 469.5h3.5M644 469.5h3.5M648.5 469.5h2M654 469.5h2M668 469.5h3M671.5 469.5h1.5M675.5 469.5h6M683 469.5h9M692.5 469.5h3M698 469.5h2M700.5 469.5h7M708 469.5h3M713.5 469.5h2M719.5 469.5h14M734.5 469.5h3M742 469.5h3.5M747 469.5h2M754 469.5h2M759.5 469.5h2M762.5 469.5h5M792.5 469.5h2M797.5 469.5h2M801 469.5h1.5M805.5 469.5h2M810 469.5h6M817 469.5h2M820 469.5h3M828.5 469.5h2M832.5 469.5h3.5M852 469.5h1.5M859 469.5h2M885.5 469.5h2M888.5 469.5h2M893.5 469.5h2M904.5 469.5h2M908.5 469.5h6.5M355.5 472.9h4.5M383 472.9h7M394.5 472.9h3.5M399.5 472.9h1M411.5 472.9h1M418 472.9h2M422.5 472.9h1M434.5 472.9h1.5M445.5 472.9h1.5M456 472.9h16M475 472.9h26M503 472.9h4.5M508 472.9h4M523.5 472.9h2M526.5 472.9h4.5M531.5 472.9h6.5M539 472.9h1M544.5 472.9h2M553 472.9h2M558.5 472.9h20.5M582 472.9h3M585.5 472.9h8.5M595.5 472.9h2M604 472.9h11M619 472.9h2M627 472.9h4.5M632.5 472.9h5M638.5 472.9h3.5M644 472.9h3.5M648.5 472.9h2M654 472.9h2M668 472.9h3M675.5 472.9h16.5M692.5 472.9h3M698 472.9h2M700.5 472.9h7M708 472.9h3M713.5 472.9h2M723 472.9h10.5M734.5 472.9h3M742 472.9h3.5M751.5 472.9h2M754 472.9h2M762.5 472.9h1M784.5 472.9h2M792.5 472.9h2M797.5 472.9h2M805.5 472.9h2M810 472.9h3M814 472.9h2M819 472.9h1M832.5 472.9h3.5M852 472.9h3.5M881.5 472.9h5M893.5 472.9h2M904.5 472.9h2M913 472.9h2M355.5 476.3h1M358 476.3h2M388 476.3h2M394.5 476.3h1.5M422.5 476.3h1M433.5 476.3h2.5M439 476.3h2M445.5 476.3h2.5M456 476.3h16M475 476.3h17M534 476.3h5M544.5 476.3h2M553 476.3h2M558.5 476.3h20.5M582 476.3h3M585.5 476.3h8.5M595.5 476.3h2M604 476.3h11M619 476.3h2M627 476.3h5.5M635.5 476.3h2M638.5 476.3h3.5M644 476.3h3.5M648.5 476.3h2M654 476.3h2M668 476.3h3M671.5 476.3h3.5M675.5 476.3h16.5M692.5 476.3h3M698 476.3h2M700.5 476.3h5M708 476.3h3M713.5 476.3h2M719.5 476.3h2.5M723 476.3h10.5M734.5 476.3h3M742 476.3h3.5M754 476.3h2M759.5 476.3h2M762.5 476.3h3M784.5 476.3h2M792.5 476.3h2M797.5 476.3h2M802.5 476.3h2M805.5 476.3h2M810 476.3h6M827 476.3h1.5M834 476.3h2M839 476.3h2M853.5 476.3h2M885.5 476.3h1M901 476.3h3M904.5 476.3h2M908.5 476.3h3.5M358 479.7h2M366 479.7h2M375 479.7h2M387 479.7h3M422.5 479.7h1M439 479.7h2M445.5 479.7h1.5M456 479.7h2M534 479.7h4M544.5 479.7h2M553 479.7h2M558.5 479.7h13M572.5 479.7h6.5M582 479.7h3M585.5 479.7h8.5M595.5 479.7h2M604 479.7h11M619 479.7h2M628.5 479.7h3M635.5 479.7h2M638.5 479.7h3.5M644 479.7h3.5M648.5 479.7h2M654 479.7h2M668 479.7h3M671.5 479.7h3.5M675.5 479.7h16.5M692.5 479.7h3M698 479.7h2M700.5 479.7h7M708 479.7h3M713.5 479.7h2M719.5 479.7h5M726 479.7h7.5M734.5 479.7h3M750 479.7h3.5M754 479.7h2M759.5 479.7h2M792.5 479.7h2M797.5 479.7h2M805.5 479.7h2M810 479.7h3M849 479.7h1M852 479.7h3.5M885.5 479.7h1M892 479.7h3.5M902 479.7h2M904.5 479.7h2M908.5 479.7h1.5M355 483.1h1.5M358 483.1h2M387 483.1h3M398.5 483.1h1M418 483.1h2M422.5 483.1h1M582 483.1h3M585.5 483.1h8.5M595.5 483.1h2M604 483.1h11M619 483.1h2M628.5 483.1h3M635.5 483.1h2M638.5 483.1h3.5M644 483.1h3.5M648.5 483.1h2M654 483.1h2M668 483.1h3M671.5 483.1h1.5M675.5 483.1h4.5M681.5 483.1h10.5M692.5 483.1h3M698 483.1h2M700.5 483.1h7M708 483.1h3M713.5 483.1h2M724.5 483.1h9M734.5 483.1h3M742 483.1h3.5M751.5 483.1h2M754 483.1h2M762.5 483.1h5M792.5 483.1h2M797.5 483.1h2M802.5 483.1h2M805.5 483.1h2M810 483.1h6M819 483.1h4M825.5 483.1h5M834 483.1h2M846 483.1h2M885.5 483.1h1M888.5 483.1h2M904.5 483.1h2M355.5 486.5h4.5M366 486.5h2M387 486.5h3M422.5 486.5h1M434.5 486.5h1.5M439 486.5h2M445.5 486.5h1.5M448 486.5h1.5M456 486.5h16M475 486.5h26M503 486.5h4.5M508 486.5h4M523.5 486.5h2M526.5 486.5h4.5M531.5 486.5h6.5M544.5 486.5h2M553 486.5h2M558.5 486.5h14M574 486.5h5M582 486.5h3M585.5 486.5h8.5M595.5 486.5h2M604 486.5h11M619 486.5h2M628.5 486.5h4M635.5 486.5h2M638.5 486.5h3.5M644 486.5h3.5M648.5 486.5h2M654 486.5h2M668 486.5h3M671.5 486.5h3.5M675.5 486.5h16.5M692.5 486.5h3M698 486.5h2M700.5 486.5h7M708 486.5h3M713.5 486.5h2M719.5 486.5h3.5M726 486.5h7.5M734.5 486.5h3M751.5 486.5h2M754 486.5h2M759.5 486.5h2M762.5 486.5h3M792.5 486.5h2M797.5 486.5h2M805.5 486.5h2M810 486.5h6M819 486.5h2M828.5 486.5h2M834 486.5h2M849 486.5h1M853.5 486.5h2M883.5 486.5h4M888.5 486.5h2M893.5 486.5h2M908.5 486.5h4.5M355 489.9h0.5M387 489.9h3M394.5 489.9h1.5M407.5 489.9h2M415.5 489.9h2M418 489.9h2M439 489.9h2M445.5 489.9h1.5M448 489.9h1.5M456 489.9h16M475 489.9h26M503 489.9h4.5M508 489.9h4M521.5 489.9h4M526.5 489.9h4.5M531.5 489.9h6.5M544.5 489.9h2M553 489.9h2M558.5 489.9h20.5M582 489.9h3M585.5 489.9h8.5M595.5 489.9h2M604 489.9h11M619 489.9h2M627 489.9h4.5M635.5 489.9h2M638.5 489.9h3.5M644 489.9h3.5M648.5 489.9h2M654 489.9h2M668 489.9h3M671.5 489.9h1.5M675.5 489.9h6M683 489.9h9M692.5 489.9h3M698 489.9h2M700.5 489.9h7M708 489.9h3M713.5 489.9h2M719.5 489.9h2.5M723 489.9h10.5M734.5 489.9h3M742 489.9h3.5M747 489.9h2M754 489.9h2M759.5 489.9h2M762.5 489.9h3M792.5 489.9h2M797.5 489.9h2M802.5 489.9h2M805.5 489.9h2M810 489.9h3M827 489.9h3.5M849 489.9h1M852 489.9h1.5M866.5 489.9h1M883.5 489.9h3M892 489.9h3.5M901 489.9h1M904.5 489.9h2M908.5 489.9h3.5M355 493.3h1.5M366 493.3h2M387 493.3h3M394.5 493.3h1.5M404.5 493.3h1M418 493.3h2M422.5 493.3h1M434.5 493.3h4.5M445.5 493.3h5.5M456 493.3h16M475 493.3h26M503 493.3h4.5M508 493.3h7.5M523.5 493.3h2M526.5 493.3h4.5M531.5 493.3h7.5M544.5 493.3h2M553 493.3h2M558.5 493.3h20.5M582 493.3h3M585.5 493.3h8.5M595.5 493.3h2M604 493.3h11M619 493.3h2M627 493.3h4.5M635.5 493.3h2M638.5 493.3h3.5M644 493.3h3.5M648.5 493.3h2M654 493.3h2M668 493.3h3M671.5 493.3h3.5M675.5 493.3h4.5M681.5 493.3h10.5M692.5 493.3h3M698 493.3h2M700.5 493.3h7M708 493.3h3M713.5 493.3h2M722 493.3h11.5M734.5 493.3h3M742 493.3h3.5M747 493.3h2M751.5 493.3h2M754 493.3h2M759.5 493.3h2M762.5 493.3h3M792.5 493.3h2M797.5 493.3h2M801 493.3h1.5M805.5 493.3h2M810 493.3h6M819 493.3h2M823 493.3h2M827 493.3h3.5M834 493.3h2M846 493.3h2M853.5 493.3h2M885.5 493.3h2M901 493.3h1M904.5 493.3h2M913 493.3h2M355 496.7h1.5M385 496.7h1M387 496.7h3M410 496.7h1.5M422.5 496.7h1M434.5 496.7h6.5M445.5 496.7h1.5M448 496.7h3M456 496.7h16M475 496.7h17M493 496.7h8M503 496.7h4.5M508 496.7h4M513.5 496.7h2M523.5 496.7h2M526.5 496.7h4.5M531.5 496.7h7.5M544.5 496.7h2M553 496.7h2M558.5 496.7h20.5M582 496.7h3M585.5 496.7h8.5M595.5 496.7h2M604 496.7h11M619 496.7h2M628.5 496.7h3M635.5 496.7h2M638.5 496.7h3.5M644 496.7h3.5M648.5 496.7h2M654 496.7h2M668 496.7h3M671.5 496.7h1.5M675.5 496.7h16.5M692.5 496.7h3M755 496.7h1M759.5 496.7h2M762.5 496.7h3M792.5 496.7h2M797.5 496.7h2M801 496.7h3.5M805.5 496.7h2M810 496.7h1.5M813 496.7h3M819 496.7h1M834 496.7h2M846 496.7h2M853.5 496.7h3.5M869 496.7h1M880.5 496.7h1M885.5 496.7h1M893.5 496.7h2M904.5 496.7h2M913 496.7h2M366 500.1h2M434.5 500.1h3M449.5 500.1h1.5M456 500.1h16M475 500.1h22.5M499 500.1h2M503 500.1h4.5M508 500.1h4M523.5 500.1h2M526.5 500.1h4.5M532.5 500.1h5.5M544.5 500.1h2M553 500.1h2M558.5 500.1h20.5M582 500.1h3M585.5 500.1h8.5M595.5 500.1h2M604 500.1h11M619 500.1h2M630 500.1h2.5M635.5 500.1h2M638.5 500.1h3.5M644 500.1h3.5M648.5 500.1h2M654 500.1h2M668 500.1h3M671.5 500.1h3.5M675.5 500.1h16.5M693.5 500.1h2M698 500.1h2M700.5 500.1h7M708 500.1h3M713.5 500.1h2M722 500.1h6M792.5 500.1h2M797.5 500.1h2M805.5 500.1h2M810 500.1h1.5M827 500.1h1.5M832.5 500.1h3.5M853.5 500.1h2M881.5 500.1h2M885.5 500.1h1M888.5 500.1h2M904.5 500.1h2M913 500.1h2M384 503.4h1M387 503.4h3M434.5 503.4h1.5M439 503.4h2M445.5 503.4h1.5M456 503.4h16M476.5 503.4h21M499 503.4h2M503 503.4h4.5M508 503.4h2M513.5 503.4h2M523.5 503.4h2M529 503.4h2M531.5 503.4h7.5M544.5 503.4h2M553 503.4h2M558.5 503.4h12M571.5 503.4h7.5M582 503.4h3M585.5 503.4h4.5M592 503.4h2M595.5 503.4h2M604 503.4h9M619 503.4h2M624.5 503.4h1.5M628.5 503.4h3M635.5 503.4h2M638.5 503.4h3.5M644 503.4h3.5M648.5 503.4h2M654 503.4h2M668 503.4h3M671.5 503.4h1.5M675.5 503.4h16.5M692.5 503.4h3M698 503.4h2M700.5 503.4h7M708 503.4h3M713.5 503.4h2M720.5 503.4h13M734.5 503.4h3M742 503.4h3.5M754 503.4h2M759.5 503.4h2M810 503.4h1.5M814 503.4h2M819 503.4h1M821 503.4h2M827 503.4h3.5M846 503.4h2M853.5 503.4h2M885.5 503.4h2M893.5 503.4h2M901 503.4h1M904.5 503.4h2M913 503.4h2M784.5 506.8h2M792.5 506.8h2M797.5 506.8h2M801 506.8h3.5M805.5 506.8h2M810 506.8h3M814 506.8h2M819 506.8h1M827 506.8h1.5M834 506.8h2M850 506.8h5.5M885.5 506.8h1M888.5 506.8h2M901 506.8h3M912 506.8h3M818.7 510.2h1.3M821 510.2h2M825.5 510.2h5M834 510.2h2M849 510.2h1M865.5 510.2h1M883.5 510.2h4M893.5 510.2h2M901 510.2h1M908.5 510.2h4.5" stroke="#0000ff" stroke-width="2.1" fill="none"/><g clip-path="url(#cp21)"><path d="M929 312.2h461.7v3.4h-461.7zM929 315.6h368.3v3.4h-368.3zM1306.5 315.6h191.1v3.4h-191.1zM929 322.4h568.6v3.4h-568.6zM929 325.8h568.6v3.4h-568.6zM929 329.2h321v3.4h-321zM1264.4 329.2h233.2v3.4h-233.2zM929 332.6h323v3.4h-323zM1260 332.6h237.6v3.4h-237.6zM929 339.4h30v3.4h-30zM962 339.4h535.6v3.4h-535.6zM929 349.6h568.6v3.4h-568.6zM929 353h568.6v3.4h-568.6zM929 356.4h568.6v3.4h-568.6zM929 363.2h568.6v3.4h-568.6zM929 369.9h141.4v3.4h-141.4zM1101.6 369.9h396v3.4h-396zM929 373.3h568.6v3.4h-568.6zM929 376.7h568.6v3.4h-568.6zM929 383.5h118.2v3.4h-118.2zM1211.5 383.5h286.1v3.4h-286.1zM950.7 390.3h546.9v3.4h-546.9zM986.6 393.7h511v3.4h-511zM998 400.5h499.6v3.4h-499.6zM1010 410.7h487.6v3.4h-487.6zM1012 414.1h485.6v3.4h-485.6zM1222 424.3h275.6v3.4h-275.6zM1283 431.1h214.6v3.4h-214.6zM1322 434.5h175.6v3.4h-175.6z" fill="#d2d2d2"/><path d="M929 308.8h568.6v3.4h-568.6zM929 319h568.6v3.4h-568.6zM929 336h280.5v3.4h-280.5zM1212 336h285.6v3.4h-285.6zM929 342.8h568.6v3.4h-568.6zM929 346.2h568.6v3.4h-568.6zM929 359.8h568.6v3.4h-568.6zM929 366.6h568.6v3.4h-568.6zM929 380.1h338.5v3.4h-338.5zM1284 380.1h213.6v3.4h-213.6zM931 386.9h566.6v3.4h-566.6zM998 397.1h499.6v3.4h-499.6zM1002 403.9h495.6v3.4h-495.6zM1010 407.3h487.6v3.4h-487.6zM1218 417.5h279.6v3.4h-279.6zM1218 420.9h279.6v3.4h-279.6zM1222 427.7h275.6v3.4h-275.6z" fill="#c9dccf"/><path d="M934 310.5h2M953.5 310.5h4M967 310.5h2M975.5 310.5h2M1012 310.5h2M1033.5 310.5h2M1053.5 310.5h2M1303.5 310.5h5M1310 310.5h2M1315.5 310.5h2M1338.5 310.5h2M1343 310.5h2M1365 310.5h1M1370.5 310.5h2M1374.5 310.5h2M1411.5 310.5h3.5M1420.5 310.5h3M1424 310.5h2M1435.5 310.5h2M1447.5 310.5h2M1452.5 310.5h1.5M1495 310.5h2M934 313.9h2M953.5 313.9h4M967 313.9h2M975.5 313.9h2M1012 313.9h2M1033.5 313.9h2M1053.5 313.9h2M1122.5 313.9h1.5M1298 313.9h2M1303.5 313.9h5M1315.5 313.9h2M1338.5 313.9h2M1343 313.9h2M1365 313.9h1M1370.5 313.9h2M1374.5 313.9h2M934 317.3h2M953.5 317.3h4M967 317.3h2M975.5 317.3h2M1012 317.3h2M1033.5 317.3h2M1053.5 317.3h2M1306.5 317.3h2M1315.5 317.3h2M1343 317.3h2M1365 317.3h1M1370.5 317.3h2M1374.5 317.3h2M1397.5 317.3h2M1410.5 317.3h3.5M1424 317.3h2M1435.5 317.3h2M1447.5 317.3h2M1452.5 317.3h3.5M1495 317.3h2M934 320.7h2M953.5 320.7h4M967 320.7h2M975.5 320.7h2M1012 320.7h2M1033.5 320.7h2M1053.5 320.7h2M1102 320.7h2M1298 320.7h2M1303.5 320.7h5M1310 320.7h2M1315.5 320.7h2M1338.5 320.7h2M1343 320.7h2M1365 320.7h1M1370.5 320.7h2M1374.5 320.7h2M1397.5 320.7h2M1410.5 320.7h4.5M1420.5 320.7h1M1424 320.7h2M1435.5 320.7h2M1447.5 320.7h2M1452.5 320.7h1.5M1483 320.7h2M1495 320.7h2M934 324.1h2M953.5 324.1h4M967 324.1h2M975.5 324.1h2M1012 324.1h2M1033.5 324.1h2M1053.5 324.1h2M1298 324.1h2M1303.5 324.1h5M1310 324.1h2M1315.5 324.1h2M1338.5 324.1h2M1343 324.1h2M1370.5 324.1h2M1374.5 324.1h2M1397.5 324.1h2M1411.5 324.1h3.5M1420.5 324.1h1M1424 324.1h2M1435.5 324.1h2M1442 324.1h2M1447.5 324.1h2M1452.5 324.1h3.5M1481 324.1h2M1495 324.1h2M934 327.5h2M953.5 327.5h4M967 327.5h2M975.5 327.5h2M1012 327.5h2M1033.5 327.5h2M1053.5 327.5h2M1278 327.5h2M1298 327.5h2M1303.5 327.5h5M1310 327.5h2M1315.5 327.5h2M1338.5 327.5h2M1343 327.5h2M1365 327.5h3M1370.5 327.5h2M1374.5 327.5h2M1397.5 327.5h2M1411.5 327.5h2.5M1415 327.5h2M1419.5 327.5h4M1424 327.5h2M1435.5 327.5h2M1447.5 327.5h2M1452.5 327.5h1.5M1483 327.5h2M1495 327.5h2M934 330.9h2M953.5 330.9h4M967 330.9h2M975.5 330.9h2M1012 330.9h2M1033.5 330.9h2M1053.5 330.9h2M1146 330.9h1.5M1298 330.9h2M1305 330.9h3.5M1310 330.9h2M1315.5 330.9h2M1365 330.9h3M1370.5 330.9h2M1374.5 330.9h2M1397.5 330.9h2M1412.5 330.9h1.5M1420.5 330.9h3M1424 330.9h2M1435.5 330.9h2M1447.5 330.9h2M1452.5 330.9h1.5M1495 330.9h2M934 334.3h2M953.5 334.3h4M967 334.3h2M975.5 334.3h2M1033.5 334.3h2M1053.5 334.3h2M1298 334.3h2M1303.5 334.3h5M1310 334.3h2M1315.5 334.3h2M1338.5 334.3h2M1343 334.3h2M1365 334.3h1M1370.5 334.3h2M1374.5 334.3h2M1397.5 334.3h2M1411.5 334.3h5.5M1424 334.3h2M1435.5 334.3h2M1447.5 334.3h2M1452.5 334.3h1.5M1495 334.3h2M934 337.7h2M953.5 337.7h4M967 337.7h2M975.5 337.7h2M1012 337.7h2M1033.5 337.7h2M1053.5 337.7h2M1278 337.7h2M1298 337.7h2M1303.5 337.7h5M1310 337.7h2M1315.5 337.7h2M1343 337.7h2M1365 337.7h3M1370.5 337.7h2M1374.5 337.7h2M1397.5 337.7h2M1411.5 337.7h2.5M1420.5 337.7h3M1424 337.7h2M1435.5 337.7h2M1452.5 337.7h1.5M934 341.1h2M953.5 341.1h4M967 341.1h2M975.5 341.1h2M1033.5 341.1h2M1053.5 341.1h2M1303.5 341.1h5M1310 341.1h2M1315.5 341.1h2M1338.5 341.1h2M1343 341.1h2M1365 341.1h1M1370.5 341.1h2M1374.5 341.1h2M1397.5 341.1h2M1411.5 341.1h2.5M1415 341.1h2M1420.5 341.1h1M1424 341.1h2M1435.5 341.1h2M1447.5 341.1h2M1452.5 341.1h1.5M1476 341.1h2M1481 341.1h2M1495 341.1h2M934 344.5h2M953.5 344.5h4M967 344.5h2M975.5 344.5h2M1012 344.5h2M1033.5 344.5h2M1053.5 344.5h2M1122.5 344.5h1.5M1298 344.5h2M1303.5 344.5h5M1310 344.5h2M1315.5 344.5h2M1338.5 344.5h2M1343 344.5h2M1365 344.5h3M1370.5 344.5h2M1374.5 344.5h2M1397.5 344.5h2M1411.5 344.5h2.5M1420.5 344.5h1M1424 344.5h2M1435.5 344.5h2M1442 344.5h2M1447.5 344.5h2M1452.5 344.5h1.5M1495 344.5h2M934 347.9h2M953.5 347.9h4M967 347.9h2M975.5 347.9h2M1012 347.9h2M1033.5 347.9h2M1053.5 347.9h2M1122.5 347.9h1.5M1226 347.9h2.5M1278 347.9h2M1298 347.9h2M1303.5 347.9h5M1310 347.9h2M1315.5 347.9h2M1338.5 347.9h2M1343 347.9h2M1365 347.9h3M1370.5 347.9h2M1374.5 347.9h2M1397.5 347.9h2M1411.5 347.9h2.5M1420.5 347.9h3M1424 347.9h2M1435.5 347.9h2M1452.5 347.9h1.5M1483 347.9h2M1495 347.9h2M934 351.3h2M953.5 351.3h4M967 351.3h2M975.5 351.3h2M1033.5 351.3h2M1053.5 351.3h2M1298 351.3h2M1303.5 351.3h5M1310 351.3h2M1315.5 351.3h2M1338.5 351.3h2M1343 351.3h2M1365 351.3h1M1370.5 351.3h2M1374.5 351.3h2M1397.5 351.3h2M1410.5 351.3h3.5M1419.5 351.3h4M1424 351.3h2M1435.5 351.3h2M1447.5 351.3h2M1452.5 351.3h1.5M1483 351.3h2M1495 351.3h2M934 354.7h2M953.5 354.7h4M967 354.7h2M975.5 354.7h2M1033.5 354.7h2M1053.5 354.7h2M1160.5 354.7h2M1298 354.7h2M1303.5 354.7h5M1310 354.7h2M1315.5 354.7h2M1338.5 354.7h2M1343 354.7h2M1365 354.7h1M1370.5 354.7h2M1397.5 354.7h2M1410.5 354.7h3.5M1420.5 354.7h3M1424 354.7h2M1435.5 354.7h2M1447.5 354.7h2M1452.5 354.7h1.5M1495 354.7h2M934 358.1h2M953.5 358.1h4M967 358.1h2M975.5 358.1h2M1012 358.1h2M1053.5 358.1h2M1228.5 358.1h2M1298 358.1h2M1306.5 358.1h2M1315.5 358.1h2M1365 358.1h1M1370.5 358.1h2M1374.5 358.1h2M1397.5 358.1h2M1412.5 358.1h1.5M1420.5 358.1h1M1424 358.1h2M1435.5 358.1h2M1447.5 358.1h2M1452.5 358.1h1.5M1495 358.1h2M934 361.5h2M953.5 361.5h4M967 361.5h2M975.5 361.5h2M1012 361.5h2M1033.5 361.5h2M1053.5 361.5h2M1122.5 361.5h1.5M1278 361.5h2M1298 361.5h2M1303.5 361.5h5M1310 361.5h2M1315.5 361.5h2M1338.5 361.5h2M1343 361.5h2M1365 361.5h1M1370.5 361.5h2M1374.5 361.5h2M1397.5 361.5h2M1409 361.5h1.5M1411.5 361.5h2.5M1419.5 361.5h2M1424 361.5h2M1435.5 361.5h2M1442 361.5h2M1447.5 361.5h2M1452.5 361.5h1.5M1481 361.5h2M1495 361.5h2M934 364.9h2M953.5 364.9h4M967 364.9h2M975.5 364.9h2M1012 364.9h2M1033.5 364.9h2M1303.5 364.9h5M1310 364.9h2M1315.5 364.9h2M1338.5 364.9h2M1343 364.9h2M1365 364.9h1M1370.5 364.9h2M1374.5 364.9h2M1397.5 364.9h2M1411.5 364.9h2.5M1419.5 364.9h1M1435.5 364.9h2M1447.5 364.9h2M1452.5 364.9h3.5M934 368.2h2M953.5 368.2h4M967 368.2h2M975.5 368.2h2M1012 368.2h2M1033.5 368.2h2M1053.5 368.2h2M1298 368.2h2M1303.5 368.2h5M1310 368.2h2M1315.5 368.2h2M1338.5 368.2h2M1343 368.2h2M1365 368.2h1M1370.5 368.2h2M1374.5 368.2h2M1397.5 368.2h2M1409 368.2h5M1419.5 368.2h4M1424 368.2h2M1435.5 368.2h2M1447.5 368.2h2M1452.5 368.2h3.5M1481 368.2h4M1495 368.2h2M934 371.6h2M955.5 371.6h2M967 371.6h2M975.5 371.6h2M1012 371.6h2M1033.5 371.6h2M1053.5 371.6h2M1298 371.6h2M1303.5 371.6h5M1310 371.6h2M1315.5 371.6h2M1338.5 371.6h2M1343 371.6h2M1365 371.6h1M1370.5 371.6h2M1374.5 371.6h2M1397.5 371.6h2M1411.5 371.6h5.5M1424 371.6h2M1435.5 371.6h2M1447.5 371.6h2M1452.5 371.6h3.5M1483 371.6h2M1495 371.6h2M934 375h2M953.5 375h4M967 375h2M975.5 375h2M1012 375h2M1033.5 375h2M1053.5 375h2M1148.5 375h1.5M1298 375h2M1303.5 375h5M1310 375h2M1315.5 375h2M1338.5 375h2M1343 375h2M1365 375h3M1370.5 375h2M1374.5 375h2M1397.5 375h2M1411.5 375h5.5M1420.5 375h1M1424 375h2M1435.5 375h2M1447.5 375h2M1452.5 375h3.5M1481 375h4M1495 375h2M934 378.4h2M953.5 378.4h4M967 378.4h2M975.5 378.4h2M1012 378.4h2M1033.5 378.4h2M1053.5 378.4h2M1122.5 378.4h1.5M1261 378.4h1M1298 378.4h2M1303.5 378.4h5M1310 378.4h2M1315.5 378.4h2M1338.5 378.4h2M1343 378.4h2M1365 378.4h1M1370.5 378.4h2M1374.5 378.4h2M1397.5 378.4h2M1410.5 378.4h4.5M1419.5 378.4h2M1424 378.4h2M1435.5 378.4h2M1447.5 378.4h2M1452.5 378.4h1.5M1495 378.4h2M934 381.8h2M953.5 381.8h4M967 381.8h2M975.5 381.8h2M1012 381.8h2M1033.5 381.8h2M1053.5 381.8h2M1198.5 381.8h1M1298 381.8h2M1303.5 381.8h5M1310 381.8h2M1315.5 381.8h2M1338.5 381.8h2M1343 381.8h2M1365 381.8h1M1370.5 381.8h2M1374.5 381.8h2M1397.5 381.8h2M1406.5 381.8h2M1409 381.8h1.5M1411.5 381.8h2.5M1419.5 381.8h4M1424 381.8h2M1435.5 381.8h2M1442 381.8h2M1447.5 381.8h2M1452.5 381.8h3.5M1495 381.8h2M934 385.2h2M953.5 385.2h4M967 385.2h2M975.5 385.2h2M1033.5 385.2h2M1298 385.2h2M1303.5 385.2h5M1315.5 385.2h2M1338.5 385.2h2M1343 385.2h2M1365 385.2h1M1370.5 385.2h2M1374.5 385.2h2M1397.5 385.2h2M1410.5 385.2h3.5M1419.5 385.2h2M1424 385.2h2M1435.5 385.2h2M1447.5 385.2h2M1495 385.2h2M934 388.6h2M955.5 388.6h2M967 388.6h2M975.5 388.6h2M1012 388.6h2M1033.5 388.6h2M1053.5 388.6h2M1204.5 388.6h1.5M1298 388.6h2M1303.5 388.6h5M1310 388.6h2M1315.5 388.6h2M1338.5 388.6h2M1343 388.6h2M1365 388.6h1M1370.5 388.6h2M1374.5 388.6h2M1397.5 388.6h2M1411.5 388.6h2.5M1419.5 388.6h4M1424 388.6h2M1435.5 388.6h2M1447.5 388.6h2M1452.5 388.6h3.5M1481 388.6h2M1495 388.6h2M953.5 392h4M967 392h2M975.5 392h2M1012 392h2M1033.5 392h2M1053.5 392h2M1105 392h2M1122.5 392h3.5M1237 392h1.5M1278 392h2M1298 392h2M1303.5 392h5M1310 392h2M1315.5 392h2M1338.5 392h2M1343 392h2M1365 392h1M1370.5 392h2M1374.5 392h2M1397.5 392h2M1409 392h6M1420.5 392h1M1424 392h2M1435.5 392h2M1447.5 392h2M1495 392h2M1012 395.4h2M1033.5 395.4h2M1053.5 395.4h2M1122.5 395.4h1.5M1278 395.4h2M1298 395.4h2M1303.5 395.4h5M1310 395.4h2M1315.5 395.4h2M1338.5 395.4h2M1343 395.4h2M1365 395.4h1M1370.5 395.4h2M1374.5 395.4h2M1397.5 395.4h2M1409 395.4h5M1415 395.4h2M1419.5 395.4h2M1424 395.4h2M1435.5 395.4h2M1447.5 395.4h2M1452.5 395.4h3.5M1481 395.4h2M1495 395.4h2M1012 398.8h2M1033.5 398.8h2M1053.5 398.8h2M1155.5 398.8h2M1229.5 398.8h1M1298 398.8h2M1303.5 398.8h5M1310 398.8h2M1315.5 398.8h2M1338.5 398.8h2M1343 398.8h2M1365 398.8h1M1370.5 398.8h2M1374.5 398.8h2M1397.5 398.8h2M1411.5 398.8h3.5M1419.5 398.8h4M1424 398.8h2M1435.5 398.8h2M1447.5 398.8h2M1452.5 398.8h1.5M1495 398.8h2M1012 402.2h2M1033.5 402.2h2M1053.5 402.2h2M1168 402.2h1M1186.5 402.2h1M1298 402.2h2M1303.5 402.2h5M1310 402.2h2M1315.5 402.2h2M1338.5 402.2h2M1343 402.2h2M1365 402.2h1M1370.5 402.2h2M1374.5 402.2h2M1397.5 402.2h2M1410.5 402.2h4.5M1420.5 402.2h3M1424 402.2h2M1435.5 402.2h2M1447.5 402.2h2M1452.5 402.2h3.5M1483 402.2h2M1495 402.2h2M1012 405.6h2M1033.5 405.6h2M1053.5 405.6h2M1122.5 405.6h1.5M1191 405.6h1M1298 405.6h2M1305 405.6h3.5M1310 405.6h2M1315.5 405.6h2M1338.5 405.6h2M1343 405.6h2M1365 405.6h3M1370.5 405.6h2M1374.5 405.6h2M1397.5 405.6h2M1411.5 405.6h2.5M1420.5 405.6h3M1424 405.6h2M1435.5 405.6h2M1452.5 405.6h3.5M1483 405.6h2M1495 405.6h2M1012 409h2M1033.5 409h2M1053.5 409h2M1243.5 409h2M1298 409h2M1303.5 409h5M1310 409h2M1315.5 409h2M1338.5 409h2M1343 409h2M1365 409h1M1370.5 409h2M1374.5 409h2M1397.5 409h2M1406.5 409h2M1411.5 409h5.5M1424 409h2M1435.5 409h2M1452.5 409h1.5M1495 409h2M1012 412.4h2M1033.5 412.4h2M1053.5 412.4h2M1298 412.4h2M1303.5 412.4h5M1310 412.4h2M1315.5 412.4h2M1338.5 412.4h2M1343 412.4h2M1365 412.4h1M1370.5 412.4h2M1374.5 412.4h2M1397.5 412.4h2M1412.5 412.4h2.5M1419.5 412.4h2M1435.5 412.4h2M1447.5 412.4h2M1452.5 412.4h3.5M1481 412.4h2M1495 412.4h2M1012 415.8h2M1033.5 415.8h2M1053.5 415.8h2M1298 415.8h2M1303.5 415.8h5M1310 415.8h2M1315.5 415.8h2M1338.5 415.8h2M1343 415.8h2M1370.5 415.8h2M1374.5 415.8h2M1397.5 415.8h2M1411.5 415.8h2.5M1424 415.8h2M1435.5 415.8h2M1447.5 415.8h2M1495 415.8h2M1278 419.2h2M1298 419.2h2M1303.5 419.2h5M1310 419.2h2M1315.5 419.2h2M1338.5 419.2h2M1343 419.2h2M1365 419.2h3M1370.5 419.2h2M1374.5 419.2h2M1397.5 419.2h2M1411.5 419.2h2.5M1419.5 419.2h4M1424 419.2h2M1435.5 419.2h2M1447.5 419.2h2M1452.5 419.2h1.5M1483 419.2h2M1495 419.2h2M1261 422.6h1M1298 422.6h2M1303.5 422.6h3M1310 422.6h2M1315.5 422.6h2M1338.5 422.6h2M1343 422.6h2M1365 422.6h3M1370.5 422.6h2M1374.5 422.6h2M1397.5 422.6h2M1412.5 422.6h1.5M1419.5 422.6h2M1435.5 422.6h2M1447.5 422.6h2M1483 422.6h2M1495 422.6h2M1298 426h2M1303.5 426h5M1310 426h2M1315.5 426h2M1338.5 426h2M1365 426h3M1370.5 426h2M1374.5 426h2M1397.5 426h2M1406.5 426h2M1411.5 426h2.5M1419.5 426h1M1421.5 426h2M1424 426h2M1435.5 426h2M1447.5 426h2M1452.5 426h1.5M1481 426h2M1495 426h2M1298 429.4h2M1303.5 429.4h5M1310 429.4h2M1315.5 429.4h2M1338.5 429.4h2M1343 429.4h2M1365 429.4h1M1370.5 429.4h2M1374.5 429.4h2M1397.5 429.4h2M1411.5 429.4h2.5M1415 429.4h2M1420.5 429.4h1M1424 429.4h2M1435.5 429.4h2M1447.5 429.4h2M1495 429.4h2M1298 432.8h2M1303.5 432.8h5M1310 432.8h2M1315.5 432.8h2M1338.5 432.8h2M1343 432.8h2M1370.5 432.8h2M1374.5 432.8h2M1397.5 432.8h2M1411.5 432.8h5.5M1424 432.8h2M1435.5 432.8h2M1447.5 432.8h2M1452.5 432.8h3.5M1495 432.8h2M1338.5 436.2h2M1343 436.2h2M1365 436.2h1M1370.5 436.2h2M1374.5 436.2h2M1397.5 436.2h2M1410.5 436.2h3.5M1419.5 436.2h4M1424 436.2h2M1435.5 436.2h2M1447.5 436.2h2M1452.5 436.2h1.5M1495 436.2h2" stroke="#ff0000" stroke-width="2.1" fill="none"/><path d="M998 310.5h2M1074 310.5h2M1102 310.5h2M1105 310.5h2M1114 310.5h3M1118 310.5h4M1122.5 310.5h3.5M1129 310.5h2M1131.5 310.5h3.5M1136.5 310.5h3M1141 310.5h3M1146 310.5h6M1152.5 310.5h2M1155.5 310.5h2M1158 310.5h4.5M1163.5 310.5h58M1222.5 310.5h29.5M1253 310.5h2M1256 310.5h11.5M1268.5 310.5h2M1274 310.5h2M1278 310.5h2M1283 310.5h7M1291 310.5h2M1298 310.5h2M1366 310.5h2M1397.5 310.5h2M1406.5 310.5h2M1409 310.5h2.5M1415 310.5h2M1419.5 310.5h1M1442 310.5h2M1454 310.5h2M1456.5 310.5h2M1465 310.5h2M1476 310.5h2M1481 310.5h4M998 313.9h2M1074 313.9h2M1102 313.9h2M1105 313.9h2M1114 313.9h3M1118 313.9h4M1124 313.9h2M1129 313.9h2M1131.5 313.9h3.5M1136.5 313.9h3M1141 313.9h3M1146 313.9h6M1152.5 313.9h2M1155.5 313.9h2M1158 313.9h4.5M1163.5 313.9h58M1222.5 313.9h29.5M1253 313.9h2M1256 313.9h11.5M1268.5 313.9h2M1274 313.9h2M1278 313.9h2M1283 313.9h7M1291 313.9h2M1310 313.9h2M1366 313.9h2M998 317.3h2M1074 317.3h2M1102 317.3h2M1105 317.3h2M1114 317.3h3M1118 317.3h4M1122.5 317.3h3.5M1129 317.3h2M1131.5 317.3h3.5M1136.5 317.3h3M1141 317.3h3M1146 317.3h6M1152.5 317.3h2M1155.5 317.3h2M1158 317.3h4.5M1163.5 317.3h58M1222.5 317.3h29.5M1253 317.3h2M1256 317.3h11.5M1268.5 317.3h2M1274 317.3h2M1278 317.3h2M1283 317.3h7M1291 317.3h2M1310 317.3h2M1338.5 317.3h2M1366 317.3h2M1406.5 317.3h2M1409 317.3h1.5M1414 317.3h3M1419.5 317.3h4M1442 317.3h2M1456.5 317.3h2M1465 317.3h2M1476 317.3h2M1481 317.3h4M998 320.7h2M1074 320.7h2M1105 320.7h2M1114 320.7h3M1118 320.7h4M1122.5 320.7h3.5M1129 320.7h2M1131.5 320.7h3.5M1136.5 320.7h3M1141 320.7h3M1146 320.7h6M1152.5 320.7h2M1155.5 320.7h2M1158 320.7h4.5M1163.5 320.7h58M1222.5 320.7h29.5M1253 320.7h2M1256 320.7h11.5M1268.5 320.7h2M1274 320.7h2M1278 320.7h2M1283 320.7h7M1291 320.7h2M1366 320.7h2M1406.5 320.7h2M1409 320.7h1.5M1415 320.7h2M1419.5 320.7h1M1421.5 320.7h2M1442 320.7h2M1454 320.7h2M1456.5 320.7h2M1465 320.7h2M1476 320.7h2M1481 320.7h2M998 324.1h2M1074 324.1h2M1102 324.1h2M1105 324.1h2M1114 324.1h3M1118 324.1h4M1122.5 324.1h3.5M1129 324.1h2M1131.5 324.1h3.5M1136.5 324.1h3M1141 324.1h3M1146 324.1h6M1152.5 324.1h2M1155.5 324.1h2M1158 324.1h4.5M1163.5 324.1h58M1222.5 324.1h29.5M1253 324.1h2M1256 324.1h11.5M1268.5 324.1h2M1274 324.1h2M1278 324.1h2M1283 324.1h7M1291 324.1h2M1365 324.1h3M1406.5 324.1h2M1409 324.1h2.5M1415 324.1h2M1419.5 324.1h1M1421.5 324.1h2M1456.5 324.1h2M1465 324.1h2M1476 324.1h2M1483 324.1h2M998 327.5h2M1074 327.5h2M1102 327.5h2M1105 327.5h2M1114 327.5h3M1118 327.5h4M1122.5 327.5h3.5M1129 327.5h2M1131.5 327.5h3.5M1136.5 327.5h3M1141 327.5h3M1146 327.5h6M1152.5 327.5h2M1155.5 327.5h2M1158 327.5h4.5M1163.5 327.5h58M1222.5 327.5h29.5M1253 327.5h2M1256 327.5h11.5M1268.5 327.5h2M1274 327.5h2M1283 327.5h7M1291 327.5h2M1406.5 327.5h2M1409 327.5h2.5M1414 327.5h1M1442 327.5h2M1454 327.5h2M1456.5 327.5h2M1465 327.5h2M1476 327.5h2M1481 327.5h2M998 330.9h2M1074 330.9h2M1102 330.9h2M1105 330.9h2M1114 330.9h3M1118 330.9h4M1122.5 330.9h3.5M1129 330.9h2M1131.5 330.9h3.5M1136.5 330.9h3M1141 330.9h3M1147.5 330.9h4.5M1152.5 330.9h2M1155.5 330.9h2M1158 330.9h4.5M1163.5 330.9h58M1222.5 330.9h27.5M1264.4 330.9h3.1M1268.5 330.9h2M1274 330.9h2M1278 330.9h2M1283 330.9h7M1291 330.9h2M1303.5 330.9h1.5M1338.5 330.9h2M1343 330.9h2M1406.5 330.9h2M1409 330.9h3.5M1414 330.9h3M1419.5 330.9h1M1442 330.9h2M1454 330.9h2M1456.5 330.9h2M1465 330.9h2M1476 330.9h2M1481 330.9h4M998 334.3h2M1012 334.3h2M1074 334.3h2M1102 334.3h2M1105 334.3h2M1114 334.3h3M1118 334.3h4M1122.5 334.3h3.5M1129 334.3h2M1131.5 334.3h3.5M1136.5 334.3h3M1141 334.3h3M1146 334.3h6M1152.5 334.3h2M1155.5 334.3h2M1158 334.3h4.5M1163.5 334.3h58M1222.5 334.3h29.5M1260 334.3h7.5M1268.5 334.3h2M1274 334.3h2M1278 334.3h2M1283 334.3h7M1291 334.3h2M1366 334.3h2M1406.5 334.3h2M1409 334.3h2.5M1419.5 334.3h4M1442 334.3h2M1454 334.3h2M1456.5 334.3h2M1465 334.3h2M1476 334.3h2M1481 334.3h4M998 337.7h2M1074 337.7h2M1102 337.7h2M1105 337.7h2M1114 337.7h3M1118 337.7h4M1122.5 337.7h3.5M1129 337.7h2M1131.5 337.7h3.5M1136.5 337.7h3M1141 337.7h3M1146 337.7h6M1152.5 337.7h2M1155.5 337.7h2M1158 337.7h4.5M1163.5 337.7h46M1212 337.7h9.5M1222.5 337.7h29.5M1253 337.7h2M1256 337.7h11.5M1268.5 337.7h2M1274 337.7h2M1283 337.7h7M1291 337.7h2M1338.5 337.7h2M1406.5 337.7h2M1409 337.7h2.5M1414 337.7h3M1419.5 337.7h1M1442 337.7h2M1447.5 337.7h2M1454 337.7h2M1456.5 337.7h2M1465 337.7h2M1476 337.7h2M1481 337.7h4M1495 337.7h2M998 341.1h2M1012 341.1h2M1074 341.1h2M1102 341.1h2M1105 341.1h2M1114 341.1h3M1118 341.1h4M1122.5 341.1h3.5M1129 341.1h2M1131.5 341.1h3.5M1136.5 341.1h3M1141 341.1h3M1146 341.1h6M1152.5 341.1h2M1155.5 341.1h2M1158 341.1h4.5M1163.5 341.1h58M1222.5 341.1h29.5M1253 341.1h2M1256 341.1h11.5M1268.5 341.1h2M1274 341.1h2M1278 341.1h2M1283 341.1h7M1291 341.1h2M1298 341.1h2M1366 341.1h2M1406.5 341.1h2M1409 341.1h2.5M1414 341.1h1M1419.5 341.1h1M1421.5 341.1h2M1442 341.1h2M1454 341.1h2M1456.5 341.1h2M1465 341.1h2M1483 341.1h2M998 344.5h2M1074 344.5h2M1102 344.5h2M1105 344.5h2M1114 344.5h3M1118 344.5h4M1124 344.5h2M1129 344.5h2M1131.5 344.5h3.5M1136.5 344.5h3M1141 344.5h3M1146 344.5h6M1152.5 344.5h2M1155.5 344.5h2M1158 344.5h4.5M1163.5 344.5h58M1222.5 344.5h29.5M1253 344.5h2M1256 344.5h11.5M1268.5 344.5h2M1274 344.5h2M1278 344.5h2M1283 344.5h7M1291 344.5h2M1406.5 344.5h2M1409 344.5h2.5M1414 344.5h3M1419.5 344.5h1M1421.5 344.5h2M1454 344.5h2M1456.5 344.5h2M1465 344.5h2M1476 344.5h2M1481 344.5h4M998 347.9h2M1074 347.9h2M1102 347.9h2M1105 347.9h2M1114 347.9h3M1118 347.9h4M1124 347.9h2M1129 347.9h2M1131.5 347.9h3.5M1136.5 347.9h3M1141 347.9h3M1146 347.9h6M1152.5 347.9h2M1155.5 347.9h2M1158 347.9h4.5M1163.5 347.9h58M1222.5 347.9h3.5M1228.5 347.9h23.5M1253 347.9h2M1256 347.9h11.5M1268.5 347.9h2M1274 347.9h2M1283 347.9h7M1291 347.9h2M1406.5 347.9h2M1409 347.9h2.5M1414 347.9h3M1419.5 347.9h1M1442 347.9h2M1447.5 347.9h2M1454 347.9h2M1456.5 347.9h2M1465 347.9h2M1476 347.9h2M1481 347.9h2M998 351.3h2M1012 351.3h2M1074 351.3h2M1102 351.3h2M1105 351.3h2M1114 351.3h3M1118 351.3h4M1122.5 351.3h3.5M1129 351.3h2M1131.5 351.3h3.5M1136.5 351.3h3M1141 351.3h3M1146 351.3h6M1152.5 351.3h2M1155.5 351.3h2M1158 351.3h4.5M1163.5 351.3h58M1222.5 351.3h29.5M1253 351.3h2M1256 351.3h11.5M1268.5 351.3h2M1274 351.3h2M1278 351.3h2M1283 351.3h7M1291 351.3h2M1366 351.3h2M1406.5 351.3h2M1409 351.3h1.5M1414 351.3h3M1442 351.3h2M1454 351.3h2M1456.5 351.3h2M1465 351.3h2M1476 351.3h2M1481 351.3h2M998 354.7h2M1012 354.7h2M1074 354.7h2M1102 354.7h2M1105 354.7h2M1114 354.7h3M1118 354.7h4M1122.5 354.7h3.5M1129 354.7h2M1131.5 354.7h3.5M1136.5 354.7h3M1141 354.7h3M1146 354.7h6M1152.5 354.7h2M1155.5 354.7h2M1158 354.7h2.5M1163.5 354.7h58M1222.5 354.7h29.5M1253 354.7h2M1256 354.7h11.5M1268.5 354.7h2M1274 354.7h2M1278 354.7h2M1283 354.7h7M1291 354.7h2M1366 354.7h2M1374.5 354.7h2M1406.5 354.7h2M1409 354.7h1.5M1414 354.7h3M1419.5 354.7h1M1442 354.7h2M1454 354.7h2M1456.5 354.7h2M1465 354.7h2M1476 354.7h2M1481 354.7h4M998 358.1h2M1033.5 358.1h2M1074 358.1h2M1102 358.1h2M1105 358.1h2M1114 358.1h3M1118 358.1h4M1122.5 358.1h3.5M1129 358.1h2M1131.5 358.1h3.5M1136.5 358.1h3M1141 358.1h3M1146 358.1h6M1152.5 358.1h2M1155.5 358.1h2M1158 358.1h4.5M1163.5 358.1h58M1222.5 358.1h6M1230.5 358.1h21.5M1253 358.1h2M1256 358.1h11.5M1268.5 358.1h2M1274 358.1h2M1278 358.1h2M1283 358.1h7M1291 358.1h2M1303.5 358.1h3M1310 358.1h2M1338.5 358.1h2M1343 358.1h2M1366 358.1h2M1406.5 358.1h2M1409 358.1h3.5M1414 358.1h3M1419.5 358.1h1M1421.5 358.1h2M1442 358.1h2M1454 358.1h2M1456.5 358.1h2M1465 358.1h2M1476 358.1h2M1481 358.1h4M998 361.5h2M1074 361.5h2M1102 361.5h2M1105 361.5h2M1114 361.5h3M1118 361.5h4M1124 361.5h2M1129 361.5h2M1131.5 361.5h3.5M1136.5 361.5h3M1141 361.5h3M1146 361.5h6M1152.5 361.5h2M1155.5 361.5h2M1158 361.5h4.5M1163.5 361.5h58M1222.5 361.5h29.5M1253 361.5h2M1256 361.5h11.5M1268.5 361.5h2M1274 361.5h2M1283 361.5h7M1291 361.5h2M1366 361.5h2M1406.5 361.5h2M1410.5 361.5h1M1414 361.5h3M1421.5 361.5h2M1454 361.5h2M1456.5 361.5h2M1465 361.5h2M1476 361.5h2M1483 361.5h2M998 364.9h2M1053.5 364.9h2M1074 364.9h2M1102 364.9h2M1105 364.9h2M1114 364.9h3M1118 364.9h4M1122.5 364.9h3.5M1129 364.9h2M1131.5 364.9h3.5M1136.5 364.9h3M1141 364.9h3M1146 364.9h6M1152.5 364.9h2M1155.5 364.9h2M1158 364.9h4.5M1163.5 364.9h58M1222.5 364.9h29.5M1253 364.9h2M1256 364.9h11.5M1268.5 364.9h2M1274 364.9h2M1278 364.9h2M1283 364.9h7M1291 364.9h2M1298 364.9h2M1366 364.9h2M1406.5 364.9h2M1409 364.9h2.5M1414 364.9h3M1420.5 364.9h3M1424 364.9h2M1442 364.9h2M1456.5 364.9h2M1465 364.9h2M1476 364.9h2M1481 364.9h4M1495 364.9h2M998 368.2h2M1074 368.2h2M1102 368.2h2M1105 368.2h2M1114 368.2h3M1118 368.2h4M1122.5 368.2h3.5M1129 368.2h2M1131.5 368.2h3.5M1136.5 368.2h3M1141 368.2h3M1146 368.2h6M1152.5 368.2h2M1155.5 368.2h2M1158 368.2h4.5M1163.5 368.2h58M1222.5 368.2h29.5M1253 368.2h2M1256 368.2h11.5M1268.5 368.2h2M1274 368.2h2M1278 368.2h2M1283 368.2h7M1291 368.2h2M1366 368.2h2M1406.5 368.2h2M1414 368.2h3M1442 368.2h2M1456.5 368.2h2M1465 368.2h2M1476 368.2h2M953.5 371.6h2M998 371.6h2M1102 371.6h2M1105 371.6h2M1114 371.6h3M1118 371.6h4M1122.5 371.6h3.5M1129 371.6h2M1131.5 371.6h3.5M1136.5 371.6h3M1141 371.6h3M1146 371.6h6M1152.5 371.6h2M1155.5 371.6h2M1158 371.6h4.5M1163.5 371.6h58M1222.5 371.6h29.5M1253 371.6h2M1256 371.6h11.5M1268.5 371.6h2M1274 371.6h2M1278 371.6h2M1283 371.6h7M1291 371.6h2M1366 371.6h2M1406.5 371.6h2M1409 371.6h2.5M1419.5 371.6h4M1442 371.6h2M1456.5 371.6h2M1465 371.6h2M1476 371.6h2M1481 371.6h2M998 375h2M1074 375h2M1102 375h2M1105 375h2M1114 375h3M1118 375h4M1122.5 375h3.5M1129 375h2M1131.5 375h3.5M1136.5 375h3M1141 375h3M1146 375h2.5M1150 375h2M1152.5 375h2M1155.5 375h2M1158 375h4.5M1163.5 375h58M1222.5 375h29.5M1253 375h2M1256 375h11.5M1268.5 375h2M1274 375h2M1278 375h2M1283 375h7M1291 375h2M1406.5 375h2M1409 375h2.5M1419.5 375h1M1421.5 375h2M1442 375h2M1456.5 375h2M1465 375h2M1476 375h2M998 378.4h2M1074 378.4h2M1102 378.4h2M1105 378.4h2M1114 378.4h3M1118 378.4h4M1124 378.4h2M1129 378.4h2M1131.5 378.4h3.5M1136.5 378.4h3M1141 378.4h3M1146 378.4h6M1152.5 378.4h2M1155.5 378.4h2M1158 378.4h4.5M1163.5 378.4h58M1222.5 378.4h29.5M1253 378.4h2M1256 378.4h5M1262 378.4h5.5M1268.5 378.4h2M1274 378.4h2M1278 378.4h2M1283 378.4h7M1291 378.4h2M1366 378.4h2M1406.5 378.4h2M1409 378.4h1.5M1415 378.4h2M1421.5 378.4h2M1442 378.4h2M1454 378.4h2M1456.5 378.4h2M1465 378.4h2M1476 378.4h2M1481 378.4h4M998 381.8h2M1074 381.8h2M1102 381.8h2M1105 381.8h2M1114 381.8h3M1118 381.8h4M1122.5 381.8h3.5M1129 381.8h2M1131.5 381.8h3.5M1136.5 381.8h3M1141 381.8h3M1146 381.8h6M1152.5 381.8h2M1155.5 381.8h2M1158 381.8h4.5M1163.5 381.8h35M1199.5 381.8h22M1222.5 381.8h29.5M1253 381.8h2M1256 381.8h11.5M1284 381.8h6M1291 381.8h2M1366 381.8h2M1410.5 381.8h1M1414 381.8h3M1456.5 381.8h2M1465 381.8h2M1476 381.8h2M1481 381.8h4M998 385.2h2M1012 385.2h2M1211.5 385.2h10M1222.5 385.2h29.5M1253 385.2h2M1256 385.2h11.5M1268.5 385.2h2M1274 385.2h2M1278 385.2h2M1283 385.2h7M1291 385.2h2M1310 385.2h2M1366 385.2h2M1406.5 385.2h2M1409 385.2h1.5M1414 385.2h3M1421.5 385.2h2M1442 385.2h2M1452.5 385.2h3.5M1456.5 385.2h2M1465 385.2h2M1476 385.2h2M1481 385.2h4M953.5 388.6h2M998 388.6h2M1074 388.6h2M1102 388.6h2M1105 388.6h2M1114 388.6h3M1118 388.6h4M1122.5 388.6h3.5M1129 388.6h2M1131.5 388.6h3.5M1136.5 388.6h3M1141 388.6h3M1146 388.6h6M1152.5 388.6h2M1155.5 388.6h2M1158 388.6h4.5M1163.5 388.6h41M1206 388.6h15.5M1222.5 388.6h29.5M1253 388.6h2M1256 388.6h11.5M1268.5 388.6h2M1274 388.6h2M1278 388.6h2M1283 388.6h7M1291 388.6h2M1366 388.6h2M1406.5 388.6h2M1409 388.6h2.5M1414 388.6h3M1442 388.6h2M1456.5 388.6h2M1465 388.6h2M1476 388.6h2M1483 388.6h2M998 392h2M1074 392h2M1102 392h2M1114 392h3M1118 392h4M1129 392h2M1131.5 392h3.5M1136.5 392h3M1141 392h3M1146 392h6M1152.5 392h2M1155.5 392h2M1158 392h4.5M1163.5 392h58M1222.5 392h14.5M1238.5 392h13.5M1253 392h2M1256 392h11.5M1268.5 392h2M1274 392h2M1283 392h7M1291 392h2M1366 392h2M1406.5 392h2M1415 392h2M1419.5 392h1M1421.5 392h2M1442 392h2M1452.5 392h3.5M1456.5 392h2M1465 392h2M1476 392h2M1481 392h4M998 395.4h2M1074 395.4h2M1102 395.4h2M1105 395.4h2M1114 395.4h3M1118 395.4h4M1124 395.4h2M1129 395.4h2M1131.5 395.4h3.5M1136.5 395.4h3M1141 395.4h3M1146 395.4h6M1152.5 395.4h2M1155.5 395.4h2M1158 395.4h4.5M1163.5 395.4h58M1222.5 395.4h29.5M1253 395.4h2M1256 395.4h11.5M1268.5 395.4h2M1274 395.4h2M1283 395.4h7M1291 395.4h2M1366 395.4h2M1406.5 395.4h2M1414 395.4h1M1421.5 395.4h2M1442 395.4h2M1456.5 395.4h2M1465 395.4h2M1476 395.4h2M1483 395.4h2M998 398.8h2M1074 398.8h2M1102 398.8h2M1105 398.8h2M1114 398.8h3M1118 398.8h4M1122.5 398.8h3.5M1129 398.8h2M1131.5 398.8h3.5M1136.5 398.8h3M1141 398.8h3M1146 398.8h6M1152.5 398.8h2M1158 398.8h4.5M1163.5 398.8h58M1222.5 398.8h7M1230.5 398.8h21.5M1253 398.8h2M1256 398.8h11.5M1268.5 398.8h2M1274 398.8h2M1278 398.8h2M1283 398.8h7M1291 398.8h2M1366 398.8h2M1406.5 398.8h2M1409 398.8h2.5M1415 398.8h2M1442 398.8h2M1454 398.8h2M1456.5 398.8h2M1465 398.8h2M1476 398.8h2M1481 398.8h4M998 402.2h2M1074 402.2h2M1102 402.2h2M1105 402.2h2M1114 402.2h3M1118 402.2h4M1122.5 402.2h3.5M1129 402.2h2M1131.5 402.2h3.5M1136.5 402.2h3M1141 402.2h3M1146 402.2h6M1152.5 402.2h2M1155.5 402.2h2M1158 402.2h4.5M1163.5 402.2h4.5M1169 402.2h17.5M1187.5 402.2h34M1222.5 402.2h29.5M1253 402.2h2M1256 402.2h11.5M1268.5 402.2h2M1274 402.2h2M1278 402.2h2M1283 402.2h7M1291 402.2h2M1366 402.2h2M1406.5 402.2h2M1409 402.2h1.5M1415 402.2h2M1419.5 402.2h1M1442 402.2h2M1456.5 402.2h2M1465 402.2h2M1476 402.2h2M1481 402.2h2M1074 405.6h2M1102 405.6h2M1105 405.6h2M1114 405.6h3M1118 405.6h4M1124 405.6h2M1129 405.6h2M1131.5 405.6h3.5M1136.5 405.6h3M1141 405.6h3M1146 405.6h6M1152.5 405.6h2M1155.5 405.6h2M1158 405.6h4.5M1163.5 405.6h27.5M1192 405.6h29.5M1222.5 405.6h29.5M1253 405.6h2M1256 405.6h11.5M1268.5 405.6h2M1274 405.6h2M1278 405.6h2M1283 405.6h7M1291 405.6h2M1303.5 405.6h1.5M1406.5 405.6h2M1409 405.6h2.5M1414 405.6h3M1419.5 405.6h1M1442 405.6h2M1447.5 405.6h2M1456.5 405.6h2M1465 405.6h2M1476 405.6h2M1481 405.6h2M1074 409h2M1102 409h2M1105 409h2M1114 409h3M1118 409h4M1122.5 409h3.5M1129 409h2M1131.5 409h3.5M1136.5 409h3M1141 409h3M1146 409h6M1152.5 409h2M1155.5 409h2M1158 409h4.5M1163.5 409h58M1222.5 409h21M1245.5 409h6.5M1253 409h2M1256 409h11.5M1268.5 409h2M1274 409h2M1278 409h2M1283 409h7M1291 409h2M1366 409h2M1409 409h2.5M1419.5 409h4M1442 409h2M1447.5 409h2M1454 409h2M1456.5 409h2M1465 409h2M1476 409h2M1481 409h4M1074 412.4h2M1102 412.4h2M1105 412.4h2M1114 412.4h3M1118 412.4h4M1122.5 412.4h3.5M1129 412.4h2M1131.5 412.4h3.5M1136.5 412.4h3M1141 412.4h3M1146 412.4h6M1152.5 412.4h2M1155.5 412.4h2M1158 412.4h4.5M1163.5 412.4h58M1222.5 412.4h29.5M1253 412.4h2M1256 412.4h11.5M1268.5 412.4h2M1274 412.4h2M1278 412.4h2M1283 412.4h7M1291 412.4h2M1366 412.4h2M1406.5 412.4h2M1409 412.4h3.5M1415 412.4h2M1421.5 412.4h2M1424 412.4h2M1442 412.4h2M1456.5 412.4h2M1465 412.4h2M1476 412.4h2M1483 412.4h2M1074 415.8h2M1102 415.8h2M1105 415.8h2M1114 415.8h3M1118 415.8h4M1122.5 415.8h3.5M1129 415.8h2M1131.5 415.8h3.5M1136.5 415.8h3M1141 415.8h3M1146 415.8h6M1152.5 415.8h2M1155.5 415.8h2M1158 415.8h4.5M1163.5 415.8h58M1222.5 415.8h29.5M1253 415.8h2M1256 415.8h11.5M1268.5 415.8h2M1274 415.8h2M1278 415.8h2M1283 415.8h7M1291 415.8h2M1365 415.8h3M1406.5 415.8h2M1409 415.8h2.5M1414 415.8h3M1419.5 415.8h4M1442 415.8h2M1452.5 415.8h3.5M1456.5 415.8h2M1465 415.8h2M1476 415.8h2M1481 415.8h4M1218 419.2h3.5M1222.5 419.2h29.5M1253 419.2h2M1256 419.2h11.5M1268.5 419.2h2M1274 419.2h2M1283 419.2h7M1291 419.2h2M1406.5 419.2h2M1409 419.2h2.5M1414 419.2h3M1442 419.2h2M1454 419.2h2M1456.5 419.2h2M1465 419.2h2M1476 419.2h2M1481 419.2h2M1218 422.6h3.5M1222.5 422.6h29.5M1253 422.6h2M1256 422.6h5M1262 422.6h5.5M1268.5 422.6h2M1274 422.6h2M1278 422.6h2M1283 422.6h7M1291 422.6h2M1306.5 422.6h2M1406.5 422.6h2M1409 422.6h3.5M1414 422.6h3M1421.5 422.6h2M1424 422.6h2M1442 422.6h2M1452.5 422.6h3.5M1456.5 422.6h2M1465 422.6h2M1476 422.6h2M1481 422.6h2M1222.5 426h29.5M1253 426h2M1256 426h11.5M1268.5 426h2M1274 426h2M1278 426h2M1283 426h7M1291 426h2M1343 426h2M1409 426h2.5M1414 426h3M1420.5 426h1M1442 426h2M1454 426h2M1456.5 426h2M1465 426h2M1476 426h2M1483 426h2M1222.5 429.4h29.5M1253 429.4h2M1256 429.4h11.5M1268.5 429.4h2M1274 429.4h2M1278 429.4h2M1283 429.4h7M1291 429.4h2M1366 429.4h2M1406.5 429.4h2M1409 429.4h2.5M1414 429.4h1M1419.5 429.4h1M1421.5 429.4h2M1442 429.4h2M1452.5 429.4h3.5M1456.5 429.4h2M1465 429.4h2M1476 429.4h2M1481 429.4h4M1283 432.8h7M1291 432.8h2M1365 432.8h3M1406.5 432.8h2M1409 432.8h2.5M1419.5 432.8h4M1442 432.8h2M1456.5 432.8h2M1465 432.8h2M1476 432.8h2M1481 432.8h4M1366 436.2h2M1406.5 436.2h2M1409 436.2h1.5M1414 436.2h3M1442 436.2h2M1454 436.2h2M1456.5 436.2h2M1465 436.2h2M1476 436.2h2M1481 436.2h4" stroke="#0000ff" stroke-width="2.1" fill="none"/></g><path d="M929 485.1h568.6v3.4h-568.6zM929 495.3h568.6v3.4h-568.6zM929 508.9h568.6v3.4h-568.6zM929 525.9h568.6v3.4h-568.6zM929 532.7h434v3.4h-434zM929 536.1h568.6v3.4h-568.6zM929 539.5h568.6v3.4h-568.6zM929 542.9h305.6v3.4h-305.6zM929 553h568.6v3.4h-568.6zM958 556.4h402v3.4h-402zM929 566.6h568.6v3.4h-568.6zM929 570h568.6v3.4h-568.6zM929 583.6h568.6v3.4h-568.6z" fill="#d2d2d2"/><path d="M929 488.5h568.6v3.4h-568.6zM929 491.9h432v3.4h-432zM929 498.7h568.6v3.4h-568.6zM929 502.1h568.6v3.4h-568.6zM929 505.5h87.4v3.4h-87.4zM1069.8 505.5h427.8v3.4h-427.8zM929 512.3h193v3.4h-193zM1145.8 512.3h351.8v3.4h-351.8zM929 515.7h294.3v3.4h-294.3zM1263.4 515.7h172.6v3.4h-172.6zM929 519.1h194v3.4h-194zM1223 519.1h274.6v3.4h-274.6zM929 522.5h342.6v3.4h-342.6zM1333.2 522.5h164.4v3.4h-164.4zM929 529.3h568.6v3.4h-568.6zM929 546.2h462.8v3.4h-462.8zM929 549.6h568.6v3.4h-568.6zM978.4 559.8h421.6v3.4h-421.6zM929 563.2h568.6v3.4h-568.6zM929 573.4h568.6v3.4h-568.6zM929 576.8h50.4v3.4h-50.4zM1006 576.8h491.6v3.4h-491.6zM929 587h568.6v3.4h-568.6zM929 590.4h568.6v3.4h-568.6zM929 593.8h319v3.4h-319z" fill="#c9dccf"/><path d="M953.5 486.8h4M967 486.8h2M975.5 486.8h2M1012 486.8h2M1053.5 486.8h2M1102 486.8h2M1114 486.8h3M1120 486.8h2M1122.5 486.8h3.5M1131.5 486.8h3.5M1136.5 486.8h1M1141 486.8h3M1146 486.8h6M1152.5 486.8h2M1155.5 486.8h2M1158 486.8h4.5M1163.5 486.8h32M1197.5 486.8h24M1222.5 486.8h19M1243.5 486.8h5M1250 486.8h2M1253 486.8h2M1256 486.8h11.5M1268.5 486.8h2M1283 486.8h7M1291 486.8h2M1298 486.8h2M1310 486.8h2M1315.5 486.8h2M1365 486.8h3M1435.5 486.8h2M1452.5 486.8h3.5M1476 486.8h2M1483 486.8h2M1495 486.8h2M934 490.2h2M953.5 490.2h4M967 490.2h2M975.5 490.2h2M998 490.2h2M1012 490.2h2M1074 490.2h2M1102 490.2h2M1114 490.2h3M1118 490.2h4M1122.5 490.2h3.5M1129 490.2h2M1133 490.2h2M1136.5 490.2h3M1141 490.2h3M1146 490.2h6M1152.5 490.2h2M1155.5 490.2h2M1158 490.2h4.5M1163.5 490.2h58M1222.5 490.2h29.5M1253 490.2h2M1256 490.2h11.5M1283 490.2h7M1291 490.2h2M1298 490.2h2M1303.5 490.2h3M1310 490.2h2M1366 490.2h2M1370.5 490.2h2M1374.5 490.2h2M1410.5 490.2h4.5M1435.5 490.2h2M1452.5 490.2h3.5M1483 490.2h2M1495 490.2h2M953.5 493.6h4M967 493.6h2M975.5 493.6h2M1012 493.6h2M1033.5 493.6h2M1053.5 493.6h2M1074 493.6h2M1102 493.6h2M1114 493.6h3M1118 493.6h4M1122.5 493.6h3.5M1129 493.6h2M1131.5 493.6h3.5M1136.5 493.6h3M1141 493.6h3M1146 493.6h6M1152.5 493.6h2M1155.5 493.6h2M1158 493.6h4.5M1163.5 493.6h28.5M1193 493.6h4.5M1198.5 493.6h20M1219.5 493.6h2M1222.5 493.6h7M1230.5 493.6h21.5M1253 493.6h2M1256 493.6h11.5M1268.5 493.6h2M1283 493.6h7M1291 493.6h2M1298 493.6h2M1310 493.6h2M1315.5 493.6h2M934 497h2M953.5 497h4M967 497h2M975.5 497h2M1012 497h2M1033.5 497h2M1053.5 497h2M1102 497h2M1114 497h3M1118 497h4M1122.5 497h1.5M1129 497h2M1136.5 497h1M1141 497h3M1146 497h2.5M1150 497h2M1152.5 497h2M1155.5 497h2M1158 497h4.5M1163.5 497h19.5M1185.5 497h7.5M1194 497h27.5M1222.5 497h29.5M1253 497h2M1256 497h11.5M1268.5 497h2M1274 497h2M1283 497h7M1291 497h2M1298 497h2M1305 497h1.5M1310 497h2M1315.5 497h2M1338.5 497h2M1365 497h1M1397.5 497h2M1435.5 497h2M1452.5 497h3.5M1483 497h2M1495 497h2M934 500.4h2M953.5 500.4h4M967 500.4h2M975.5 500.4h2M1012 500.4h2M1033.5 500.4h2M1053.5 500.4h2M1074 500.4h2M1102 500.4h2M1114 500.4h3M1120 500.4h2M1122.5 500.4h1.5M1129 500.4h2M1131.5 500.4h3.5M1136.5 500.4h1M1141 500.4h3M1146 500.4h6M1152.5 500.4h2M1155.5 500.4h2M1158 500.4h4.5M1163.5 500.4h32M1197.5 500.4h18.5M1217 500.4h4.5M1222.5 500.4h6M1229.5 500.4h16M1247 500.4h5M1253 500.4h2M1256 500.4h11.5M1268.5 500.4h2M1283 500.4h7M1291 500.4h2M1298 500.4h2M1310 500.4h2M1315.5 500.4h2M1338.5 500.4h2M1343 500.4h2M1365 500.4h3M1374.5 500.4h2M1435.5 500.4h2M1452.5 500.4h1.5M1483 500.4h2M953.5 503.8h2M967 503.8h2M975.5 503.8h2M1012 503.8h2M1033.5 503.8h2M1053.5 503.8h2M1074 503.8h2M1105 503.8h2M1114 503.8h3M1124 503.8h2M1131.5 503.8h3.5M1136.5 503.8h3M1141 503.8h3M1146 503.8h6M1152.5 503.8h2M1155.5 503.8h2M1158 503.8h4.5M1164.5 503.8h12.5M1179 503.8h42.5M1222.5 503.8h19M1243.5 503.8h6.5M1253 503.8h2M1256 503.8h11.5M1268.5 503.8h2M1283 503.8h7M1310 503.8h2M1315.5 503.8h2M1338.5 503.8h2M1370.5 503.8h2M1397.5 503.8h2M1412.5 503.8h1.5M1435.5 503.8h2M1452.5 503.8h3.5M1483 503.8h2M1495 503.8h2M934 507.2h2M953.5 507.2h4M967 507.2h2M975.5 507.2h2M998 507.2h2M1012 507.2h2M1102 507.2h2M1105 507.2h2M1114 507.2h3M1118 507.2h4M1122.5 507.2h3.5M1129 507.2h2M1131.5 507.2h3.5M1136.5 507.2h3M1141 507.2h3M1146 507.2h6M1152.5 507.2h2M1155.5 507.2h2M1158 507.2h4.5M1163.5 507.2h58M1222.5 507.2h7M1230.5 507.2h21.5M1253 507.2h2M1256 507.2h11.5M1268.5 507.2h2M1283 507.2h7M1291 507.2h2M1298 507.2h2M1303.5 507.2h3M1310 507.2h2M1315.5 507.2h2M1338.5 507.2h2M1343 507.2h2M1366 507.2h2M1370.5 507.2h2M1374.5 507.2h2M1397.5 507.2h2M1412.5 507.2h4.5M1424 507.2h2M1452.5 507.2h3.5M1483 507.2h2M1495 507.2h2M934 510.6h2M953.5 510.6h2M967 510.6h2M975.5 510.6h2M998 510.6h2M1012 510.6h2M1033.5 510.6h2M1053.5 510.6h2M1074 510.6h2M1102 510.6h2M1114 510.6h3M1118 510.6h4M1122.5 510.6h1.5M1131.5 510.6h3.5M1136.5 510.6h1M1141 510.6h3M1146 510.6h6M1152.5 510.6h2M1155.5 510.6h2M1158 510.6h4.5M1163.5 510.6h58M1222.5 510.6h6M1230.5 510.6h21.5M1253 510.6h2M1256 510.6h11.5M1268.5 510.6h2M1283 510.6h7M1291 510.6h2M1298 510.6h2M1303.5 510.6h3M1315.5 510.6h2M1365 510.6h1M1370.5 510.6h2M1397.5 510.6h2M1435.5 510.6h2M1452.5 510.6h3.5M1483 510.6h2M1495 510.6h2M934 514h2M953.5 514h2M967 514h2M975.5 514h2M1033.5 514h2M1053.5 514h2M1074 514h2M1102 514h2M1114 514h3M1118 514h4M1146 514h6M1152.5 514h2M1155.5 514h2M1158 514h4.5M1163.5 514h58M1222.5 514h3.5M1227.5 514h24.5M1253 514h2M1256 514h11.5M1268.5 514h2M1283 514h4M1298 514h2M1303.5 514h5M1315.5 514h2M1338.5 514h2M1365 514h3M1374.5 514h2M1412.5 514h4.5M1435.5 514h2M1452.5 514h3.5M1483 514h2M953.5 517.4h4M967 517.4h2M1012 517.4h2M1033.5 517.4h2M1114 517.4h3M1118 517.4h4M1122.5 517.4h3.5M1129 517.4h2M1131.5 517.4h3.5M1136.5 517.4h3M1141 517.4h3M1146 517.4h6M1152.5 517.4h2M1155.5 517.4h2M1158 517.4h4.5M1163.5 517.4h1M1166 517.4h19.5M1186.5 517.4h35M1222.5 517.4h0.8M1263.4 517.4h4.1M1268.5 517.4h2M1274 517.4h2M1283 517.4h7M1291 517.4h2M1298 517.4h2M1303.5 517.4h5M1315.5 517.4h2M1370.5 517.4h2M1397.5 517.4h2M1410.5 517.4h1M1412.5 517.4h4.5M1435.5 517.4h0.5M934 520.8h2M953.5 520.8h4M975.5 520.8h2M998 520.8h2M1012 520.8h2M1033.5 520.8h2M1053.5 520.8h2M1102 520.8h2M1114 520.8h3M1120 520.8h2M1122.5 520.8h0.5M1223 520.8h29M1253 520.8h2M1256 520.8h11.5M1268.5 520.8h2M1283 520.8h4M1288 520.8h2M1291 520.8h2M1298 520.8h2M1303.5 520.8h5M1310 520.8h2M1315.5 520.8h2M1365 520.8h3M1370.5 520.8h2M1374.5 520.8h2M1397.5 520.8h2M1412.5 520.8h1.5M1435.5 520.8h2M1452.5 520.8h1.5M1483 520.8h2M953.5 524.2h4M967 524.2h2M975.5 524.2h2M1033.5 524.2h2M1102 524.2h2M1114 524.2h3M1120 524.2h2M1122.5 524.2h3.5M1133 524.2h2M1136.5 524.2h3M1141 524.2h1M1146 524.2h6M1152.5 524.2h2M1155.5 524.2h2M1158 524.2h1M1160.5 524.2h2M1163.5 524.2h28.5M1193 524.2h28.5M1222.5 524.2h3.5M1227.5 524.2h4.5M1233 524.2h1M1236 524.2h5.5M1243.5 524.2h8.5M1253 524.2h2M1257.5 524.2h10M1268.5 524.2h2M1338.5 524.2h2M1397.5 524.2h2M1411.5 524.2h2.5M1435.5 524.2h2M1452.5 524.2h3.5M1483 524.2h2M1495 524.2h2M934 527.6h2M953.5 527.6h4M967 527.6h2M975.5 527.6h2M998 527.6h2M1012 527.6h2M1033.5 527.6h2M1053.5 527.6h2M1102 527.6h2M1105 527.6h2M1114 527.6h3M1118 527.6h4M1129 527.6h2M1131.5 527.6h3.5M1136.5 527.6h3M1141 527.6h3M1146 527.6h6M1152.5 527.6h2M1155.5 527.6h2M1158 527.6h4.5M1163.5 527.6h58M1222.5 527.6h29.5M1253 527.6h2M1256 527.6h11.5M1284 527.6h6M1291 527.6h2M1298 527.6h2M1303.5 527.6h5M1310 527.6h2M1315.5 527.6h2M1338.5 527.6h2M1343 527.6h2M1365 527.6h3M1370.5 527.6h2M1397.5 527.6h2M1412.5 527.6h1.5M1424 527.6h2M1435.5 527.6h2M1442 527.6h2M1452.5 527.6h3.5M1476 527.6h2M1483 527.6h2M1495 527.6h2M934 531h2M953.5 531h4M967 531h2M975.5 531h2M1012 531h2M1033.5 531h2M1053.5 531h2M1102 531h2M1105 531h2M1114 531h3M1118 531h4M1122.5 531h3.5M1129 531h2M1131.5 531h3.5M1136.5 531h3M1141 531h3M1146 531h6M1152.5 531h2M1155.5 531h2M1158 531h4.5M1163.5 531h32M1197.5 531h24M1222.5 531h3.5M1230.5 531h18M1253 531h2M1256 531h5M1262 531h5.5M1268.5 531h2M1283 531h7M1291 531h2M1298 531h2M1303.5 531h5M1310 531h2M1315.5 531h2M1366 531h2M1374.5 531h2M1397.5 531h2M1435.5 531h2M1452.5 531h3.5M1456.5 531h2M1483 531h2M1495 531h2M953.5 534.4h4M975.5 534.4h2M1012 534.4h2M1033.5 534.4h2M1053.5 534.4h2M1074 534.4h2M1102 534.4h2M1105 534.4h2M1114 534.4h3M1120 534.4h2M1122.5 534.4h1.5M1129 534.4h2M1131.5 534.4h3.5M1136.5 534.4h3M1141 534.4h3M1146 534.4h6M1152.5 534.4h2M1155.5 534.4h2M1158 534.4h4.5M1163.5 534.4h47M1211.5 534.4h10M1222.5 534.4h2M1226 534.4h26M1253 534.4h2M1256 534.4h11.5M1283 534.4h7M1298 534.4h2M1303.5 534.4h5M1310 534.4h2M1315.5 534.4h2M953.5 537.8h4M967 537.8h2M975.5 537.8h2M998 537.8h2M1012 537.8h2M1033.5 537.8h2M1053.5 537.8h2M1115 537.8h2M1120 537.8h2M1122.5 537.8h3.5M1131.5 537.8h3.5M1136.5 537.8h1M1141 537.8h3M1146 537.8h6M1152.5 537.8h2M1155.5 537.8h2M1158 537.8h1M1160.5 537.8h2M1163.5 537.8h28.5M1193 537.8h28.5M1222.5 537.8h24.5M1248.5 537.8h3.5M1253 537.8h2M1256 537.8h11.5M1268.5 537.8h2M1283 537.8h7M1291 537.8h2M1298 537.8h2M1305 537.8h3.5M1315.5 537.8h2M1338.5 537.8h2M1370.5 537.8h2M1374.5 537.8h2M1397.5 537.8h2M1452.5 537.8h1.5M1483 537.8h2M1495 537.8h2M934 541.2h2M953.5 541.2h4M967 541.2h2M975.5 541.2h2M1012 541.2h2M1033.5 541.2h2M1053.5 541.2h2M1074 541.2h2M1102 541.2h2M1114 541.2h3M1118 541.2h4M1122.5 541.2h3.5M1129 541.2h2M1131.5 541.2h3.5M1136.5 541.2h3M1141 541.2h3M1146 541.2h6M1152.5 541.2h2M1155.5 541.2h2M1158 541.2h4.5M1163.5 541.2h34M1200.5 541.2h21M1222.5 541.2h7M1230.5 541.2h15M1247 541.2h5M1253 541.2h2M1256 541.2h11.5M1268.5 541.2h2M1284 541.2h3M1288 541.2h2M1291 541.2h2M1298 541.2h2M1303.5 541.2h1.5M1306.5 541.2h2M1310 541.2h2M1315.5 541.2h2M1343 541.2h2M1366 541.2h2M1370.5 541.2h2M1397.5 541.2h2M1435.5 541.2h2M1452.5 541.2h3.5M1483 541.2h2M1495 541.2h2M934 544.5h2M953.5 544.5h4M967 544.5h2M975.5 544.5h2M1012 544.5h2M1033.5 544.5h2M1102 544.5h2M1114 544.5h3M1118 544.5h4M1122.5 544.5h1.5M1129 544.5h2M1131.5 544.5h3.5M1136.5 544.5h1M1141 544.5h3M1146 544.5h6M1152.5 544.5h2M1155.5 544.5h2M1158 544.5h4.5M1163.5 544.5h23M1188.5 544.5h7M1197.5 544.5h3M1202.5 544.5h19M1222.5 544.5h12.1M934 547.9h2M953.5 547.9h4M975.5 547.9h2M998 547.9h2M1033.5 547.9h2M1102 547.9h2M1105 547.9h2M1114 547.9h3M1120 547.9h2M1122.5 547.9h3.5M1131.5 547.9h3.5M1136.5 547.9h3M1141 547.9h3M1146 547.9h6M1152.5 547.9h2M1155.5 547.9h2M1158 547.9h4.5M1163.5 547.9h13.5M1178 547.9h17.5M1197.5 547.9h24M1222.5 547.9h8M1232 547.9h20M1253 547.9h2M1256 547.9h9.5M1268.5 547.9h2M1274 547.9h2M1283 547.9h7M1291 547.9h2M1298 547.9h2M1303.5 547.9h5M1310 547.9h2M1315.5 547.9h2M1338.5 547.9h2M1365 547.9h3M1370.5 547.9h2M1374.5 547.9h2M934 551.3h2M953.5 551.3h4M1012 551.3h2M1053.5 551.3h2M1074 551.3h2M1102 551.3h2M1114 551.3h3M1118 551.3h4M1122.5 551.3h3.5M1131.5 551.3h3.5M1136.5 551.3h1M1141 551.3h3M1147.5 551.3h4.5M1152.5 551.3h2M1155.5 551.3h2M1158 551.3h4.5M1163.5 551.3h34M1199.5 551.3h22M1222.5 551.3h7M1230.5 551.3h3.5M1236 551.3h16M1253 551.3h2M1256 551.3h11.5M1268.5 551.3h2M1283 551.3h7M1291 551.3h2M1298 551.3h2M1303.5 551.3h3M1315.5 551.3h2M1370.5 551.3h2M1397.5 551.3h2M1412.5 551.3h1.5M1435.5 551.3h2M1452.5 551.3h3.5M1483 551.3h2M1495 551.3h2M934 554.7h2M953.5 554.7h4M967 554.7h2M975.5 554.7h2M1012 554.7h2M1033.5 554.7h2M1053.5 554.7h2M1102 554.7h2M1114 554.7h1M1118 554.7h4M1133 554.7h2M1136.5 554.7h3M1141 554.7h3M1146 554.7h6M1152.5 554.7h2M1155.5 554.7h2M1158 554.7h1M1160.5 554.7h2M1163.5 554.7h58M1222.5 554.7h2M1226 554.7h11M1240.5 554.7h11.5M1253 554.7h2M1256 554.7h3M1261 554.7h6.5M1283 554.7h7M1298 554.7h2M1310 554.7h2M1365 554.7h1M1374.5 554.7h2M1412.5 554.7h2.5M1435.5 554.7h2M1452.5 554.7h3.5M1483 554.7h2M1495 554.7h2M967 558.1h2M975.5 558.1h2M1012 558.1h2M1053.5 558.1h2M1102 558.1h2M1105 558.1h2M1114 558.1h3M1118 558.1h4M1122.5 558.1h1.5M1129 558.1h2M1131.5 558.1h3.5M1136.5 558.1h3M1141 558.1h3M1146 558.1h6M1152.5 558.1h2M1155.5 558.1h2M1158 558.1h4.5M1163.5 558.1h1M1170 558.1h51.5M1224.5 558.1h27.5M1253 558.1h2M1256 558.1h11.5M1268.5 558.1h2M1283 558.1h7M1298 558.1h2M1305 558.1h3.5M1310 558.1h2M1315.5 558.1h2M1338.5 558.1h2M1012 561.5h2M1033.5 561.5h2M1053.5 561.5h2M1102 561.5h2M1105 561.5h2M1114 561.5h3M1118 561.5h4M1124 561.5h2M1129 561.5h2M1131.5 561.5h1.5M1136.5 561.5h3M1141 561.5h3M1146 561.5h4M1152.5 561.5h2M1155.5 561.5h2M1158 561.5h4.5M1163.5 561.5h58M1222.5 561.5h29.5M1253 561.5h2M1256 561.5h11.5M1268.5 561.5h2M1283 561.5h7M1298 561.5h2M1306.5 561.5h2M1310 561.5h2M1315.5 561.5h2M1338.5 561.5h2M1370.5 561.5h2M1397.5 561.5h2M934 564.9h2M953.5 564.9h4M967 564.9h2M975.5 564.9h2M1012 564.9h2M1033.5 564.9h2M1053.5 564.9h2M1074 564.9h2M1102 564.9h2M1105 564.9h2M1114 564.9h3M1118 564.9h4M1122.5 564.9h1.5M1131.5 564.9h3.5M1136.5 564.9h3M1141 564.9h3M1146 564.9h6M1152.5 564.9h2M1155.5 564.9h2M1158 564.9h4.5M1163.5 564.9h15.5M1180 564.9h41.5M1222.5 564.9h29.5M1253 564.9h2M1256 564.9h11.5M1268.5 564.9h2M1283 564.9h7M1291 564.9h2M1298 564.9h2M1303.5 564.9h5M1315.5 564.9h2M1338.5 564.9h2M1343 564.9h2M1365 564.9h3M1370.5 564.9h2M1411.5 564.9h3.5M1424 564.9h2M1435.5 564.9h2M1452.5 564.9h3.5M1476 564.9h2M1481 564.9h4M953.5 568.3h4M967 568.3h2M975.5 568.3h2M1012 568.3h2M1033.5 568.3h2M1053.5 568.3h2M1102 568.3h2M1114 568.3h3M1120 568.3h2M1122.5 568.3h3.5M1129 568.3h2M1131.5 568.3h3.5M1136.5 568.3h3M1141 568.3h3M1147.5 568.3h4.5M1152.5 568.3h2M1155.5 568.3h2M1158 568.3h4.5M1163.5 568.3h32M1197.5 568.3h24M1222.5 568.3h29.5M1257.5 568.3h10M1268.5 568.3h2M1283 568.3h7M1291 568.3h2M1303.5 568.3h5M1310 568.3h2M1315.5 568.3h2M1343 568.3h2M1365 568.3h3M1370.5 568.3h2M1374.5 568.3h2M1397.5 568.3h2M1411.5 568.3h2.5M1435.5 568.3h2M1452.5 568.3h3.5M1483 568.3h2M1495 568.3h2M953.5 571.7h2M967 571.7h2M975.5 571.7h2M1012 571.7h2M1033.5 571.7h2M1053.5 571.7h2M1114 571.7h1M1118 571.7h4M1122.5 571.7h3.5M1131.5 571.7h3.5M1136.5 571.7h3M1141 571.7h3M1146 571.7h6M1152.5 571.7h2M1155.5 571.7h2M1158 571.7h4.5M1163.5 571.7h58M1224.5 571.7h5M1232 571.7h20M1253 571.7h2M1256 571.7h11.5M1268.5 571.7h2M1283 571.7h4M1288 571.7h2M1298 571.7h2M1305 571.7h3.5M1310 571.7h2M1315.5 571.7h2M1338.5 571.7h2M1370.5 571.7h2M1374.5 571.7h2M1412.5 571.7h4.5M1435.5 571.7h2M1452.5 571.7h3.5M1483 571.7h2M1495 571.7h2M953.5 575.1h4M967 575.1h2M975.5 575.1h2M1033.5 575.1h2M1053.5 575.1h2M1074 575.1h2M1102 575.1h2M1105 575.1h2M1114 575.1h3M1118 575.1h4M1122.5 575.1h1.5M1129 575.1h2M1133 575.1h2M1136.5 575.1h1M1141 575.1h3M1146 575.1h6M1152.5 575.1h2M1155.5 575.1h2M1158 575.1h2.5M1163.5 575.1h58M1222.5 575.1h24.5M1248.5 575.1h3.5M1253 575.1h2M1257.5 575.1h10M1268.5 575.1h2M1283 575.1h4M1288 575.1h2M1291 575.1h2M1298 575.1h2M1305 575.1h3.5M1310 575.1h2M1315.5 575.1h2M1370.5 575.1h2M1374.5 575.1h2M1412.5 575.1h1.5M1435.5 575.1h2M1452.5 575.1h1.5M1483 575.1h2M934 578.5h2M953.5 578.5h4M967 578.5h2M975.5 578.5h2M1012 578.5h2M1053.5 578.5h2M1074 578.5h2M1102 578.5h2M1114 578.5h3M1118 578.5h4M1122.5 578.5h3.5M1131.5 578.5h3.5M1136.5 578.5h3M1141 578.5h3M1146 578.5h6M1152.5 578.5h2M1155.5 578.5h2M1158 578.5h4.5M1163.5 578.5h26.5M1191 578.5h4.5M1197.5 578.5h24M1222.5 578.5h2M1226 578.5h26M1253 578.5h2M1256 578.5h11.5M1268.5 578.5h2M1283 578.5h7M1291 578.5h2M1298 578.5h2M1303.5 578.5h3M1310 578.5h2M1315.5 578.5h2M1338.5 578.5h2M1365 578.5h1M1397.5 578.5h2M1411.5 578.5h2.5M1435.5 578.5h2M1452.5 578.5h3.5M1483 578.5h2M1495 578.5h2M934 585.3h2M953.5 585.3h2M975.5 585.3h2M1012 585.3h2M1033.5 585.3h2M1102 585.3h2M1105 585.3h2M1114 585.3h3M1120 585.3h2M1122.5 585.3h1.5M1129 585.3h2M1133 585.3h2M1136.5 585.3h3M1141 585.3h3M1146 585.3h6M1152.5 585.3h2M1155.5 585.3h2M1158 585.3h4.5M1163.5 585.3h32M1197.5 585.3h24M1222.5 585.3h2M1227.5 585.3h5.5M1234 585.3h18M1253 585.3h2M1256 585.3h11.5M1268.5 585.3h2M1283 585.3h7M1298 585.3h2M1310 585.3h2M1315.5 585.3h2M1338.5 585.3h2M1343 585.3h2M1365 585.3h1M1374.5 585.3h2M1397.5 585.3h2M1412.5 585.3h2.5M1435.5 585.3h2M1452.5 585.3h3.5M1476 585.3h2M1483 585.3h2M934 588.7h2M953.5 588.7h4M967 588.7h2M975.5 588.7h2M998 588.7h2M1033.5 588.7h2M1053.5 588.7h2M1074 588.7h2M1102 588.7h2M1105 588.7h2M1114 588.7h3M1120 588.7h2M1122.5 588.7h3.5M1131.5 588.7h3.5M1136.5 588.7h3M1141 588.7h3M1146 588.7h6M1152.5 588.7h2M1155.5 588.7h2M1158 588.7h4.5M1163.5 588.7h34M1198.5 588.7h2M1202.5 588.7h19M1222.5 588.7h2M1226 588.7h26M1256 588.7h11.5M1283 588.7h7M1291 588.7h2M1298 588.7h2M1303.5 588.7h5M1310 588.7h2M1315.5 588.7h2M1366 588.7h2M1370.5 588.7h2M1397.5 588.7h2M1412.5 588.7h1.5M1435.5 588.7h2M1452.5 588.7h1.5M1483 588.7h2M1495 588.7h2M934 592.1h2M953.5 592.1h4M967 592.1h2M975.5 592.1h2M998 592.1h2M1012 592.1h2M1033.5 592.1h2M1053.5 592.1h2M1074 592.1h2M1114 592.1h3M1120 592.1h2M1129 592.1h2M1133 592.1h2M1136.5 592.1h3M1141 592.1h3M1146 592.1h6M1152.5 592.1h2M1155.5 592.1h2M1158 592.1h4.5M1163.5 592.1h29.5M1194 592.1h27.5M1222.5 592.1h7M1230.5 592.1h21.5M1253 592.1h2M1256 592.1h11.5M1268.5 592.1h2M1283 592.1h4M1288 592.1h2M1298 592.1h2M1305 592.1h1.5M1315.5 592.1h2M1365 592.1h3M1370.5 592.1h2M1397.5 592.1h2M1412.5 592.1h2.5M1435.5 592.1h2M1452.5 592.1h3.5M1483 592.1h2M1495 592.1h2M934 595.5h2M953.5 595.5h2M967 595.5h2M975.5 595.5h2M1012 595.5h2M1033.5 595.5h2M1102 595.5h2M1105 595.5h2M1114 595.5h3M1118 595.5h4M1122.5 595.5h1.5M1131.5 595.5h3.5M1136.5 595.5h3M1141 595.5h3M1146 595.5h6M1152.5 595.5h2M1155.5 595.5h2M1158 595.5h4.5M1163.5 595.5h1M1166 595.5h31.5M1198.5 595.5h10M1209.5 595.5h12M1222.5 595.5h6M1229.5 595.5h12M1243.5 595.5h2M1247 595.5h1" stroke="#ff0000" stroke-width="2.1" fill="none"/><path d="M934 486.8h2M998 486.8h2M1033.5 486.8h2M1074 486.8h2M1105 486.8h2M1118 486.8h2M1129 486.8h2M1137.5 486.8h2M1195.5 486.8h2M1241.5 486.8h2M1248.5 486.8h1.5M1274 486.8h2M1278 486.8h2M1303.5 486.8h5M1338.5 486.8h2M1343 486.8h2M1370.5 486.8h2M1374.5 486.8h2M1397.5 486.8h2M1406.5 486.8h2M1409 486.8h8M1419.5 486.8h4M1424 486.8h2M1442 486.8h2M1447.5 486.8h2M1456.5 486.8h2M1465 486.8h2M1481 486.8h2M1033.5 490.2h2M1053.5 490.2h2M1105 490.2h2M1131.5 490.2h1.5M1268.5 490.2h2M1274 490.2h2M1278 490.2h2M1306.5 490.2h2M1315.5 490.2h2M1338.5 490.2h2M1343 490.2h2M1365 490.2h1M1397.5 490.2h2M1406.5 490.2h2M1409 490.2h1.5M1415 490.2h2M1419.5 490.2h4M1424 490.2h2M1442 490.2h2M1447.5 490.2h2M1456.5 490.2h2M1465 490.2h2M1476 490.2h2M1481 490.2h2M934 493.6h2M998 493.6h2M1105 493.6h2M1192 493.6h1M1197.5 493.6h1M1218.5 493.6h1M1229.5 493.6h1M1274 493.6h2M1278 493.6h2M1303.5 493.6h5M1338.5 493.6h2M1343 493.6h2M998 497h2M1074 497h2M1105 497h2M1124 497h2M1131.5 497h3.5M1137.5 497h2M1148.5 497h1.5M1183 497h2.5M1193 497h1M1278 497h2M1303.5 497h1.5M1306.5 497h2M1343 497h2M1366 497h2M1370.5 497h2M1374.5 497h2M1406.5 497h2M1409 497h8M1419.5 497h4M1424 497h2M1442 497h2M1447.5 497h2M1456.5 497h2M1465 497h2M1476 497h2M1481 497h2M998 500.4h2M1105 500.4h2M1118 500.4h2M1124 500.4h2M1137.5 500.4h2M1195.5 500.4h2M1216 500.4h1M1228.5 500.4h1M1245.5 500.4h1.5M1274 500.4h2M1278 500.4h2M1303.5 500.4h5M1370.5 500.4h2M1397.5 500.4h2M1406.5 500.4h2M1409 500.4h8M1419.5 500.4h4M1424 500.4h2M1442 500.4h2M1447.5 500.4h2M1454 500.4h2M1456.5 500.4h2M1465 500.4h2M1476 500.4h2M1481 500.4h2M1495 500.4h2M934 503.8h2M955.5 503.8h2M998 503.8h2M1102 503.8h2M1118 503.8h4M1122.5 503.8h1.5M1129 503.8h2M1163.5 503.8h1M1177 503.8h2M1241.5 503.8h2M1250 503.8h2M1274 503.8h2M1278 503.8h2M1291 503.8h2M1298 503.8h2M1303.5 503.8h5M1343 503.8h2M1365 503.8h3M1374.5 503.8h2M1406.5 503.8h2M1409 503.8h3.5M1414 503.8h3M1419.5 503.8h4M1424 503.8h2M1442 503.8h2M1447.5 503.8h2M1456.5 503.8h2M1465 503.8h2M1476 503.8h2M1481 503.8h2M1074 507.2h2M1229.5 507.2h1M1274 507.2h2M1278 507.2h2M1306.5 507.2h2M1365 507.2h1M1406.5 507.2h2M1409 507.2h3.5M1419.5 507.2h4M1435.5 507.2h2M1442 507.2h2M1447.5 507.2h2M1456.5 507.2h2M1465 507.2h2M1476 507.2h2M1481 507.2h2M955.5 510.6h2M1105 510.6h2M1124 510.6h2M1129 510.6h2M1137.5 510.6h2M1228.5 510.6h2M1274 510.6h2M1278 510.6h2M1306.5 510.6h2M1310 510.6h2M1338.5 510.6h2M1343 510.6h2M1366 510.6h2M1374.5 510.6h2M1406.5 510.6h2M1409 510.6h8M1419.5 510.6h4M1424 510.6h2M1442 510.6h2M1447.5 510.6h2M1456.5 510.6h2M1465 510.6h2M1476 510.6h2M1481 510.6h2M955.5 514h2M998 514h2M1012 514h2M1105 514h2M1226 514h1.5M1274 514h2M1278 514h2M1287 514h3M1291 514h2M1310 514h2M1343 514h2M1370.5 514h2M1397.5 514h2M1406.5 514h2M1409 514h3.5M1419.5 514h4M1424 514h2M1442 514h2M1447.5 514h2M1456.5 514h2M1465 514h2M1476 514h2M1481 514h2M1495 514h2M934 517.4h2M975.5 517.4h2M998 517.4h2M1053.5 517.4h2M1074 517.4h2M1102 517.4h2M1105 517.4h2M1164.5 517.4h1.5M1185.5 517.4h1M1278 517.4h2M1310 517.4h2M1338.5 517.4h2M1343 517.4h2M1365 517.4h3M1374.5 517.4h2M1406.5 517.4h2M1409 517.4h1.5M1411.5 517.4h1M1419.5 517.4h4M1424 517.4h2M967 520.8h2M1074 520.8h2M1105 520.8h2M1118 520.8h2M1274 520.8h2M1278 520.8h2M1287 520.8h1M1338.5 520.8h2M1343 520.8h2M1406.5 520.8h2M1409 520.8h3.5M1414 520.8h3M1419.5 520.8h4M1424 520.8h2M1442 520.8h2M1447.5 520.8h2M1454 520.8h2M1456.5 520.8h2M1465 520.8h2M1476 520.8h2M1481 520.8h2M1495 520.8h2M934 524.2h2M998 524.2h2M1012 524.2h2M1053.5 524.2h2M1074 524.2h2M1105 524.2h2M1118 524.2h2M1129 524.2h2M1131.5 524.2h1.5M1142 524.2h2M1159 524.2h1.5M1192 524.2h1M1226 524.2h1.5M1232 524.2h1M1234 524.2h2M1241.5 524.2h2M1256 524.2h1.5M1343 524.2h2M1365 524.2h3M1370.5 524.2h2M1374.5 524.2h2M1406.5 524.2h2M1409 524.2h2.5M1414 524.2h3M1419.5 524.2h4M1424 524.2h2M1442 524.2h2M1447.5 524.2h2M1456.5 524.2h2M1465 524.2h2M1476 524.2h2M1481 524.2h2M1074 527.6h2M1122.5 527.6h3.5M1268.5 527.6h2M1274 527.6h2M1278 527.6h2M1283 527.6h1M1374.5 527.6h2M1406.5 527.6h2M1409 527.6h3.5M1414 527.6h3M1419.5 527.6h4M1447.5 527.6h2M1456.5 527.6h2M1465 527.6h2M1481 527.6h2M998 531h2M1074 531h2M1195.5 531h2M1226 531h4.5M1248.5 531h3.5M1261 531h1M1274 531h2M1278 531h2M1338.5 531h2M1343 531h2M1365 531h1M1370.5 531h2M1406.5 531h2M1409 531h8M1419.5 531h4M1424 531h2M1442 531h2M1447.5 531h2M1465 531h2M1476 531h2M1481 531h2M934 534.4h2M967 534.4h2M998 534.4h2M1118 534.4h2M1124 534.4h2M1210.5 534.4h1M1224.5 534.4h1.5M1268.5 534.4h2M1274 534.4h2M1278 534.4h2M1291 534.4h2M1338.5 534.4h2M1343 534.4h2M934 537.8h2M1074 537.8h2M1102 537.8h2M1105 537.8h2M1114 537.8h1M1118 537.8h2M1129 537.8h2M1137.5 537.8h2M1159 537.8h1.5M1192 537.8h1M1247 537.8h1.5M1274 537.8h2M1278 537.8h2M1303.5 537.8h1.5M1310 537.8h2M1343 537.8h2M1365 537.8h3M1406.5 537.8h2M1409 537.8h8M1419.5 537.8h4M1424 537.8h2M1435.5 537.8h2M1442 537.8h2M1447.5 537.8h2M1454 537.8h2M1456.5 537.8h2M1465 537.8h2M1476 537.8h2M1481 537.8h2M998 541.2h2M1105 541.2h2M1197.5 541.2h3M1229.5 541.2h1M1245.5 541.2h1.5M1274 541.2h2M1278 541.2h2M1283 541.2h1M1287 541.2h1M1305 541.2h1.5M1338.5 541.2h2M1365 541.2h1M1374.5 541.2h2M1406.5 541.2h2M1409 541.2h8M1419.5 541.2h4M1424 541.2h2M1442 541.2h2M1447.5 541.2h2M1456.5 541.2h2M1465 541.2h2M1476 541.2h2M1481 541.2h2M998 544.5h2M1053.5 544.5h2M1074 544.5h2M1105 544.5h2M1124 544.5h2M1137.5 544.5h2M1186.5 544.5h2M1195.5 544.5h2M1200.5 544.5h2M967 547.9h2M1012 547.9h2M1053.5 547.9h2M1074 547.9h2M1118 547.9h2M1129 547.9h2M1177 547.9h1M1195.5 547.9h2M1230.5 547.9h1.5M1265.5 547.9h2M1278 547.9h2M1343 547.9h2M967 551.3h2M975.5 551.3h2M998 551.3h2M1033.5 551.3h2M1105 551.3h2M1129 551.3h2M1137.5 551.3h2M1146 551.3h1.5M1197.5 551.3h2M1229.5 551.3h1M1234 551.3h2M1274 551.3h2M1278 551.3h2M1306.5 551.3h2M1310 551.3h2M1338.5 551.3h2M1343 551.3h2M1365 551.3h3M1374.5 551.3h2M1406.5 551.3h2M1409 551.3h3.5M1414 551.3h3M1419.5 551.3h4M1424 551.3h2M1442 551.3h2M1447.5 551.3h2M1456.5 551.3h2M1465 551.3h2M1476 551.3h2M1481 551.3h2M998 554.7h2M1074 554.7h2M1105 554.7h2M1115 554.7h2M1122.5 554.7h3.5M1129 554.7h2M1131.5 554.7h1.5M1159 554.7h1.5M1224.5 554.7h1.5M1237 554.7h3.5M1259 554.7h2M1268.5 554.7h2M1274 554.7h2M1278 554.7h2M1291 554.7h2M1303.5 554.7h5M1315.5 554.7h2M1338.5 554.7h2M1343 554.7h2M1366 554.7h2M1370.5 554.7h2M1397.5 554.7h2M1406.5 554.7h2M1409 554.7h3.5M1415 554.7h2M1419.5 554.7h4M1424 554.7h2M1442 554.7h2M1447.5 554.7h2M1456.5 554.7h2M1465 554.7h2M1476 554.7h2M1481 554.7h2M998 558.1h2M1033.5 558.1h2M1074 558.1h2M1124 558.1h2M1164.5 558.1h5.5M1222.5 558.1h2M1274 558.1h2M1278 558.1h2M1291 558.1h2M1303.5 558.1h1.5M1343 558.1h2M998 561.5h2M1074 561.5h2M1122.5 561.5h1.5M1133 561.5h2M1150 561.5h2M1274 561.5h2M1278 561.5h2M1291 561.5h2M1303.5 561.5h3M1343 561.5h2M1365 561.5h3M1374.5 561.5h2M998 564.9h2M1124 564.9h2M1129 564.9h2M1179 564.9h1M1274 564.9h2M1278 564.9h2M1310 564.9h2M1374.5 564.9h2M1397.5 564.9h2M1406.5 564.9h2M1409 564.9h2.5M1415 564.9h2M1419.5 564.9h4M1442 564.9h2M1447.5 564.9h2M1456.5 564.9h2M1465 564.9h2M1495 564.9h2M934 568.3h2M998 568.3h2M1074 568.3h2M1105 568.3h2M1118 568.3h2M1146 568.3h1.5M1195.5 568.3h2M1253 568.3h2M1256 568.3h1.5M1274 568.3h2M1278 568.3h2M1298 568.3h2M1338.5 568.3h2M1406.5 568.3h2M1409 568.3h2.5M1414 568.3h3M1419.5 568.3h4M1424 568.3h2M1442 568.3h2M1447.5 568.3h2M1456.5 568.3h2M1465 568.3h2M1476 568.3h2M1481 568.3h2M934 571.7h2M955.5 571.7h2M998 571.7h2M1074 571.7h2M1102 571.7h2M1105 571.7h2M1115 571.7h2M1129 571.7h2M1222.5 571.7h2M1229.5 571.7h2.5M1274 571.7h2M1278 571.7h2M1287 571.7h1M1291 571.7h2M1303.5 571.7h1.5M1343 571.7h2M1365 571.7h3M1397.5 571.7h2M1406.5 571.7h2M1409 571.7h3.5M1419.5 571.7h4M1424 571.7h2M1442 571.7h2M1447.5 571.7h2M1456.5 571.7h2M1465 571.7h2M1476 571.7h2M1481 571.7h2M934 575.1h2M998 575.1h2M1012 575.1h2M1124 575.1h2M1131.5 575.1h1.5M1137.5 575.1h2M1160.5 575.1h2M1247 575.1h1.5M1256 575.1h1.5M1274 575.1h2M1278 575.1h2M1287 575.1h1M1303.5 575.1h1.5M1338.5 575.1h2M1343 575.1h2M1365 575.1h3M1397.5 575.1h2M1406.5 575.1h2M1409 575.1h3.5M1414 575.1h3M1419.5 575.1h4M1424 575.1h2M1442 575.1h2M1447.5 575.1h2M1454 575.1h2M1456.5 575.1h2M1465 575.1h2M1476 575.1h2M1481 575.1h2M1495 575.1h2M1033.5 578.5h2M1105 578.5h2M1129 578.5h2M1190 578.5h1M1195.5 578.5h2M1224.5 578.5h1.5M1274 578.5h2M1278 578.5h2M1306.5 578.5h2M1343 578.5h2M1366 578.5h2M1370.5 578.5h2M1374.5 578.5h2M1406.5 578.5h2M1409 578.5h2.5M1414 578.5h3M1419.5 578.5h4M1424 578.5h2M1442 578.5h2M1447.5 578.5h2M1456.5 578.5h2M1465 578.5h2M1476 578.5h2M1481 578.5h2M955.5 585.3h2M967 585.3h2M998 585.3h2M1053.5 585.3h2M1074 585.3h2M1118 585.3h2M1124 585.3h2M1131.5 585.3h1.5M1195.5 585.3h2M1224.5 585.3h3M1233 585.3h1M1274 585.3h2M1278 585.3h2M1291 585.3h2M1303.5 585.3h5M1366 585.3h2M1370.5 585.3h2M1406.5 585.3h2M1409 585.3h3.5M1415 585.3h2M1419.5 585.3h4M1424 585.3h2M1442 585.3h2M1447.5 585.3h2M1456.5 585.3h2M1465 585.3h2M1481 585.3h2M1495 585.3h2M1012 588.7h2M1118 588.7h2M1129 588.7h2M1197.5 588.7h1M1200.5 588.7h2M1224.5 588.7h1.5M1253 588.7h2M1268.5 588.7h2M1274 588.7h2M1278 588.7h2M1338.5 588.7h2M1343 588.7h2M1365 588.7h1M1374.5 588.7h2M1406.5 588.7h2M1409 588.7h3.5M1414 588.7h3M1419.5 588.7h4M1424 588.7h2M1442 588.7h2M1447.5 588.7h2M1454 588.7h2M1456.5 588.7h2M1465 588.7h2M1476 588.7h2M1481 588.7h2M1102 592.1h2M1105 592.1h2M1118 592.1h2M1122.5 592.1h3.5M1131.5 592.1h1.5M1193 592.1h1M1229.5 592.1h1M1274 592.1h2M1278 592.1h2M1287 592.1h1M1291 592.1h2M1303.5 592.1h1.5M1306.5 592.1h2M1310 592.1h2M1338.5 592.1h2M1343 592.1h2M1374.5 592.1h2M1406.5 592.1h2M1409 592.1h3.5M1415 592.1h2M1419.5 592.1h4M1424 592.1h2M1442 592.1h2M1447.5 592.1h2M1456.5 592.1h2M1465 592.1h2M1476 592.1h2M1481 592.1h2M955.5 595.5h2M998 595.5h2M1053.5 595.5h2M1074 595.5h2M1124 595.5h2M1129 595.5h2M1164.5 595.5h1.5M1197.5 595.5h1M1208.5 595.5h1M1228.5 595.5h1M1241.5 595.5h2M1245.5 595.5h1.5" stroke="#0000ff" stroke-width="2.1" fill="none"/><path d="M354 443h570" stroke="#c8c8c8" stroke-width="0.8" stroke-dasharray="3 2" fill="none"/><path d="M929 484.2h569" stroke="#c8c8c8" stroke-width="0.8" stroke-dasharray="3 2" fill="none"/><rect x="518.00" y="313.20" width="6.00" height="2.00" fill="#8a2be2"/><rect x="857.36" y="333.28" width="1.40" height="2.40" fill="#9932cc"/><rect x="863.38" y="346.87" width="1.40" height="2.40" fill="#9932cc"/><rect x="865.18" y="350.26" width="1.40" height="2.40" fill="#9932cc"/><rect x="856.37" y="357.06" width="1.40" height="2.40" fill="#9932cc"/><rect x="860.67" y="360.45" width="1.40" height="2.40" fill="#9932cc"/><rect x="857.19" y="377.44" width="1.40" height="2.40" fill="#9932cc"/><rect x="860.97" y="387.63" width="1.40" height="2.40" fill="#9932cc"/><rect x="860.01" y="391.03" width="1.40" height="2.40" fill="#9932cc"/><rect x="863.86" y="397.82" width="1.40" height="2.40" fill="#9932cc"/><rect x="972.40" y="309.00" width="0.70" height="86.00" fill="#a4a4a4"/><rect x="1046.00" y="309.00" width="0.70" height="105.00" fill="#a4a4a4"/><rect x="1015.60" y="309.00" width="0.60" height="105.00" fill="#b4b4b4"/><rect x="375.20" y="313.00" width="0.60" height="27.00" fill="#a8a8a8"/><rect x="355.00" y="308.60" width="10.50" height="8.00" fill="#ffffff"/><text x="358.2" y="315.6" font-family="Liberation Sans, sans-serif" font-size="7.6" fill="#3c3cff">1</text><rect x="355.00" y="443.60" width="10.50" height="8.00" fill="#ffffff"/><text x="358.2" y="450.6" font-family="Liberation Sans, sans-serif" font-size="7.6" fill="#3c3cff">2</text><rect x="929.00" y="308.60" width="10.50" height="8.00" fill="#ffffff"/><text x="932.2" y="315.6" font-family="Liberation Sans, sans-serif" font-size="7.6" fill="#3c3cff">1</text><rect x="929.00" y="484.80" width="10.50" height="8.00" fill="#ffffff"/><text x="932.2" y="491.8" font-family="Liberation Sans, sans-serif" font-size="7.6" fill="#3c3cff">2</text><!--ROWD--><rect x="352.50" y="604.50" width="571.70" height="3.20" fill="#dedede"/><rect x="352.50" y="604.50" width="2.20" height="54.00" fill="#e2e2e2"/><rect x="927.00" y="604.50" width="571.00" height="3.20" fill="#dedede"/><rect x="927.00" y="604.50" width="2.20" height="54.00" fill="#e2e2e2"/><rect x="356.20" y="614.50" width="279.00" height="0.90" fill="#4646cc"/><rect x="359.90" y="612.00" width="6.00" height="5.80" fill="#0000b2"/><rect x="359.90" y="635.70" width="6.00" height="5.80" fill="#0000b2"/><rect x="370.00" y="612.00" width="5.80" height="5.80" fill="#0000b2"/><rect x="370.00" y="635.70" width="5.80" height="5.80" fill="#0000b2"/><rect x="380.60" y="612.00" width="6.60" height="5.80" fill="#0000b2"/><rect x="380.60" y="635.70" width="6.60" height="5.80" fill="#0000b2"/><rect x="635.20" y="612.00" width="13.00" height="5.80" fill="#0000b2"/><path d="M401.4 612.4L399 614.95L401.4 617.5M421.6 612.4L419.2 614.95L421.6 617.5M441.9 612.4L439.5 614.95L441.9 617.5M462.1 612.4L459.7 614.95L462.1 617.5M482.4 612.4L480 614.95L482.4 617.5M502.6 612.4L500.2 614.95L502.6 617.5M522.8 612.4L520.4 614.95L522.8 617.5M543.1 612.4L540.7 614.95L543.1 617.5M563.3 612.4L560.9 614.95L563.3 617.5M583.6 612.4L581.2 614.95L583.6 617.5M603.8 612.4L601.4 614.95L603.8 617.5M624 612.4L621.6 614.95L624 617.5" stroke="#4646cc" stroke-width="0.95" fill="none"/><text x="488.5" y="631.4" font-family="Liberation Sans, sans-serif" font-size="12.6" font-weight="normal" fill="#000" text-anchor="start" textLength="26.2" lengthAdjust="spacingAndGlyphs">H19</text><rect x="356.20" y="638.10" width="37.00" height="0.90" fill="#4646cc"/><rect x="392.80" y="635.70" width="70.20" height="5.80" fill="#0000b2"/><path d="M416.4 636.1L414 638.6L416.4 641.1M436.7 636.1L434.3 638.6L436.7 641.1M457.4 636.1L455 638.6L457.4 641.1" stroke="#ffffff" stroke-width="0.8" fill="none"/><text x="395.9" y="654.8" font-family="Liberation Sans, sans-serif" font-size="12.6" font-weight="normal" fill="#000" text-anchor="start" textLength="26.2" lengthAdjust="spacingAndGlyphs">H19</text><rect x="929.10" y="614.10" width="568.50" height="0.90" fill="#4646cc"/><path d="M935.4 612.0L937.8 614.55L935.4 617.1M955.6 612.0L958 614.55L955.6 617.1M975.9 612.0L978.3 614.55L975.9 617.1M996.1 612.0L998.5 614.55L996.1 617.1M1016.4 612.0L1018.8 614.55L1016.4 617.1M1036.6 612.0L1039 614.55L1036.6 617.1M1056.8 612.0L1059.2 614.55L1056.8 617.1M1077.1 612.0L1079.5 614.55L1077.1 617.1M1097.3 612.0L1099.7 614.55L1097.3 617.1M1117.6 612.0L1120 614.55L1117.6 617.1M1137.8 612.0L1140.2 614.55L1137.8 617.1M1158 612.0L1160.4 614.55L1158 617.1M1178.3 612.0L1180.7 614.55L1178.3 617.1M1198.5 612.0L1200.9 614.55L1198.5 617.1M1218.8 612.0L1221.2 614.55L1218.8 617.1M1239 612.0L1241.4 614.55L1239 617.1M1259.2 612.0L1261.6 614.55L1259.2 617.1M1279.5 612.0L1281.9 614.55L1279.5 617.1M1299.7 612.0L1302.1 614.55L1299.7 617.1M1320 612.0L1322.4 614.55L1320 617.1M1340.2 612.0L1342.6 614.55L1340.2 617.1M1360.4 612.0L1362.8 614.55L1360.4 617.1M1380.7 612.0L1383.1 614.55L1380.7 617.1M1400.9 612.0L1403.3 614.55L1400.9 617.1M1421.2 612.0L1423.6 614.55L1421.2 617.1M1441.4 612.0L1443.8 614.55L1441.4 617.1M1461.6 612.0L1464 614.55L1461.6 617.1M1481.9 612.0L1484.3 614.55L1481.9 617.1" stroke="#4646cc" stroke-width="0.95" fill="none"/><text x="1189.5" y="631.2" font-family="Liberation Sans, sans-serif" font-size="12.6" font-weight="normal" fill="#000" text-anchor="start" textLength="46.8" lengthAdjust="spacingAndGlyphs">KCNQ1</text><rect x="929.10" y="635.10" width="276.90" height="5.70" fill="#0000b2"/><path d="M949.4 635.5L947 638.0L949.4 640.5M969.6 635.5L967.2 638.0L969.6 640.5M989.9 635.5L987.5 638.0L989.9 640.5M1010.1 635.5L1007.8 638.0L1010.1 640.5M1030.4 635.5L1028 638.0L1030.4 640.5M1050.7 635.5L1048.2 638.0L1050.7 640.5M1070.9 635.5L1068.5 638.0L1070.9 640.5M1091.2 635.5L1088.8 638.0L1091.2 640.5M1111.4 635.5L1109 638.0L1111.4 640.5M1131.7 635.5L1129.2 638.0L1131.7 640.5M1151.9 635.5L1149.5 638.0L1151.9 640.5M1172.2 635.5L1169.8 638.0L1172.2 640.5M1192.4 635.5L1190 638.0L1192.4 640.5" stroke="#ffffff" stroke-width="0.8" fill="none"/><text x="1030.0" y="654.8" font-family="Liberation Sans, sans-serif" font-size="12.6" font-weight="normal" fill="#000" text-anchor="start" textLength="73.8" lengthAdjust="spacingAndGlyphs">KCNQ1OT1</text><g clip-path="url(#cpP1)"><rect x="354.30" y="13.50" width="575.00" height="6.90" fill="#ffffff" stroke="#6a6a6a" stroke-width="0.9" rx="1.5"/><rect x="365.50" y="13.30" width="37.10" height="6.80" fill="#808080" stroke="#505050" stroke-width="0.5"/><rect x="412.30" y="13.30" width="12.70" height="6.80" fill="#808080" stroke="#505050" stroke-width="0.5"/><rect x="446.30" y="13.30" width="17.70" height="6.80" fill="#000000" stroke="#505050" stroke-width="0.5"/><rect x="468.30" y="13.30" width="16.50" height="6.80" fill="#404040" stroke="#505050" stroke-width="0.5"/><rect x="506.60" y="13.30" width="30.00" height="6.80" fill="#000000" stroke="#505050" stroke-width="0.5"/><rect x="559.40" y="13.30" width="8.60" height="6.80" fill="#404040" stroke="#505050" stroke-width="0.5"/><rect x="568.00" y="13.40" width="20.80" height="6.60" fill="#fafafa"/><path d="M568 13.2L578.4 16.2L568 20.2zM588.8 13.2L578.4 17.2L588.8 20.2z" fill="#d80000"/><path d="M568 13.2L578.4 16.7L568 20.2zM588.8 13.2L578.4 16.7L588.8 20.2z" fill="#e00000"/><rect x="588.80" y="13.30" width="18.00" height="6.80" fill="#404040" stroke="#505050" stroke-width="0.5"/><rect x="614.50" y="13.30" width="6.80" height="6.80" fill="#bebebe" stroke="#505050" stroke-width="0.5"/><rect x="632.30" y="13.30" width="11.40" height="6.80" fill="#bebebe" stroke="#505050" stroke-width="0.5"/><rect x="650.90" y="13.30" width="20.80" height="6.80" fill="#808080" stroke="#505050" stroke-width="0.5"/><rect x="679.90" y="13.30" width="35.90" height="6.80" fill="#000000" stroke="#505050" stroke-width="0.5"/><rect x="727.00" y="13.30" width="18.80" height="6.80" fill="#000000" stroke="#505050" stroke-width="0.5"/><rect x="764.20" y="13.30" width="21.00" height="6.80" fill="#000000" stroke="#505050" stroke-width="0.5"/><rect x="788.10" y="13.30" width="31.90" height="6.80" fill="#000000" stroke="#505050" stroke-width="0.5"/><rect x="828.30" y="13.30" width="8.40" height="6.80" fill="#808080" stroke="#505050" stroke-width="0.5"/><rect x="865.00" y="13.30" width="11.10" height="6.80" fill="#808080" stroke="#505050" stroke-width="0.5"/><rect x="893.10" y="13.30" width="11.60" height="6.80" fill="#808080" stroke="#505050" stroke-width="0.5"/><rect x="360.50" y="12.00" width="3.20" height="10.00" fill="#ff0000" rx="0.8"/></g><g clip-path="url(#cpP2)"><rect x="928.00" y="13.50" width="575.00" height="6.90" fill="#ffffff" stroke="#6a6a6a" stroke-width="0.9" rx="1.5"/><rect x="939.20" y="13.30" width="37.10" height="6.80" fill="#808080" stroke="#505050" stroke-width="0.5"/><rect x="986.00" y="13.30" width="12.70" height="6.80" fill="#808080" stroke="#505050" stroke-width="0.5"/><rect x="1020.00" y="13.30" width="17.70" height="6.80" fill="#000000" stroke="#505050" stroke-width="0.5"/><rect x="1042.00" y="13.30" width="16.50" height="6.80" fill="#404040" stroke="#505050" stroke-width="0.5"/><rect x="1080.30" y="13.30" width="30.00" height="6.80" fill="#000000" stroke="#505050" stroke-width="0.5"/><rect x="1133.10" y="13.30" width="8.60" height="6.80" fill="#404040" stroke="#505050" stroke-width="0.5"/><rect x="1141.70" y="13.40" width="20.80" height="6.60" fill="#fafafa"/><path d="M1141.7 13.2L1152.1 16.2L1141.7 20.2zM1162.5 13.2L1152.1 17.2L1162.5 20.2z" fill="#d80000"/><path d="M1141.7 13.2L1152.1 16.7L1141.7 20.2zM1162.5 13.2L1152.1 16.7L1162.5 20.2z" fill="#e00000"/><rect x="1162.50" y="13.30" width="18.00" height="6.80" fill="#404040" stroke="#505050" stroke-width="0.5"/><rect x="1188.20" y="13.30" width="6.80" height="6.80" fill="#bebebe" stroke="#505050" stroke-width="0.5"/><rect x="1206.00" y="13.30" width="11.40" height="6.80" fill="#bebebe" stroke="#505050" stroke-width="0.5"/><rect x="1224.60" y="13.30" width="20.80" height="6.80" fill="#808080" stroke="#505050" stroke-width="0.5"/><rect x="1253.60" y="13.30" width="35.90" height="6.80" fill="#000000" stroke="#505050" stroke-width="0.5"/><rect x="1300.70" y="13.30" width="18.80" height="6.80" fill="#000000" stroke="#505050" stroke-width="0.5"/><rect x="1337.90" y="13.30" width="21.00" height="6.80" fill="#000000" stroke="#505050" stroke-width="0.5"/><rect x="1361.80" y="13.30" width="31.90" height="6.80" fill="#000000" stroke="#505050" stroke-width="0.5"/><rect x="1402.00" y="13.30" width="8.40" height="6.80" fill="#808080" stroke="#505050" stroke-width="0.5"/><rect x="1438.70" y="13.30" width="11.10" height="6.80" fill="#808080" stroke="#505050" stroke-width="0.5"/><rect x="1466.80" y="13.30" width="11.60" height="6.80" fill="#808080" stroke="#505050" stroke-width="0.5"/><rect x="936.80" y="12.00" width="3.20" height="10.00" fill="#ff0000" rx="0.8"/></g><text x="492.6" y="63.9" font-family="Liberation Sans, sans-serif" font-size="24.9" font-weight="bold" fill="#0000f2" text-anchor="start" textLength="308.0" lengthAdjust="spacingAndGlyphs">chr11:1,995,800-2,006,800</text><text x="1064.0" y="63.9" font-family="Liberation Sans, sans-serif" font-size="24.9" font-weight="bold" fill="#0000f2" text-anchor="start" textLength="310.0" lengthAdjust="spacingAndGlyphs">chr11:2,697,000-2,705,000</text><text x="357.0" y="97.0" font-family="Liberation Sans, sans-serif" font-size="6" font-weight="bold" fill="#333" text-anchor="start" textLength="25.5" lengthAdjust="spacingAndGlyphs">[0 - 1.00]</text><text x="357.0" y="165.0" font-family="Liberation Sans, sans-serif" font-size="6" font-weight="bold" fill="#333" text-anchor="start" textLength="25.5" lengthAdjust="spacingAndGlyphs">[0 - 1.00]</text><text x="357.0" y="242.8" font-family="Liberation Sans, sans-serif" font-size="6" font-weight="bold" fill="#333" text-anchor="start" textLength="20.0" lengthAdjust="spacingAndGlyphs">[0 - 69]</text><text x="931.0" y="97.0" font-family="Liberation Sans, sans-serif" font-size="6" font-weight="bold" fill="#333" text-anchor="start" textLength="25.5" lengthAdjust="spacingAndGlyphs">[0 - 1.00]</text><text x="931.0" y="165.0" font-family="Liberation Sans, sans-serif" font-size="6" font-weight="bold" fill="#333" text-anchor="start" textLength="25.5" lengthAdjust="spacingAndGlyphs">[0 - 1.00]</text><text x="931.0" y="242.8" font-family="Liberation Sans, sans-serif" font-size="6" font-weight="bold" fill="#333" text-anchor="start" textLength="20.0" lengthAdjust="spacingAndGlyphs">[0 - 69]</text><!--LABELS--><text x="8.6" y="35.1" font-family="Liberation Sans, sans-serif" font-size="24.5" font-weight="bold" fill="#000" text-anchor="start" textLength="210.1" lengthAdjust="spacingAndGlyphs">a) Phased Per-Site</text><text x="9.2" y="68.7" font-family="Liberation Sans, sans-serif" font-size="24.5" font-weight="bold" fill="#000" text-anchor="start" textLength="142.7" lengthAdjust="spacingAndGlyphs">Methylation</text><text x="8.6" y="101.7" font-family="Liberation Sans, sans-serif" font-size="24.5" font-weight="bold" fill="#000" text-anchor="start" textLength="84.1" lengthAdjust="spacingAndGlyphs">Output</text><text x="9.2" y="134.9" font-family="Liberation Sans, sans-serif" font-size="24.5" font-weight="bold" fill="#000" text-anchor="start" textLength="163.4" lengthAdjust="spacingAndGlyphs">by DeepMod2</text><text x="6.4" y="261.5" font-family="Liberation Sans, sans-serif" font-size="24.5" font-weight="bold" fill="#000" text-anchor="start" textLength="342.2" lengthAdjust="spacingAndGlyphs">b) Read Coverage and Overall</text><text x="6.4" y="294.8" font-family="Liberation Sans, sans-serif" font-size="24.5" font-weight="bold" fill="#000" text-anchor="start" textLength="270.9" lengthAdjust="spacingAndGlyphs">Methylation Frequency</text><text x="10.8" y="338.8" font-family="Liberation Sans, sans-serif" font-size="24.5" font-weight="bold" fill="#000" text-anchor="start" textLength="167.2" lengthAdjust="spacingAndGlyphs">c) Phased ONT</text><text x="10.8" y="372.2" font-family="Liberation Sans, sans-serif" font-size="24.5" font-weight="bold" fill="#000" text-anchor="start" textLength="127.8" lengthAdjust="spacingAndGlyphs">Reads with</text><text x="10.8" y="405.5" font-family="Liberation Sans, sans-serif" font-size="24.5" font-weight="bold" fill="#000" text-anchor="start" textLength="202.2" lengthAdjust="spacingAndGlyphs">Methylation Tags</text><text x="10.8" y="438.8" font-family="Liberation Sans, sans-serif" font-size="24.5" font-weight="bold" fill="#000" text-anchor="start" textLength="107.2" lengthAdjust="spacingAndGlyphs">added by</text><text x="10.3" y="473.2" font-family="Liberation Sans, sans-serif" font-size="24.5" font-weight="bold" fill="#000" text-anchor="start" textLength="129.4" lengthAdjust="spacingAndGlyphs">DeepMod2</text><text x="6.1" y="634.5" font-family="Liberation Sans, sans-serif" font-size="24.5" font-weight="bold" fill="#000" text-anchor="start" textLength="103.2" lengthAdjust="spacingAndGlyphs">d) Genes</text><rect x="235.50" y="91.60" width="115.00" height="139.50" fill="#ffffff"/><rect x="238.60" y="94.40" width="107.00" height="66.70" fill="#000000"/><rect x="238.60" y="165.30" width="107.00" height="63.20" fill="#000000"/><rect x="235.00" y="308.00" width="115.50" height="291.50" fill="#ffffff"/><rect x="238.00" y="311.50" width="106.80" height="124.20" fill="#000000"/><rect x="238.00" y="439.80" width="106.80" height="156.60" fill="#000000"/><text x="248.8" y="137.2" font-family="Liberation Sans, sans-serif" font-size="24.9" font-weight="bold" fill="#ffffff" text-anchor="start" textLength="88.4" lengthAdjust="spacingAndGlyphs">Phase 1</text><text x="248.8" y="204.6" font-family="Liberation Sans, sans-serif" font-size="24.9" font-weight="bold" fill="#ffffff" text-anchor="start" textLength="88.4" lengthAdjust="spacingAndGlyphs">Phase 2</text><text x="247.5" y="381.9" font-family="Liberation Sans, sans-serif" font-size="24.9" font-weight="bold" fill="#ffffff" text-anchor="start" textLength="88.8" lengthAdjust="spacingAndGlyphs">Phase 1</text><text x="247.5" y="526.6" font-family="Liberation Sans, sans-serif" font-size="24.9" font-weight="bold" fill="#ffffff" text-anchor="start" textLength="89.3" lengthAdjust="spacingAndGlyphs">Phase 2</text><rect x="0.00" y="0.00" width="1500.00" height="2.30" fill="#000000"/><rect x="0.00" y="0.00" width="3.00" height="662.00" fill="#000000"/><rect x="0.00" y="658.40" width="1500.00" height="3.60" fill="#000000"/><rect x="350.00" y="0.00" width="2.50" height="662.00" fill="#000000"/><rect x="924.20" y="0.00" width="2.80" height="662.00" fill="#000000"/><rect x="1498.00" y="306.00" width="2.00" height="356.00" fill="#000000"/><rect x="1497.00" y="2.30" width="1.60" height="303.00" fill="#a9b4c6"/><rect x="0.00" y="232.50" width="352.00" height="2.60" fill="#000000"/><rect x="0.00" y="305.50" width="1500.00" height="2.50" fill="#000000"/><rect x="352.00" y="438.00" width="1148.00" height="2.10" fill="#000000"/><rect x="0.00" y="601.00" width="352.00" height="3.20" fill="#000000"/><rect x="352.00" y="601.70" width="1148.00" height="3.20" fill="#000000"/>
</svg></body></html>
